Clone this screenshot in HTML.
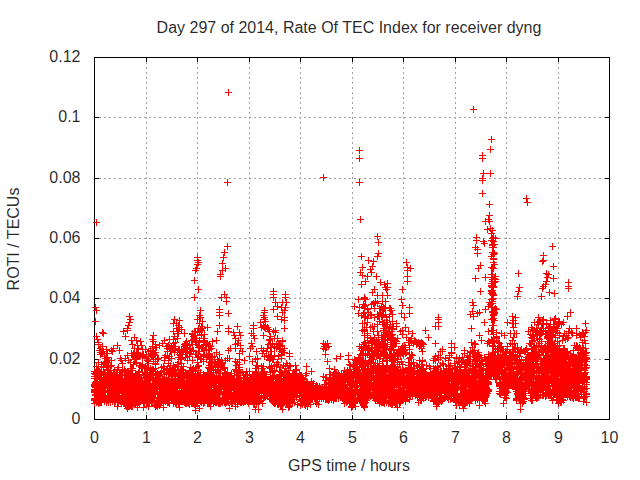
<!DOCTYPE html>
<html><head><meta charset="utf-8"><title>Day 297 of 2014, Rate Of TEC Index for receiver dyng</title>
<style>
html,body{margin:0;padding:0;background:#fff;width:640px;height:480px;overflow:hidden}
svg{display:block;position:absolute;left:0;top:0}
text{font-family:"Liberation Sans",Arial,sans-serif;font-size:16px;fill:#000;fill-opacity:.85}
</style></head><body>
<svg width="640" height="480" viewBox="0 0 640 480">
<rect width="640" height="480" fill="#fff"/>
<g shape-rendering="crispEdges" fill="none">
<path d="M146.5 62V419M197.5 62V419M249.5 62V419M300.5 62V419M352.5 62V419M403.5 62V419M455.5 62V419M506.5 62V419M558.5 62V419M99 359.5H609M99 298.5H609M99 238.5H609M99 178.5H609M99 117.5H609" stroke="#a0a0a0" stroke-width="1" stroke-dasharray="2 3"/>
<path d="M94.5 419v-4M94.5 58v4M146.5 419v-4M146.5 58v4M197.5 419v-4M197.5 58v4M249.5 419v-4M249.5 58v4M300.5 419v-4M300.5 58v4M352.5 419v-4M352.5 58v4M403.5 419v-4M403.5 58v4M455.5 419v-4M455.5 58v4M506.5 419v-4M506.5 58v4M558.5 419v-4M558.5 58v4M609.5 419v-4M609.5 58v4M95 419.5h4M609 419.5h-4M95 359.5h4M609 359.5h-4M95 298.5h4M609 298.5h-4M95 238.5h4M609 238.5h-4M95 178.5h4M609 178.5h-4M95 117.5h4M609 117.5h-4M95 57.5h4M609 57.5h-4" stroke="#000" stroke-width="1"/>
<path d="M94.5 57.5H609.5V419.5H94.5Z" stroke="#000" stroke-width="1"/>
<path d="M91 386.5h7M94.5 383v7M91 400.5h7M94.5 397v7M91 378.5h7M94.5 375v7M91 399.5h7M94.5 396v7M91 398.5h7M94.5 395v7M91 390.5h7M94.5 387v7M91 386.5h7M94.5 383v7M91 385.5h7M94.5 382v7M91 384.5h7M94.5 381v7M91 389.5h7M94.5 386v7M91 391.5h7M94.5 388v7M91 392.5h7M94.5 389v7M91 403.5h7M94.5 400v7M91 373.5h7M94.5 370v7M91 376.5h7M94.5 373v7M91 371.5h7M94.5 368v7M92 391.5h7M95.5 388v7M92 390.5h7M95.5 387v7M92 384.5h7M95.5 381v7M92 378.5h7M95.5 375v7M92 383.5h7M95.5 380v7M92 395.5h7M95.5 392v7M92 383.5h7M95.5 380v7M92 387.5h7M95.5 384v7M92 378.5h7M95.5 375v7M92 399.5h7M95.5 396v7M92 382.5h7M95.5 379v7M92 385.5h7M95.5 382v7M92 400.5h7M95.5 397v7M92 391.5h7M95.5 388v7M92 399.5h7M95.5 396v7M92 394.5h7M95.5 391v7M92 376.5h7M95.5 373v7M93 366.5h7M96.5 363v7M93 366.5h7M96.5 363v7M95 376.5h7M98.5 373v7M92 376.5h7M95.5 373v7M92 374.5h7M95.5 371v7M93 386.5h7M96.5 383v7M93 400.5h7M96.5 397v7M93 395.5h7M96.5 392v7M93 381.5h7M96.5 378v7M93 399.5h7M96.5 396v7M93 402.5h7M96.5 399v7M93 401.5h7M96.5 398v7M93 373.5h7M96.5 370v7M93 372.5h7M96.5 369v7M93 373.5h7M96.5 370v7M95 376.5h7M98.5 373v7M94 374.5h7M97.5 371v7M95 374.5h7M98.5 371v7M94 371.5h7M97.5 368v7M94 389.5h7M97.5 386v7M94 391.5h7M97.5 388v7M94 400.5h7M97.5 397v7M94 387.5h7M97.5 384v7M94 393.5h7M97.5 390v7M94 395.5h7M97.5 392v7M94 387.5h7M97.5 384v7M94 391.5h7M97.5 388v7M94 397.5h7M97.5 394v7M94 401.5h7M97.5 398v7M94 382.5h7M97.5 379v7M94 401.5h7M97.5 398v7M94 378.5h7M97.5 375v7M94 397.5h7M97.5 394v7M94 398.5h7M97.5 395v7M94 381.5h7M97.5 378v7M94 388.5h7M97.5 385v7M94 398.5h7M97.5 395v7M94 378.5h7M97.5 375v7M94 377.5h7M97.5 374v7M94 373.5h7M97.5 370v7M95 385.5h7M98.5 382v7M95 402.5h7M98.5 399v7M95 389.5h7M98.5 386v7M95 403.5h7M98.5 400v7M95 391.5h7M98.5 388v7M95 391.5h7M98.5 388v7M95 400.5h7M98.5 397v7M95 397.5h7M98.5 394v7M95 393.5h7M98.5 390v7M95 389.5h7M98.5 386v7M95 400.5h7M98.5 397v7M95 375.5h7M98.5 372v7M95 375.5h7M98.5 372v7M94 371.5h7M97.5 368v7M95 371.5h7M98.5 368v7M94 369.5h7M97.5 366v7M96 390.5h7M99.5 387v7M96 393.5h7M99.5 390v7M96 394.5h7M99.5 391v7M96 386.5h7M99.5 383v7M96 402.5h7M99.5 399v7M96 390.5h7M99.5 387v7M96 371.5h7M99.5 368v7M96 375.5h7M99.5 372v7M97 375.5h7M100.5 372v7M95 374.5h7M98.5 371v7M97 375.5h7M100.5 372v7M96 350.5h7M99.5 347v7M97 348.5h7M100.5 345v7M95 344.5h7M98.5 341v7M98 352.5h7M101.5 349v7M97 354.5h7M100.5 351v7M97 354.5h7M100.5 351v7M97 379.5h7M100.5 376v7M97 398.5h7M100.5 395v7M97 402.5h7M100.5 399v7M97 399.5h7M100.5 396v7M97 379.5h7M100.5 376v7M97 386.5h7M100.5 383v7M97 386.5h7M100.5 383v7M97 374.5h7M100.5 371v7M97 374.5h7M100.5 371v7M95 370.5h7M98.5 367v7M95 362.5h7M98.5 359v7M98 366.5h7M101.5 363v7M98 364.5h7M101.5 361v7M98 394.5h7M101.5 391v7M98 383.5h7M101.5 380v7M98 392.5h7M101.5 389v7M98 402.5h7M101.5 399v7M98 387.5h7M101.5 384v7M98 384.5h7M101.5 381v7M98 389.5h7M101.5 386v7M98 375.5h7M101.5 372v7M99 391.5h7M102.5 388v7M99 383.5h7M102.5 380v7M99 384.5h7M102.5 381v7M99 386.5h7M102.5 383v7M99 389.5h7M102.5 386v7M99 380.5h7M102.5 377v7M99 397.5h7M102.5 394v7M99 392.5h7M102.5 389v7M99 385.5h7M102.5 382v7M99 353.5h7M102.5 350v7M100 351.5h7M103.5 348v7M97 352.5h7M100.5 349v7M100 387.5h7M103.5 384v7M100 396.5h7M103.5 393v7M100 380.5h7M103.5 377v7M100 396.5h7M103.5 393v7M100 397.5h7M103.5 394v7M100 399.5h7M103.5 396v7M100 395.5h7M103.5 392v7M100 387.5h7M103.5 384v7M100 380.5h7M103.5 377v7M100 391.5h7M103.5 388v7M100 374.5h7M103.5 371v7M103 349.5h7M106.5 346v7M99 346.5h7M102.5 343v7M103 353.5h7M106.5 350v7M101 373.5h7M104.5 370v7M100 372.5h7M103.5 369v7M100 373.5h7M103.5 370v7M101 379.5h7M104.5 376v7M101 399.5h7M104.5 396v7M101 392.5h7M104.5 389v7M101 388.5h7M104.5 385v7M101 392.5h7M104.5 389v7M101 396.5h7M104.5 393v7M101 388.5h7M104.5 385v7M101 399.5h7M104.5 396v7M101 401.5h7M104.5 398v7M101 377.5h7M104.5 374v7M103 367.5h7M106.5 364v7M102 373.5h7M105.5 370v7M100 367.5h7M103.5 364v7M102 379.5h7M105.5 376v7M102 386.5h7M105.5 383v7M102 386.5h7M105.5 383v7M102 396.5h7M105.5 393v7M102 378.5h7M105.5 375v7M101 356.5h7M104.5 353v7M102 363.5h7M105.5 360v7M104 357.5h7M107.5 354v7M101 363.5h7M104.5 360v7M102 362.5h7M105.5 359v7M103 361.5h7M106.5 358v7M103 400.5h7M106.5 397v7M103 382.5h7M106.5 379v7M103 381.5h7M106.5 378v7M103 381.5h7M106.5 378v7M103 402.5h7M106.5 399v7M103 402.5h7M106.5 399v7M103 384.5h7M106.5 381v7M103 402.5h7M106.5 399v7M103 383.5h7M106.5 380v7M103 378.5h7M106.5 375v7M104 390.5h7M107.5 387v7M104 400.5h7M107.5 397v7M104 397.5h7M107.5 394v7M104 399.5h7M107.5 396v7M104 374.5h7M107.5 371v7M104 373.5h7M107.5 370v7M104 377.5h7M107.5 374v7M104 373.5h7M107.5 370v7M104 377.5h7M107.5 374v7M106 372.5h7M109.5 369v7M103 376.5h7M106.5 373v7M103 358.5h7M106.5 355v7M104 353.5h7M107.5 350v7M102 358.5h7M105.5 355v7M105 383.5h7M108.5 380v7M105 392.5h7M108.5 389v7M105 397.5h7M108.5 394v7M105 380.5h7M108.5 377v7M105 396.5h7M108.5 393v7M105 378.5h7M108.5 375v7M105 402.5h7M108.5 399v7M105 390.5h7M108.5 387v7M105 388.5h7M108.5 385v7M105 372.5h7M108.5 369v7M105 376.5h7M108.5 373v7M105 360.5h7M108.5 357v7M104 360.5h7M107.5 357v7M103 358.5h7M106.5 355v7M107 370.5h7M110.5 367v7M105 373.5h7M108.5 370v7M103 376.5h7M106.5 373v7M106 392.5h7M109.5 389v7M106 388.5h7M109.5 385v7M106 397.5h7M109.5 394v7M106 388.5h7M109.5 385v7M106 390.5h7M109.5 387v7M106 397.5h7M109.5 394v7M106 391.5h7M109.5 388v7M106 386.5h7M109.5 383v7M106 399.5h7M109.5 396v7M106 388.5h7M109.5 385v7M106 399.5h7M109.5 396v7M106 398.5h7M109.5 395v7M106 375.5h7M109.5 372v7M106 377.5h7M109.5 374v7M104 369.5h7M107.5 366v7M105 366.5h7M108.5 363v7M107 366.5h7M110.5 363v7M107 387.5h7M110.5 384v7M107 393.5h7M110.5 390v7M107 402.5h7M110.5 399v7M107 400.5h7M110.5 397v7M107 387.5h7M110.5 384v7M107 385.5h7M110.5 382v7M107 400.5h7M110.5 397v7M107 390.5h7M110.5 387v7M107 395.5h7M110.5 392v7M105 365.5h7M108.5 362v7M108 360.5h7M111.5 357v7M104 362.5h7M107.5 359v7M108 386.5h7M111.5 383v7M108 396.5h7M111.5 393v7M108 397.5h7M111.5 394v7M108 379.5h7M111.5 376v7M108 396.5h7M111.5 393v7M108 398.5h7M111.5 395v7M108 389.5h7M111.5 386v7M108 380.5h7M111.5 377v7M108 395.5h7M111.5 392v7M108 384.5h7M111.5 381v7M108 394.5h7M111.5 391v7M108 374.5h7M111.5 371v7M110 372.5h7M113.5 369v7M108 365.5h7M111.5 362v7M108 365.5h7M111.5 362v7M109 381.5h7M112.5 378v7M109 386.5h7M112.5 383v7M109 397.5h7M112.5 394v7M109 390.5h7M112.5 387v7M109 401.5h7M112.5 398v7M109 394.5h7M112.5 391v7M109 394.5h7M112.5 391v7M109 397.5h7M112.5 394v7M109 397.5h7M112.5 394v7M109 387.5h7M112.5 384v7M109 384.5h7M112.5 381v7M109 389.5h7M112.5 386v7M109 390.5h7M112.5 387v7M109 351.5h7M112.5 348v7M108 350.5h7M111.5 347v7M109 351.5h7M112.5 348v7M110 398.5h7M113.5 395v7M110 383.5h7M113.5 380v7M110 393.5h7M113.5 390v7M110 388.5h7M113.5 385v7M110 388.5h7M113.5 385v7M110 398.5h7M113.5 395v7M110 382.5h7M113.5 379v7M110 376.5h7M113.5 373v7M110 376.5h7M113.5 373v7M110 377.5h7M113.5 374v7M110 348.5h7M113.5 345v7M111 395.5h7M114.5 392v7M111 392.5h7M114.5 389v7M111 402.5h7M114.5 399v7M111 393.5h7M114.5 390v7M111 386.5h7M114.5 383v7M111 391.5h7M114.5 388v7M111 378.5h7M114.5 375v7M111 396.5h7M114.5 393v7M111 395.5h7M114.5 392v7M111 389.5h7M114.5 386v7M111 399.5h7M114.5 396v7M111 397.5h7M114.5 394v7M111 372.5h7M114.5 369v7M112 400.5h7M115.5 397v7M112 395.5h7M115.5 392v7M112 399.5h7M115.5 396v7M112 388.5h7M115.5 385v7M112 378.5h7M115.5 375v7M112 398.5h7M115.5 395v7M112 384.5h7M115.5 381v7M112 382.5h7M115.5 379v7M112 398.5h7M115.5 395v7M112 395.5h7M115.5 392v7M112 383.5h7M115.5 380v7M112 385.5h7M115.5 382v7M112 401.5h7M115.5 398v7M112 385.5h7M115.5 382v7M112 396.5h7M115.5 393v7M112 381.5h7M115.5 378v7M112 375.5h7M115.5 372v7M113 397.5h7M116.5 394v7M113 393.5h7M116.5 390v7M113 386.5h7M116.5 383v7M113 394.5h7M116.5 391v7M113 389.5h7M116.5 386v7M113 377.5h7M116.5 374v7M111 370.5h7M114.5 367v7M113 372.5h7M116.5 369v7M115 367.5h7M118.5 364v7M114 369.5h7M117.5 366v7M110 373.5h7M113.5 370v7M114 372.5h7M117.5 369v7M114 380.5h7M117.5 377v7M114 390.5h7M117.5 387v7M114 383.5h7M117.5 380v7M114 396.5h7M117.5 393v7M114 401.5h7M117.5 398v7M114 385.5h7M117.5 382v7M114 392.5h7M117.5 389v7M114 391.5h7M117.5 388v7M114 345.5h7M117.5 342v7M114 406.5h7M117.5 403v7M115 380.5h7M118.5 377v7M115 385.5h7M118.5 382v7M115 398.5h7M118.5 395v7M115 390.5h7M118.5 387v7M115 389.5h7M118.5 386v7M115 402.5h7M118.5 399v7M115 386.5h7M118.5 383v7M115 379.5h7M118.5 376v7M115 388.5h7M118.5 385v7M116 386.5h7M119.5 383v7M116 392.5h7M119.5 389v7M116 397.5h7M119.5 394v7M116 393.5h7M119.5 390v7M116 398.5h7M119.5 395v7M116 392.5h7M119.5 389v7M116 383.5h7M119.5 380v7M116 393.5h7M119.5 390v7M116 390.5h7M119.5 387v7M116 382.5h7M119.5 379v7M116 393.5h7M119.5 390v7M116 376.5h7M119.5 373v7M118 360.5h7M121.5 357v7M117 358.5h7M120.5 355v7M119 363.5h7M122.5 360v7M116 350.5h7M119.5 347v7M117 383.5h7M120.5 380v7M117 390.5h7M120.5 387v7M117 401.5h7M120.5 398v7M118 382.5h7M121.5 379v7M118 387.5h7M121.5 384v7M118 403.5h7M121.5 400v7M118 397.5h7M121.5 394v7M118 381.5h7M121.5 378v7M118 398.5h7M121.5 395v7M118 386.5h7M121.5 383v7M118 398.5h7M121.5 395v7M118 378.5h7M121.5 375v7M118 400.5h7M121.5 397v7M118 382.5h7M121.5 379v7M118 389.5h7M121.5 386v7M118 395.5h7M121.5 392v7M118 372.5h7M121.5 369v7M119 387.5h7M122.5 384v7M119 393.5h7M122.5 390v7M119 385.5h7M122.5 382v7M119 379.5h7M122.5 376v7M119 386.5h7M122.5 383v7M119 397.5h7M122.5 394v7M120 384.5h7M123.5 381v7M120 381.5h7M123.5 378v7M120 389.5h7M123.5 386v7M120 393.5h7M123.5 390v7M120 401.5h7M123.5 398v7M120 382.5h7M123.5 379v7M120 396.5h7M123.5 393v7M120 390.5h7M123.5 387v7M123 372.5h7M126.5 369v7M119 375.5h7M122.5 372v7M121 378.5h7M124.5 375v7M117 374.5h7M120.5 371v7M119 370.5h7M122.5 367v7M121 369.5h7M124.5 366v7M120 331.5h7M123.5 328v7M121 402.5h7M124.5 399v7M121 388.5h7M124.5 385v7M121 387.5h7M124.5 384v7M121 397.5h7M124.5 394v7M121 390.5h7M124.5 387v7M121 389.5h7M124.5 386v7M121 388.5h7M124.5 385v7M121 389.5h7M124.5 386v7M121 381.5h7M124.5 378v7M121 380.5h7M124.5 377v7M121 397.5h7M124.5 394v7M121 392.5h7M124.5 389v7M121 395.5h7M124.5 392v7M121 398.5h7M124.5 395v7M121 384.5h7M124.5 381v7M121 384.5h7M124.5 381v7M121 385.5h7M124.5 382v7M121 375.5h7M124.5 372v7M122 395.5h7M125.5 392v7M122 379.5h7M125.5 376v7M122 389.5h7M125.5 386v7M122 394.5h7M125.5 391v7M122 385.5h7M125.5 382v7M122 387.5h7M125.5 384v7M122 394.5h7M125.5 391v7M122 394.5h7M125.5 391v7M122 382.5h7M125.5 379v7M122 397.5h7M125.5 394v7M122 380.5h7M125.5 377v7M122 404.5h7M125.5 401v7M122 383.5h7M125.5 380v7M122 385.5h7M125.5 382v7M119 371.5h7M122.5 368v7M122 371.5h7M125.5 368v7M119 371.5h7M122.5 368v7M123 384.5h7M126.5 381v7M123 388.5h7M126.5 385v7M123 380.5h7M126.5 377v7M123 379.5h7M126.5 376v7M123 405.5h7M126.5 402v7M123 391.5h7M126.5 388v7M123 384.5h7M126.5 381v7M123 399.5h7M126.5 396v7M123 378.5h7M126.5 375v7M123 385.5h7M126.5 382v7M123 406.5h7M126.5 403v7M123 404.5h7M126.5 401v7M123 396.5h7M126.5 393v7M124 383.5h7M127.5 380v7M124 406.5h7M127.5 403v7M124 388.5h7M127.5 385v7M124 388.5h7M127.5 385v7M124 381.5h7M127.5 378v7M124 403.5h7M127.5 400v7M124 399.5h7M127.5 396v7M124 395.5h7M127.5 392v7M124 397.5h7M127.5 394v7M124 381.5h7M127.5 378v7M124 386.5h7M127.5 383v7M124 396.5h7M127.5 393v7M124 408.5h7M127.5 405v7M124 403.5h7M127.5 400v7M124 377.5h7M127.5 374v7M124 371.5h7M127.5 368v7M125 383.5h7M128.5 380v7M125 379.5h7M128.5 376v7M125 403.5h7M128.5 400v7M125 406.5h7M128.5 403v7M125 385.5h7M128.5 382v7M125 403.5h7M128.5 400v7M125 390.5h7M128.5 387v7M125 387.5h7M128.5 384v7M125 393.5h7M128.5 390v7M125 378.5h7M128.5 375v7M125 391.5h7M128.5 388v7M125 384.5h7M128.5 381v7M125 399.5h7M128.5 396v7M125 393.5h7M128.5 390v7M125 403.5h7M128.5 400v7M125 374.5h7M128.5 371v7M124 355.5h7M127.5 352v7M127 362.5h7M130.5 359v7M125 360.5h7M128.5 357v7M126 382.5h7M129.5 379v7M126 390.5h7M129.5 387v7M126 402.5h7M129.5 399v7M126 396.5h7M129.5 393v7M126 399.5h7M129.5 396v7M126 395.5h7M129.5 392v7M126 384.5h7M129.5 381v7M126 401.5h7M129.5 398v7M126 378.5h7M129.5 375v7M126 398.5h7M129.5 395v7M126 384.5h7M129.5 381v7M126 392.5h7M129.5 389v7M126 406.5h7M129.5 403v7M126 393.5h7M129.5 390v7M126 380.5h7M129.5 377v7M126 390.5h7M129.5 387v7M126 397.5h7M129.5 394v7M126 380.5h7M129.5 377v7M126 385.5h7M129.5 382v7M126 379.5h7M129.5 376v7M126 375.5h7M129.5 372v7M127 402.5h7M130.5 399v7M127 386.5h7M130.5 383v7M127 401.5h7M130.5 398v7M127 386.5h7M130.5 383v7M127 398.5h7M130.5 395v7M127 387.5h7M130.5 384v7M127 395.5h7M130.5 392v7M127 404.5h7M130.5 401v7M127 380.5h7M130.5 377v7M127 401.5h7M130.5 398v7M127 393.5h7M130.5 390v7M127 389.5h7M130.5 386v7M127 374.5h7M130.5 371v7M125 372.5h7M128.5 369v7M127 368.5h7M130.5 365v7M128 368.5h7M131.5 365v7M128 394.5h7M131.5 391v7M128 384.5h7M131.5 381v7M128 394.5h7M131.5 391v7M128 387.5h7M131.5 384v7M128 382.5h7M131.5 379v7M128 382.5h7M131.5 379v7M128 402.5h7M131.5 399v7M128 406.5h7M131.5 403v7M128 382.5h7M131.5 379v7M128 378.5h7M131.5 375v7M128 386.5h7M131.5 383v7M128 382.5h7M131.5 379v7M128 384.5h7M131.5 381v7M128 395.5h7M131.5 392v7M128 391.5h7M131.5 388v7M128 391.5h7M131.5 388v7M128 384.5h7M131.5 381v7M128 375.5h7M131.5 372v7M128 353.5h7M131.5 350v7M129 392.5h7M132.5 389v7M129 403.5h7M132.5 400v7M129 397.5h7M132.5 394v7M129 381.5h7M132.5 378v7M129 382.5h7M132.5 379v7M129 406.5h7M132.5 403v7M129 379.5h7M132.5 376v7M129 387.5h7M132.5 384v7M129 405.5h7M132.5 402v7M129 378.5h7M132.5 375v7M129 383.5h7M132.5 380v7M129 384.5h7M132.5 381v7M129 380.5h7M132.5 377v7M129 391.5h7M132.5 388v7M129 395.5h7M132.5 392v7M129 387.5h7M132.5 384v7M129 381.5h7M132.5 378v7M129 376.5h7M132.5 373v7M129 376.5h7M132.5 373v7M129 375.5h7M132.5 372v7M127 368.5h7M130.5 365v7M129 368.5h7M132.5 365v7M129 370.5h7M132.5 367v7M130 383.5h7M133.5 380v7M130 395.5h7M133.5 392v7M130 397.5h7M133.5 394v7M130 392.5h7M133.5 389v7M130 401.5h7M133.5 398v7M130 390.5h7M133.5 387v7M130 390.5h7M133.5 387v7M130 386.5h7M133.5 383v7M130 403.5h7M133.5 400v7M130 386.5h7M133.5 383v7M130 378.5h7M133.5 375v7M127 376.5h7M130.5 373v7M126 380.5h7M129.5 377v7M129 379.5h7M132.5 376v7M131 401.5h7M134.5 398v7M131 386.5h7M134.5 383v7M131 392.5h7M134.5 389v7M131 378.5h7M134.5 375v7M131 387.5h7M134.5 384v7M131 402.5h7M134.5 399v7M131 381.5h7M134.5 378v7M131 400.5h7M134.5 397v7M131 394.5h7M134.5 391v7M131 385.5h7M134.5 382v7M131 397.5h7M134.5 394v7M131 355.5h7M134.5 352v7M131 357.5h7M134.5 354v7M129 355.5h7M132.5 352v7M132 403.5h7M135.5 400v7M132 389.5h7M135.5 386v7M132 397.5h7M135.5 394v7M132 380.5h7M135.5 377v7M132 377.5h7M135.5 374v7M132 373.5h7M135.5 370v7M132 374.5h7M135.5 371v7M132 374.5h7M135.5 371v7M132 376.5h7M135.5 373v7M133 359.5h7M136.5 356v7M133 358.5h7M136.5 355v7M132 357.5h7M135.5 354v7M130 364.5h7M133.5 361v7M132 359.5h7M135.5 356v7M131 359.5h7M134.5 356v7M133 393.5h7M136.5 390v7M133 400.5h7M136.5 397v7M133 396.5h7M136.5 393v7M133 390.5h7M136.5 387v7M133 398.5h7M136.5 395v7M133 390.5h7M136.5 387v7M133 402.5h7M136.5 399v7M133 385.5h7M136.5 382v7M133 381.5h7M136.5 378v7M133 377.5h7M136.5 374v7M134 354.5h7M137.5 351v7M131 355.5h7M134.5 352v7M131 355.5h7M134.5 352v7M133 352.5h7M136.5 349v7M134 394.5h7M137.5 391v7M134 401.5h7M137.5 398v7M134 398.5h7M137.5 395v7M134 382.5h7M137.5 379v7M134 390.5h7M137.5 387v7M134 390.5h7M137.5 387v7M134 403.5h7M137.5 400v7M134 380.5h7M137.5 377v7M134 374.5h7M137.5 371v7M134 376.5h7M137.5 373v7M134 348.5h7M137.5 345v7M134 407.5h7M137.5 404v7M135 388.5h7M138.5 385v7M135 402.5h7M138.5 399v7M135 397.5h7M138.5 394v7M135 379.5h7M138.5 376v7M135 396.5h7M138.5 393v7M135 401.5h7M138.5 398v7M135 402.5h7M138.5 399v7M135 396.5h7M138.5 393v7M135 372.5h7M138.5 369v7M135 377.5h7M138.5 374v7M136 402.5h7M139.5 399v7M136 385.5h7M139.5 382v7M136 403.5h7M139.5 400v7M136 401.5h7M139.5 398v7M136 387.5h7M139.5 384v7M136 386.5h7M139.5 383v7M136 381.5h7M139.5 378v7M136 401.5h7M139.5 398v7M136 383.5h7M139.5 380v7M136 378.5h7M139.5 375v7M136 400.5h7M139.5 397v7M136 371.5h7M139.5 368v7M136 372.5h7M139.5 369v7M133 363.5h7M136.5 360v7M133 362.5h7M136.5 359v7M138 366.5h7M141.5 363v7M137 392.5h7M140.5 389v7M137 396.5h7M140.5 393v7M137 401.5h7M140.5 398v7M137 396.5h7M140.5 393v7M137 387.5h7M140.5 384v7M137 380.5h7M140.5 377v7M137 396.5h7M140.5 393v7M137 377.5h7M140.5 374v7M138 396.5h7M141.5 393v7M138 390.5h7M141.5 387v7M138 388.5h7M141.5 385v7M138 387.5h7M141.5 384v7M138 390.5h7M141.5 387v7M138 385.5h7M141.5 382v7M138 384.5h7M141.5 381v7M138 382.5h7M141.5 379v7M138 389.5h7M141.5 386v7M138 385.5h7M141.5 382v7M138 399.5h7M141.5 396v7M138 399.5h7M141.5 396v7M138 378.5h7M141.5 375v7M139 394.5h7M142.5 391v7M139 400.5h7M142.5 397v7M139 386.5h7M142.5 383v7M139 396.5h7M142.5 393v7M139 385.5h7M142.5 382v7M139 391.5h7M142.5 388v7M139 395.5h7M142.5 392v7M139 383.5h7M142.5 380v7M139 380.5h7M142.5 377v7M139 398.5h7M142.5 395v7M139 398.5h7M142.5 395v7M139 395.5h7M142.5 392v7M139 372.5h7M142.5 369v7M139 364.5h7M142.5 361v7M137 365.5h7M140.5 362v7M142 366.5h7M145.5 363v7M140 397.5h7M143.5 394v7M140 385.5h7M143.5 382v7M140 395.5h7M143.5 392v7M140 387.5h7M143.5 384v7M140 386.5h7M143.5 383v7M140 390.5h7M143.5 387v7M140 391.5h7M143.5 388v7M140 395.5h7M143.5 392v7M140 394.5h7M143.5 391v7M140 395.5h7M143.5 392v7M140 388.5h7M143.5 385v7M140 395.5h7M143.5 392v7M140 387.5h7M143.5 384v7M140 393.5h7M143.5 390v7M140 389.5h7M143.5 386v7M140 375.5h7M143.5 372v7M140 407.5h7M143.5 404v7M141 381.5h7M144.5 378v7M141 394.5h7M144.5 391v7M141 381.5h7M144.5 378v7M141 400.5h7M144.5 397v7M141 381.5h7M144.5 378v7M141 387.5h7M144.5 384v7M141 390.5h7M144.5 387v7M141 381.5h7M144.5 378v7M141 386.5h7M144.5 383v7M141 385.5h7M144.5 382v7M141 396.5h7M144.5 393v7M141 403.5h7M144.5 400v7M141 387.5h7M144.5 384v7M141 398.5h7M144.5 395v7M141 382.5h7M144.5 379v7M141 374.5h7M144.5 371v7M139 357.5h7M142.5 354v7M140 355.5h7M143.5 352v7M139 356.5h7M142.5 353v7M142 374.5h7M145.5 371v7M138 367.5h7M141.5 364v7M143 368.5h7M146.5 365v7M142 384.5h7M145.5 381v7M142 394.5h7M145.5 391v7M142 395.5h7M145.5 392v7M142 390.5h7M145.5 387v7M142 383.5h7M145.5 380v7M142 388.5h7M145.5 385v7M142 397.5h7M145.5 394v7M142 383.5h7M145.5 380v7M142 380.5h7M145.5 377v7M142 390.5h7M145.5 387v7M145 351.5h7M148.5 348v7M147 354.5h7M150.5 351v7M144 360.5h7M147.5 357v7M142 367.5h7M145.5 364v7M143 368.5h7M146.5 365v7M137 377.5h7M140.5 374v7M145 361.5h7M148.5 358v7M145 367.5h7M148.5 364v7M145 363.5h7M148.5 360v7M142 349.5h7M145.5 346v7M139 355.5h7M142.5 352v7M140 354.5h7M143.5 351v7M143 383.5h7M146.5 380v7M143 386.5h7M146.5 383v7M143 386.5h7M146.5 383v7M143 403.5h7M146.5 400v7M143 386.5h7M146.5 383v7M143 384.5h7M146.5 381v7M143 401.5h7M146.5 398v7M143 381.5h7M146.5 378v7M143 402.5h7M146.5 399v7M143 373.5h7M146.5 370v7M143 372.5h7M146.5 369v7M144 403.5h7M147.5 400v7M144 396.5h7M147.5 393v7M144 382.5h7M147.5 379v7M144 392.5h7M147.5 389v7M144 382.5h7M147.5 379v7M144 379.5h7M147.5 376v7M144 402.5h7M147.5 399v7M144 386.5h7M147.5 383v7M144 383.5h7M147.5 380v7M144 381.5h7M147.5 378v7M144 394.5h7M147.5 391v7M144 390.5h7M147.5 387v7M144 378.5h7M147.5 375v7M144 396.5h7M147.5 393v7M144 384.5h7M147.5 381v7M144 398.5h7M147.5 395v7M144 375.5h7M147.5 372v7M141 368.5h7M144.5 365v7M143 358.5h7M146.5 355v7M149 369.5h7M152.5 366v7M144 374.5h7M147.5 371v7M144 370.5h7M147.5 367v7M143 375.5h7M146.5 372v7M146 372.5h7M149.5 369v7M148 370.5h7M151.5 367v7M144 367.5h7M147.5 364v7M145 397.5h7M148.5 394v7M145 403.5h7M148.5 400v7M145 395.5h7M148.5 392v7M145 379.5h7M148.5 376v7M145 385.5h7M148.5 382v7M145 398.5h7M148.5 395v7M145 401.5h7M148.5 398v7M145 393.5h7M148.5 390v7M145 376.5h7M148.5 373v7M145 356.5h7M148.5 353v7M143 354.5h7M146.5 351v7M143 356.5h7M146.5 353v7M145 406.5h7M148.5 403v7M146 389.5h7M149.5 386v7M146 383.5h7M149.5 380v7M146 402.5h7M149.5 399v7M146 390.5h7M149.5 387v7M146 396.5h7M149.5 393v7M146 391.5h7M149.5 388v7M146 380.5h7M149.5 377v7M146 384.5h7M149.5 381v7M146 380.5h7M149.5 377v7M146 383.5h7M149.5 380v7M146 383.5h7M149.5 380v7M146 388.5h7M149.5 385v7M146 377.5h7M149.5 374v7M147 385.5h7M150.5 382v7M147 392.5h7M150.5 389v7M147 384.5h7M150.5 381v7M147 399.5h7M150.5 396v7M147 399.5h7M150.5 396v7M147 386.5h7M150.5 383v7M147 379.5h7M150.5 376v7M147 400.5h7M150.5 397v7M147 385.5h7M150.5 382v7M147 394.5h7M150.5 391v7M147 399.5h7M150.5 396v7M147 375.5h7M150.5 372v7M147 374.5h7M150.5 371v7M147 375.5h7M150.5 372v7M148 388.5h7M151.5 385v7M148 390.5h7M151.5 387v7M148 402.5h7M151.5 399v7M148 402.5h7M151.5 399v7M148 402.5h7M151.5 399v7M148 396.5h7M151.5 393v7M148 374.5h7M151.5 371v7M149 386.5h7M152.5 383v7M149 396.5h7M152.5 393v7M149 378.5h7M152.5 375v7M149 384.5h7M152.5 381v7M149 400.5h7M152.5 397v7M149 377.5h7M152.5 374v7M149 377.5h7M152.5 374v7M149 375.5h7M152.5 372v7M150 388.5h7M153.5 385v7M150 389.5h7M153.5 386v7M150 385.5h7M153.5 382v7M150 388.5h7M153.5 385v7M150 386.5h7M153.5 383v7M150 387.5h7M153.5 384v7M150 393.5h7M153.5 390v7M150 390.5h7M153.5 387v7M150 383.5h7M153.5 380v7M150 377.5h7M153.5 374v7M150 377.5h7M153.5 374v7M148 355.5h7M151.5 352v7M150 350.5h7M153.5 347v7M150 354.5h7M153.5 351v7M147 368.5h7M150.5 365v7M150 369.5h7M153.5 366v7M148 370.5h7M151.5 367v7M150 359.5h7M153.5 356v7M149 355.5h7M152.5 352v7M152 355.5h7M155.5 352v7M151 398.5h7M154.5 395v7M151 397.5h7M154.5 394v7M151 380.5h7M154.5 377v7M151 404.5h7M154.5 401v7M151 394.5h7M154.5 391v7M151 385.5h7M154.5 382v7M151 390.5h7M154.5 387v7M151 392.5h7M154.5 389v7M151 392.5h7M154.5 389v7M152 391.5h7M155.5 388v7M152 384.5h7M155.5 381v7M152 378.5h7M155.5 375v7M152 406.5h7M155.5 403v7M152 387.5h7M155.5 384v7M152 394.5h7M155.5 391v7M152 388.5h7M155.5 385v7M152 380.5h7M155.5 377v7M152 404.5h7M155.5 401v7M152 405.5h7M155.5 402v7M152 383.5h7M155.5 380v7M152 373.5h7M155.5 370v7M152 374.5h7M155.5 371v7M152 373.5h7M155.5 370v7M152 371.5h7M155.5 368v7M152 373.5h7M155.5 370v7M152 368.5h7M155.5 365v7M154 373.5h7M157.5 370v7M153 384.5h7M156.5 381v7M153 400.5h7M156.5 397v7M153 383.5h7M156.5 380v7M153 405.5h7M156.5 402v7M153 384.5h7M156.5 381v7M153 401.5h7M156.5 398v7M153 404.5h7M156.5 401v7M153 386.5h7M156.5 383v7M153 381.5h7M156.5 378v7M153 375.5h7M156.5 372v7M150 361.5h7M153.5 358v7M152 363.5h7M155.5 360v7M152 364.5h7M155.5 361v7M154 393.5h7M157.5 390v7M154 387.5h7M157.5 384v7M154 385.5h7M157.5 382v7M154 389.5h7M157.5 386v7M154 393.5h7M157.5 390v7M154 398.5h7M157.5 395v7M154 406.5h7M157.5 403v7M154 375.5h7M157.5 372v7M154 373.5h7M157.5 370v7M155 358.5h7M158.5 355v7M155 358.5h7M158.5 355v7M154 359.5h7M157.5 356v7M155 402.5h7M158.5 399v7M155 404.5h7M158.5 401v7M155 402.5h7M158.5 399v7M155 400.5h7M158.5 397v7M155 384.5h7M158.5 381v7M155 379.5h7M158.5 376v7M155 378.5h7M158.5 375v7M156 399.5h7M159.5 396v7M156 398.5h7M159.5 395v7M156 386.5h7M159.5 383v7M156 399.5h7M159.5 396v7M156 401.5h7M159.5 398v7M156 393.5h7M159.5 390v7M156 387.5h7M159.5 384v7M156 401.5h7M159.5 398v7M156 402.5h7M159.5 399v7M156 387.5h7M159.5 384v7M156 380.5h7M159.5 377v7M156 400.5h7M159.5 397v7M156 376.5h7M159.5 373v7M156 345.5h7M159.5 342v7M156 405.5h7M159.5 402v7M157 401.5h7M160.5 398v7M157 399.5h7M160.5 396v7M157 382.5h7M160.5 379v7M157 393.5h7M160.5 390v7M157 392.5h7M160.5 389v7M157 395.5h7M160.5 392v7M157 386.5h7M160.5 383v7M157 388.5h7M160.5 385v7M157 384.5h7M160.5 381v7M157 385.5h7M160.5 382v7M157 382.5h7M160.5 379v7M157 401.5h7M160.5 398v7M157 400.5h7M160.5 397v7M157 387.5h7M160.5 384v7M157 374.5h7M160.5 371v7M157 378.5h7M160.5 375v7M158 381.5h7M161.5 378v7M158 396.5h7M161.5 393v7M158 398.5h7M161.5 395v7M158 399.5h7M161.5 396v7M158 402.5h7M161.5 399v7M158 396.5h7M161.5 393v7M158 402.5h7M161.5 399v7M158 385.5h7M161.5 382v7M158 372.5h7M161.5 369v7M158 367.5h7M161.5 364v7M161 368.5h7M164.5 365v7M158 371.5h7M161.5 368v7M159 387.5h7M162.5 384v7M159 398.5h7M162.5 395v7M159 398.5h7M162.5 395v7M159 390.5h7M162.5 387v7M159 400.5h7M162.5 397v7M159 388.5h7M162.5 385v7M159 397.5h7M162.5 394v7M159 394.5h7M162.5 391v7M159 386.5h7M162.5 383v7M159 391.5h7M162.5 388v7M159 378.5h7M162.5 375v7M159 378.5h7M162.5 375v7M159 343.5h7M162.5 340v7M160 399.5h7M163.5 396v7M160 391.5h7M163.5 388v7M160 379.5h7M163.5 376v7M160 399.5h7M163.5 396v7M160 395.5h7M163.5 392v7M160 401.5h7M163.5 398v7M160 385.5h7M163.5 382v7M160 398.5h7M163.5 395v7M160 400.5h7M163.5 397v7M160 387.5h7M163.5 384v7M160 370.5h7M163.5 367v7M160 407.5h7M163.5 404v7M161 385.5h7M164.5 382v7M161 387.5h7M164.5 384v7M161 397.5h7M164.5 394v7M161 390.5h7M164.5 387v7M161 393.5h7M164.5 390v7M161 389.5h7M164.5 386v7M161 392.5h7M164.5 389v7M161 400.5h7M164.5 397v7M161 385.5h7M164.5 382v7M161 391.5h7M164.5 388v7M161 378.5h7M164.5 375v7M163 369.5h7M166.5 366v7M161 374.5h7M164.5 371v7M160 366.5h7M163.5 363v7M161 340.5h7M164.5 337v7M162 401.5h7M165.5 398v7M162 399.5h7M165.5 396v7M162 396.5h7M165.5 393v7M162 401.5h7M165.5 398v7M162 380.5h7M165.5 377v7M162 397.5h7M165.5 394v7M162 390.5h7M165.5 387v7M162 397.5h7M165.5 394v7M162 385.5h7M165.5 382v7M162 390.5h7M165.5 387v7M162 399.5h7M165.5 396v7M163 384.5h7M166.5 381v7M163 386.5h7M166.5 383v7M163 392.5h7M166.5 389v7M163 394.5h7M166.5 391v7M163 400.5h7M166.5 397v7M163 400.5h7M166.5 397v7M163 384.5h7M166.5 381v7M163 397.5h7M166.5 394v7M163 377.5h7M166.5 374v7M163 346.5h7M166.5 343v7M167 351.5h7M170.5 348v7M164 348.5h7M167.5 345v7M164 368.5h7M167.5 365v7M164 369.5h7M167.5 366v7M166 369.5h7M169.5 366v7M161 357.5h7M164.5 354v7M161 360.5h7M164.5 357v7M162 355.5h7M165.5 352v7M164 402.5h7M167.5 399v7M164 400.5h7M167.5 397v7M164 394.5h7M167.5 391v7M164 400.5h7M167.5 397v7M164 389.5h7M167.5 386v7M164 398.5h7M167.5 395v7M164 385.5h7M167.5 382v7M164 391.5h7M167.5 388v7M164 402.5h7M167.5 399v7M164 393.5h7M167.5 390v7M164 391.5h7M167.5 388v7M164 398.5h7M167.5 395v7M164 370.5h7M167.5 367v7M165 385.5h7M168.5 382v7M165 392.5h7M168.5 389v7M165 396.5h7M168.5 393v7M165 397.5h7M168.5 394v7M165 388.5h7M168.5 385v7M165 384.5h7M168.5 381v7M165 399.5h7M168.5 396v7M165 381.5h7M168.5 378v7M165 380.5h7M168.5 377v7M165 384.5h7M168.5 381v7M165 390.5h7M168.5 387v7M165 402.5h7M168.5 399v7M165 396.5h7M168.5 393v7M165 392.5h7M168.5 389v7M165 391.5h7M168.5 388v7M165 395.5h7M168.5 392v7M165 394.5h7M168.5 391v7M165 373.5h7M168.5 370v7M165 372.5h7M168.5 369v7M168 376.5h7M171.5 373v7M163 374.5h7M166.5 371v7M166 371.5h7M169.5 368v7M167 365.5h7M170.5 362v7M165 363.5h7M168.5 360v7M165 358.5h7M168.5 355v7M165 346.5h7M168.5 343v7M164 351.5h7M167.5 348v7M166 379.5h7M169.5 376v7M166 399.5h7M169.5 396v7M166 403.5h7M169.5 400v7M166 392.5h7M169.5 389v7M166 387.5h7M169.5 384v7M166 384.5h7M169.5 381v7M166 383.5h7M169.5 380v7M166 386.5h7M169.5 383v7M166 399.5h7M169.5 396v7M168 347.5h7M171.5 344v7M166 339.5h7M169.5 336v7M164 346.5h7M167.5 343v7M167 349.5h7M170.5 346v7M165 345.5h7M168.5 342v7M166 347.5h7M169.5 344v7M167 381.5h7M170.5 378v7M167 385.5h7M170.5 382v7M167 389.5h7M170.5 386v7M167 381.5h7M170.5 378v7M167 381.5h7M170.5 378v7M167 394.5h7M170.5 391v7M167 397.5h7M170.5 394v7M167 373.5h7M170.5 370v7M168 374.5h7M171.5 371v7M166 380.5h7M169.5 377v7M169 378.5h7M172.5 375v7M168 379.5h7M171.5 376v7M168 399.5h7M171.5 396v7M168 397.5h7M171.5 394v7M168 379.5h7M171.5 376v7M168 397.5h7M171.5 394v7M168 395.5h7M171.5 392v7M165 360.5h7M168.5 357v7M168 358.5h7M171.5 355v7M166 356.5h7M169.5 353v7M166 372.5h7M169.5 369v7M169 368.5h7M172.5 365v7M166 371.5h7M169.5 368v7M169 379.5h7M172.5 376v7M169 380.5h7M172.5 377v7M169 382.5h7M172.5 379v7M169 399.5h7M172.5 396v7M169 396.5h7M172.5 393v7M169 397.5h7M172.5 394v7M169 389.5h7M172.5 386v7M169 381.5h7M172.5 378v7M169 390.5h7M172.5 387v7M169 400.5h7M172.5 397v7M169 391.5h7M172.5 388v7M169 394.5h7M172.5 391v7M169 376.5h7M172.5 373v7M171 352.5h7M174.5 349v7M168 351.5h7M171.5 348v7M169 348.5h7M172.5 345v7M170 388.5h7M173.5 385v7M170 403.5h7M173.5 400v7M170 400.5h7M173.5 397v7M170 394.5h7M173.5 391v7M170 399.5h7M173.5 396v7M170 392.5h7M173.5 389v7M170 396.5h7M173.5 393v7M170 381.5h7M173.5 378v7M170 403.5h7M173.5 400v7M170 373.5h7M173.5 370v7M171 369.5h7M174.5 366v7M170 373.5h7M173.5 370v7M172 383.5h7M175.5 380v7M170 343.5h7M173.5 340v7M171 346.5h7M174.5 343v7M172 342.5h7M175.5 339v7M170 339.5h7M173.5 336v7M170 331.5h7M173.5 328v7M171 391.5h7M174.5 388v7M171 387.5h7M174.5 384v7M171 400.5h7M174.5 397v7M171 401.5h7M174.5 398v7M171 382.5h7M174.5 379v7M171 397.5h7M174.5 394v7M171 385.5h7M174.5 382v7M171 383.5h7M174.5 380v7M171 383.5h7M174.5 380v7M171 392.5h7M174.5 389v7M171 385.5h7M174.5 382v7M171 384.5h7M174.5 381v7M171 380.5h7M174.5 377v7M171 386.5h7M174.5 383v7M171 375.5h7M174.5 372v7M172 348.5h7M175.5 345v7M174 352.5h7M177.5 349v7M171 350.5h7M174.5 347v7M172 401.5h7M175.5 398v7M172 403.5h7M175.5 400v7M172 391.5h7M175.5 388v7M172 384.5h7M175.5 381v7M172 392.5h7M175.5 389v7M172 395.5h7M175.5 392v7M172 390.5h7M175.5 387v7M172 387.5h7M175.5 384v7M172 384.5h7M175.5 381v7M172 374.5h7M175.5 371v7M171 367.5h7M174.5 364v7M171 370.5h7M174.5 367v7M170 365.5h7M173.5 362v7M173 385.5h7M176.5 382v7M173 402.5h7M176.5 399v7M173 394.5h7M176.5 391v7M173 400.5h7M176.5 397v7M173 385.5h7M176.5 382v7M173 403.5h7M176.5 400v7M173 381.5h7M176.5 378v7M173 391.5h7M176.5 388v7M173 381.5h7M176.5 378v7M173 383.5h7M176.5 380v7M173 397.5h7M176.5 394v7M169 376.5h7M172.5 373v7M177 375.5h7M180.5 372v7M175 369.5h7M178.5 366v7M174 380.5h7M177.5 377v7M174 397.5h7M177.5 394v7M174 393.5h7M177.5 390v7M174 385.5h7M177.5 382v7M174 378.5h7M177.5 375v7M174 391.5h7M177.5 388v7M174 380.5h7M177.5 377v7M174 397.5h7M177.5 394v7M174 387.5h7M177.5 384v7M174 398.5h7M177.5 395v7M174 380.5h7M177.5 377v7M174 390.5h7M177.5 387v7M174 380.5h7M177.5 377v7M174 378.5h7M177.5 375v7M174 376.5h7M177.5 373v7M175 357.5h7M178.5 354v7M177 352.5h7M180.5 349v7M176 354.5h7M179.5 351v7M175 381.5h7M178.5 378v7M175 396.5h7M178.5 393v7M175 384.5h7M178.5 381v7M175 373.5h7M178.5 370v7M175 370.5h7M178.5 367v7M173 372.5h7M176.5 369v7M175 374.5h7M178.5 371v7M174 364.5h7M177.5 361v7M175 362.5h7M178.5 359v7M174 366.5h7M177.5 363v7M177 372.5h7M180.5 369v7M174 375.5h7M177.5 372v7M175 375.5h7M178.5 372v7M175 404.5h7M178.5 401v7M176 395.5h7M179.5 392v7M176 397.5h7M179.5 394v7M176 399.5h7M179.5 396v7M176 393.5h7M179.5 390v7M176 399.5h7M179.5 396v7M176 394.5h7M179.5 391v7M176 401.5h7M179.5 398v7M176 400.5h7M179.5 397v7M176 379.5h7M179.5 376v7M176 385.5h7M179.5 382v7M176 388.5h7M179.5 385v7M176 384.5h7M179.5 381v7M176 382.5h7M179.5 379v7M176 373.5h7M179.5 370v7M178 351.5h7M181.5 348v7M175 349.5h7M178.5 346v7M176 349.5h7M179.5 346v7M176 407.5h7M179.5 404v7M177 385.5h7M180.5 382v7M177 381.5h7M180.5 378v7M177 378.5h7M180.5 375v7M177 385.5h7M180.5 382v7M177 400.5h7M180.5 397v7M177 400.5h7M180.5 397v7M177 395.5h7M180.5 392v7M177 397.5h7M180.5 394v7M177 383.5h7M180.5 380v7M177 377.5h7M180.5 374v7M177 378.5h7M180.5 375v7M177 378.5h7M180.5 375v7M178 385.5h7M181.5 382v7M178 378.5h7M181.5 375v7M178 397.5h7M181.5 394v7M178 395.5h7M181.5 392v7M178 399.5h7M181.5 396v7M178 382.5h7M181.5 379v7M178 384.5h7M181.5 381v7M178 393.5h7M181.5 390v7M178 401.5h7M181.5 398v7M178 390.5h7M181.5 387v7M180 351.5h7M183.5 348v7M179 351.5h7M182.5 348v7M179 354.5h7M182.5 351v7M177 370.5h7M180.5 367v7M181 376.5h7M184.5 373v7M179 370.5h7M182.5 367v7M178 350.5h7M181.5 347v7M178 351.5h7M181.5 348v7M177 352.5h7M180.5 349v7M177 357.5h7M180.5 354v7M177 359.5h7M180.5 356v7M178 358.5h7M181.5 355v7M179 395.5h7M182.5 392v7M179 382.5h7M182.5 379v7M179 390.5h7M182.5 387v7M179 395.5h7M182.5 392v7M179 398.5h7M182.5 395v7M179 398.5h7M182.5 395v7M179 383.5h7M182.5 380v7M179 399.5h7M182.5 396v7M179 392.5h7M182.5 389v7M179 395.5h7M182.5 392v7M179 399.5h7M182.5 396v7M179 388.5h7M182.5 385v7M179 401.5h7M182.5 398v7M179 400.5h7M182.5 397v7M179 373.5h7M182.5 370v7M179 377.5h7M182.5 374v7M180 366.5h7M183.5 363v7M180 375.5h7M183.5 372v7M178 369.5h7M181.5 366v7M180 393.5h7M183.5 390v7M180 388.5h7M183.5 385v7M180 398.5h7M183.5 395v7M180 395.5h7M183.5 392v7M180 396.5h7M183.5 393v7M180 384.5h7M183.5 381v7M180 380.5h7M183.5 377v7M180 400.5h7M183.5 397v7M180 401.5h7M183.5 398v7M180 394.5h7M183.5 391v7M180 401.5h7M183.5 398v7M180 374.5h7M183.5 371v7M180 375.5h7M183.5 372v7M181 398.5h7M184.5 395v7M181 393.5h7M184.5 390v7M181 395.5h7M184.5 392v7M181 393.5h7M184.5 390v7M181 384.5h7M184.5 381v7M181 387.5h7M184.5 384v7M181 399.5h7M184.5 396v7M181 402.5h7M184.5 399v7M181 333.5h7M184.5 330v7M182 384.5h7M185.5 381v7M182 389.5h7M185.5 386v7M182 395.5h7M185.5 392v7M182 383.5h7M185.5 380v7M182 396.5h7M185.5 393v7M182 385.5h7M185.5 382v7M182 396.5h7M185.5 393v7M182 398.5h7M185.5 395v7M182 389.5h7M185.5 386v7M182 403.5h7M185.5 400v7M182 394.5h7M185.5 391v7M182 372.5h7M185.5 369v7M182 374.5h7M185.5 371v7M183 373.5h7M186.5 370v7M184 375.5h7M187.5 372v7M182 351.5h7M185.5 348v7M184 352.5h7M187.5 349v7M183 352.5h7M186.5 349v7M184 360.5h7M187.5 357v7M178 363.5h7M181.5 360v7M182 357.5h7M185.5 354v7M180 351.5h7M183.5 348v7M183 341.5h7M186.5 338v7M183 344.5h7M186.5 341v7M183 386.5h7M186.5 383v7M183 382.5h7M186.5 379v7M183 399.5h7M186.5 396v7M183 397.5h7M186.5 394v7M183 396.5h7M186.5 393v7M183 403.5h7M186.5 400v7M183 392.5h7M186.5 389v7M183 382.5h7M186.5 379v7M183 393.5h7M186.5 390v7M183 385.5h7M186.5 382v7M183 391.5h7M186.5 388v7M183 389.5h7M186.5 386v7M183 377.5h7M186.5 374v7M183 377.5h7M186.5 374v7M183 377.5h7M186.5 374v7M182 343.5h7M185.5 340v7M183 347.5h7M186.5 344v7M182 345.5h7M185.5 342v7M181 344.5h7M184.5 341v7M181 346.5h7M184.5 343v7M184 344.5h7M187.5 341v7M184 388.5h7M187.5 385v7M184 402.5h7M187.5 399v7M184 390.5h7M187.5 387v7M184 402.5h7M187.5 399v7M184 383.5h7M187.5 380v7M184 380.5h7M187.5 377v7M184 400.5h7M187.5 397v7M184 388.5h7M187.5 385v7M184 391.5h7M187.5 388v7M184 401.5h7M187.5 398v7M184 383.5h7M187.5 380v7M184 402.5h7M187.5 399v7M184 388.5h7M187.5 385v7M184 384.5h7M187.5 381v7M184 384.5h7M187.5 381v7M184 391.5h7M187.5 388v7M184 390.5h7M187.5 387v7M184 400.5h7M187.5 397v7M185 393.5h7M188.5 390v7M185 394.5h7M188.5 391v7M185 378.5h7M188.5 375v7M185 384.5h7M188.5 381v7M185 403.5h7M188.5 400v7M185 386.5h7M188.5 383v7M185 402.5h7M188.5 399v7M185 390.5h7M188.5 387v7M185 384.5h7M188.5 381v7M185 378.5h7M188.5 375v7M185 383.5h7M188.5 380v7M185 386.5h7M188.5 383v7M185 389.5h7M188.5 386v7M185 375.5h7M188.5 372v7M186 386.5h7M189.5 383v7M186 387.5h7M189.5 384v7M186 391.5h7M189.5 388v7M186 401.5h7M189.5 398v7M186 386.5h7M189.5 383v7M186 380.5h7M189.5 377v7M186 379.5h7M189.5 376v7M186 400.5h7M189.5 397v7M186 386.5h7M189.5 383v7M186 381.5h7M189.5 378v7M186 375.5h7M189.5 372v7M186 374.5h7M189.5 371v7M186 370.5h7M189.5 367v7M184 374.5h7M187.5 371v7M186 373.5h7M189.5 370v7M187 370.5h7M190.5 367v7M187 374.5h7M190.5 371v7M188 370.5h7M191.5 367v7M183 374.5h7M186.5 371v7M186 404.5h7M189.5 401v7M187 396.5h7M190.5 393v7M187 380.5h7M190.5 377v7M187 381.5h7M190.5 378v7M187 394.5h7M190.5 391v7M187 395.5h7M190.5 392v7M187 396.5h7M190.5 393v7M187 396.5h7M190.5 393v7M187 395.5h7M190.5 392v7M187 373.5h7M190.5 370v7M187 377.5h7M190.5 374v7M188 395.5h7M191.5 392v7M188 389.5h7M191.5 386v7M188 385.5h7M191.5 382v7M188 398.5h7M191.5 395v7M188 394.5h7M191.5 391v7M188 389.5h7M191.5 386v7M188 400.5h7M191.5 397v7M188 395.5h7M191.5 392v7M188 403.5h7M191.5 400v7M188 395.5h7M191.5 392v7M188 375.5h7M191.5 372v7M188 376.5h7M191.5 373v7M188 371.5h7M191.5 368v7M188 377.5h7M191.5 374v7M189 360.5h7M192.5 357v7M186 356.5h7M189.5 353v7M186 356.5h7M189.5 353v7M187 348.5h7M190.5 345v7M186 345.5h7M189.5 342v7M186 349.5h7M189.5 346v7M189 386.5h7M192.5 383v7M189 383.5h7M192.5 380v7M189 384.5h7M192.5 381v7M189 395.5h7M192.5 392v7M189 378.5h7M192.5 375v7M189 373.5h7M192.5 370v7M189 376.5h7M192.5 373v7M187 353.5h7M190.5 350v7M188 351.5h7M191.5 348v7M190 350.5h7M193.5 347v7M190 383.5h7M193.5 380v7M190 386.5h7M193.5 383v7M190 401.5h7M193.5 398v7M190 388.5h7M193.5 385v7M190 400.5h7M193.5 397v7M190 403.5h7M193.5 400v7M190 393.5h7M193.5 390v7M190 381.5h7M193.5 378v7M190 398.5h7M193.5 395v7M190 396.5h7M193.5 393v7M190 386.5h7M193.5 383v7M190 371.5h7M193.5 368v7M190 373.5h7M193.5 370v7M188 340.5h7M191.5 337v7M193 340.5h7M196.5 337v7M189 344.5h7M192.5 341v7M190 368.5h7M193.5 365v7M187 367.5h7M190.5 364v7M189 369.5h7M192.5 366v7M191 385.5h7M194.5 382v7M191 381.5h7M194.5 378v7M191 393.5h7M194.5 390v7M191 390.5h7M194.5 387v7M191 398.5h7M194.5 395v7M191 396.5h7M194.5 393v7M191 404.5h7M194.5 401v7M191 387.5h7M194.5 384v7M191 402.5h7M194.5 399v7M191 377.5h7M194.5 374v7M194 362.5h7M197.5 359v7M193 367.5h7M196.5 364v7M194 362.5h7M197.5 359v7M191 338.5h7M194.5 335v7M192 400.5h7M195.5 397v7M192 399.5h7M195.5 396v7M192 394.5h7M195.5 391v7M192 396.5h7M195.5 393v7M192 395.5h7M195.5 392v7M192 398.5h7M195.5 395v7M192 405.5h7M195.5 402v7M192 405.5h7M195.5 402v7M192 406.5h7M195.5 403v7M192 403.5h7M195.5 400v7M192 381.5h7M195.5 378v7M192 376.5h7M195.5 373v7M192 371.5h7M195.5 368v7M192 410.5h7M195.5 407v7M193 387.5h7M196.5 384v7M193 389.5h7M196.5 386v7M193 400.5h7M196.5 397v7M193 393.5h7M196.5 390v7M193 379.5h7M196.5 376v7M193 384.5h7M196.5 381v7M193 395.5h7M196.5 392v7M193 384.5h7M196.5 381v7M193 385.5h7M196.5 382v7M193 376.5h7M196.5 373v7M193 376.5h7M196.5 373v7M194 387.5h7M197.5 384v7M194 383.5h7M197.5 380v7M194 396.5h7M197.5 393v7M194 399.5h7M197.5 396v7M194 380.5h7M197.5 377v7M194 401.5h7M197.5 398v7M194 396.5h7M197.5 393v7M194 384.5h7M197.5 381v7M194 402.5h7M197.5 399v7M194 386.5h7M197.5 383v7M194 399.5h7M197.5 396v7M194 380.5h7M197.5 377v7M194 390.5h7M197.5 387v7M194 391.5h7M197.5 388v7M194 402.5h7M197.5 399v7M194 400.5h7M197.5 397v7M194 375.5h7M197.5 372v7M197 356.5h7M200.5 353v7M195 354.5h7M198.5 351v7M193 354.5h7M196.5 351v7M195 366.5h7M198.5 363v7M193 368.5h7M196.5 365v7M195 365.5h7M198.5 362v7M195 393.5h7M198.5 390v7M195 393.5h7M198.5 390v7M195 390.5h7M198.5 387v7M195 387.5h7M198.5 384v7M195 384.5h7M198.5 381v7M195 380.5h7M198.5 377v7M195 387.5h7M198.5 384v7M195 397.5h7M198.5 394v7M195 392.5h7M198.5 389v7M195 382.5h7M198.5 379v7M195 398.5h7M198.5 395v7M195 379.5h7M198.5 376v7M195 377.5h7M198.5 374v7M195 370.5h7M198.5 367v7M195 370.5h7M198.5 367v7M194 357.5h7M197.5 354v7M192 354.5h7M195.5 351v7M198 348.5h7M201.5 345v7M196 387.5h7M199.5 384v7M196 387.5h7M199.5 384v7M196 400.5h7M199.5 397v7M196 391.5h7M199.5 388v7M196 380.5h7M199.5 377v7M196 396.5h7M199.5 393v7M196 390.5h7M199.5 387v7M196 398.5h7M199.5 395v7M196 379.5h7M199.5 376v7M196 400.5h7M199.5 397v7M196 375.5h7M199.5 372v7M196 408.5h7M199.5 405v7M197 394.5h7M200.5 391v7M197 386.5h7M200.5 383v7M197 383.5h7M200.5 380v7M197 401.5h7M200.5 398v7M197 379.5h7M200.5 376v7M197 384.5h7M200.5 381v7M197 386.5h7M200.5 383v7M197 372.5h7M200.5 369v7M197 358.5h7M200.5 355v7M198 359.5h7M201.5 356v7M200 361.5h7M203.5 358v7M196 351.5h7M199.5 348v7M198 347.5h7M201.5 344v7M199 347.5h7M202.5 344v7M198 393.5h7M201.5 390v7M198 380.5h7M201.5 377v7M198 393.5h7M201.5 390v7M198 384.5h7M201.5 381v7M198 388.5h7M201.5 385v7M198 387.5h7M201.5 384v7M198 402.5h7M201.5 399v7M198 394.5h7M201.5 391v7M198 396.5h7M201.5 393v7M198 382.5h7M201.5 379v7M198 386.5h7M201.5 383v7M198 400.5h7M201.5 397v7M198 381.5h7M201.5 378v7M198 402.5h7M201.5 399v7M198 389.5h7M201.5 386v7M198 388.5h7M201.5 385v7M198 391.5h7M201.5 388v7M198 389.5h7M201.5 386v7M198 377.5h7M201.5 374v7M199 390.5h7M202.5 387v7M199 398.5h7M202.5 395v7M199 381.5h7M202.5 378v7M199 388.5h7M202.5 385v7M199 398.5h7M202.5 395v7M199 377.5h7M202.5 374v7M200 403.5h7M203.5 400v7M200 395.5h7M203.5 392v7M200 392.5h7M203.5 389v7M200 399.5h7M203.5 396v7M200 389.5h7M203.5 386v7M200 378.5h7M203.5 375v7M200 385.5h7M203.5 382v7M200 393.5h7M203.5 390v7M200 402.5h7M203.5 399v7M200 393.5h7M203.5 390v7M200 385.5h7M203.5 382v7M200 376.5h7M203.5 373v7M200 374.5h7M203.5 371v7M201 401.5h7M204.5 398v7M201 398.5h7M204.5 395v7M201 384.5h7M204.5 381v7M201 390.5h7M204.5 387v7M201 394.5h7M204.5 391v7M201 386.5h7M204.5 383v7M201 381.5h7M204.5 378v7M201 399.5h7M204.5 396v7M201 382.5h7M204.5 379v7M201 390.5h7M204.5 387v7M201 389.5h7M204.5 386v7M201 401.5h7M204.5 398v7M201 392.5h7M204.5 389v7M201 389.5h7M204.5 386v7M201 402.5h7M204.5 399v7M201 387.5h7M204.5 384v7M201 396.5h7M204.5 393v7M201 384.5h7M204.5 381v7M201 397.5h7M204.5 394v7M201 397.5h7M204.5 394v7M201 376.5h7M204.5 373v7M201 378.5h7M204.5 375v7M202 379.5h7M205.5 376v7M202 380.5h7M205.5 377v7M202 400.5h7M205.5 397v7M202 388.5h7M205.5 385v7M202 395.5h7M205.5 392v7M202 396.5h7M205.5 393v7M202 389.5h7M205.5 386v7M202 396.5h7M205.5 393v7M202 390.5h7M205.5 387v7M202 392.5h7M205.5 389v7M202 386.5h7M205.5 383v7M202 378.5h7M205.5 375v7M202 393.5h7M205.5 390v7M202 385.5h7M205.5 382v7M202 385.5h7M205.5 382v7M202 400.5h7M205.5 397v7M202 387.5h7M205.5 384v7M200 355.5h7M203.5 352v7M201 354.5h7M204.5 351v7M203 349.5h7M206.5 346v7M202 344.5h7M205.5 341v7M203 392.5h7M206.5 389v7M203 396.5h7M206.5 393v7M203 393.5h7M206.5 390v7M203 379.5h7M206.5 376v7M203 379.5h7M206.5 376v7M203 388.5h7M206.5 385v7M203 378.5h7M206.5 375v7M203 380.5h7M206.5 377v7M203 394.5h7M206.5 391v7M203 389.5h7M206.5 386v7M203 380.5h7M206.5 377v7M203 376.5h7M206.5 373v7M203 376.5h7M206.5 373v7M203 357.5h7M206.5 354v7M206 353.5h7M209.5 350v7M206 355.5h7M209.5 352v7M204 386.5h7M207.5 383v7M204 400.5h7M207.5 397v7M204 386.5h7M207.5 383v7M204 403.5h7M207.5 400v7M204 399.5h7M207.5 396v7M204 399.5h7M207.5 396v7M204 384.5h7M207.5 381v7M204 383.5h7M207.5 380v7M204 397.5h7M207.5 394v7M204 399.5h7M207.5 396v7M204 384.5h7M207.5 381v7M204 383.5h7M207.5 380v7M204 384.5h7M207.5 381v7M204 381.5h7M207.5 378v7M204 389.5h7M207.5 386v7M204 373.5h7M207.5 370v7M204 372.5h7M207.5 369v7M205 395.5h7M208.5 392v7M205 402.5h7M208.5 399v7M205 398.5h7M208.5 395v7M205 394.5h7M208.5 391v7M205 387.5h7M208.5 384v7M205 388.5h7M208.5 385v7M205 386.5h7M208.5 383v7M205 398.5h7M208.5 395v7M205 398.5h7M208.5 395v7M205 376.5h7M208.5 373v7M205 374.5h7M208.5 371v7M206 382.5h7M209.5 379v7M206 394.5h7M209.5 391v7M206 379.5h7M209.5 376v7M206 402.5h7M209.5 399v7M206 400.5h7M209.5 397v7M206 382.5h7M209.5 379v7M206 397.5h7M209.5 394v7M206 399.5h7M209.5 396v7M206 379.5h7M209.5 376v7M206 392.5h7M209.5 389v7M206 377.5h7M209.5 374v7M205 367.5h7M208.5 364v7M206 365.5h7M209.5 362v7M207 370.5h7M210.5 367v7M207 397.5h7M210.5 394v7M207 395.5h7M210.5 392v7M207 394.5h7M210.5 391v7M207 378.5h7M210.5 375v7M207 400.5h7M210.5 397v7M207 382.5h7M210.5 379v7M207 383.5h7M210.5 380v7M207 391.5h7M210.5 388v7M207 393.5h7M210.5 390v7M207 397.5h7M210.5 394v7M207 357.5h7M210.5 354v7M208 359.5h7M211.5 356v7M206 358.5h7M209.5 355v7M207 365.5h7M210.5 362v7M206 362.5h7M209.5 359v7M209 366.5h7M212.5 363v7M210 379.5h7M213.5 376v7M205 375.5h7M208.5 372v7M208 374.5h7M211.5 371v7M207 406.5h7M210.5 403v7M208 390.5h7M211.5 387v7M208 390.5h7M211.5 387v7M208 401.5h7M211.5 398v7M208 401.5h7M211.5 398v7M208 387.5h7M211.5 384v7M208 385.5h7M211.5 382v7M208 394.5h7M211.5 391v7M208 383.5h7M211.5 380v7M208 370.5h7M211.5 367v7M209 362.5h7M212.5 359v7M206 365.5h7M209.5 362v7M207 359.5h7M210.5 356v7M208 372.5h7M211.5 369v7M210 370.5h7M213.5 367v7M206 368.5h7M209.5 365v7M209 383.5h7M212.5 380v7M209 400.5h7M212.5 397v7M209 392.5h7M212.5 389v7M209 383.5h7M212.5 380v7M209 380.5h7M212.5 377v7M209 375.5h7M212.5 372v7M212 363.5h7M215.5 360v7M208 363.5h7M211.5 360v7M208 359.5h7M211.5 356v7M210 394.5h7M213.5 391v7M210 386.5h7M213.5 383v7M210 382.5h7M213.5 379v7M210 397.5h7M213.5 394v7M210 399.5h7M213.5 396v7M210 383.5h7M213.5 380v7M210 381.5h7M213.5 378v7M210 387.5h7M213.5 384v7M210 394.5h7M213.5 391v7M210 387.5h7M213.5 384v7M210 402.5h7M213.5 399v7M210 398.5h7M213.5 395v7M210 401.5h7M213.5 398v7M210 393.5h7M213.5 390v7M210 397.5h7M213.5 394v7M210 402.5h7M213.5 399v7M210 379.5h7M213.5 376v7M210 377.5h7M213.5 374v7M211 401.5h7M214.5 398v7M211 400.5h7M214.5 397v7M211 389.5h7M214.5 386v7M211 395.5h7M214.5 392v7M211 383.5h7M214.5 380v7M211 380.5h7M214.5 377v7M211 396.5h7M214.5 393v7M211 401.5h7M214.5 398v7M211 397.5h7M214.5 394v7M211 391.5h7M214.5 388v7M211 394.5h7M214.5 391v7M211 396.5h7M214.5 393v7M211 377.5h7M214.5 374v7M211 356.5h7M214.5 353v7M212 396.5h7M215.5 393v7M212 402.5h7M215.5 399v7M212 394.5h7M215.5 391v7M212 379.5h7M215.5 376v7M212 379.5h7M215.5 376v7M212 390.5h7M215.5 387v7M212 398.5h7M215.5 395v7M212 400.5h7M215.5 397v7M212 387.5h7M215.5 384v7M212 391.5h7M215.5 388v7M212 369.5h7M215.5 366v7M213 396.5h7M216.5 393v7M213 382.5h7M216.5 379v7M213 402.5h7M216.5 399v7M213 402.5h7M216.5 399v7M213 402.5h7M216.5 399v7M213 378.5h7M216.5 375v7M213 394.5h7M216.5 391v7M213 395.5h7M216.5 392v7M213 372.5h7M216.5 369v7M211 361.5h7M214.5 358v7M214 367.5h7M217.5 364v7M211 361.5h7M214.5 358v7M213 352.5h7M216.5 349v7M214 401.5h7M217.5 398v7M214 389.5h7M217.5 386v7M214 390.5h7M217.5 387v7M214 395.5h7M217.5 392v7M214 395.5h7M217.5 392v7M214 395.5h7M217.5 392v7M214 394.5h7M217.5 391v7M214 391.5h7M217.5 388v7M214 397.5h7M217.5 394v7M214 378.5h7M217.5 375v7M214 364.5h7M217.5 361v7M215 361.5h7M218.5 358v7M214 362.5h7M217.5 359v7M215 371.5h7M218.5 368v7M215 373.5h7M218.5 370v7M216 373.5h7M219.5 370v7M215 397.5h7M218.5 394v7M215 378.5h7M218.5 375v7M215 379.5h7M218.5 376v7M215 403.5h7M218.5 400v7M215 392.5h7M218.5 389v7M215 393.5h7M218.5 390v7M215 387.5h7M218.5 384v7M215 399.5h7M218.5 396v7M215 392.5h7M218.5 389v7M215 393.5h7M218.5 390v7M214 359.5h7M217.5 356v7M214 365.5h7M217.5 362v7M215 366.5h7M218.5 363v7M216 381.5h7M219.5 378v7M216 391.5h7M219.5 388v7M216 385.5h7M219.5 382v7M216 383.5h7M219.5 380v7M216 403.5h7M219.5 400v7M216 380.5h7M219.5 377v7M216 387.5h7M219.5 384v7M216 393.5h7M219.5 390v7M216 388.5h7M219.5 385v7M216 378.5h7M219.5 375v7M216 400.5h7M219.5 397v7M216 359.5h7M219.5 356v7M216 354.5h7M219.5 351v7M217 381.5h7M220.5 378v7M217 402.5h7M220.5 399v7M217 381.5h7M220.5 378v7M217 401.5h7M220.5 398v7M217 382.5h7M220.5 379v7M217 386.5h7M220.5 383v7M217 383.5h7M220.5 380v7M217 403.5h7M220.5 400v7M217 377.5h7M220.5 374v7M217 376.5h7M220.5 373v7M216 376.5h7M219.5 373v7M218 401.5h7M221.5 398v7M218 381.5h7M221.5 378v7M218 386.5h7M221.5 383v7M218 379.5h7M221.5 376v7M218 388.5h7M221.5 385v7M218 388.5h7M221.5 385v7M218 391.5h7M221.5 388v7M218 386.5h7M221.5 383v7M220 367.5h7M223.5 364v7M217 369.5h7M220.5 366v7M219 367.5h7M222.5 364v7M219 399.5h7M222.5 396v7M219 383.5h7M222.5 380v7M219 399.5h7M222.5 396v7M219 402.5h7M222.5 399v7M219 385.5h7M222.5 382v7M219 382.5h7M222.5 379v7M219 398.5h7M222.5 395v7M219 386.5h7M222.5 383v7M219 384.5h7M222.5 381v7M219 380.5h7M222.5 377v7M219 378.5h7M222.5 375v7M219 376.5h7M222.5 373v7M219 378.5h7M222.5 375v7M219 376.5h7M222.5 373v7M219 363.5h7M222.5 360v7M221 368.5h7M224.5 365v7M218 362.5h7M221.5 359v7M220 380.5h7M223.5 377v7M220 394.5h7M223.5 391v7M220 398.5h7M223.5 395v7M220 380.5h7M223.5 377v7M220 386.5h7M223.5 383v7M220 386.5h7M223.5 383v7M220 392.5h7M223.5 389v7M220 393.5h7M223.5 390v7M220 388.5h7M223.5 385v7M220 377.5h7M223.5 374v7M220 377.5h7M223.5 374v7M221 367.5h7M224.5 364v7M222 360.5h7M225.5 357v7M218 360.5h7M221.5 357v7M221 398.5h7M224.5 395v7M221 388.5h7M224.5 385v7M221 385.5h7M224.5 382v7M221 402.5h7M224.5 399v7M221 392.5h7M224.5 389v7M221 385.5h7M224.5 382v7M221 381.5h7M224.5 378v7M221 398.5h7M224.5 395v7M221 399.5h7M224.5 396v7M221 392.5h7M224.5 389v7M221 388.5h7M224.5 385v7M221 394.5h7M224.5 391v7M221 373.5h7M224.5 370v7M221 377.5h7M224.5 374v7M221 377.5h7M224.5 374v7M221 378.5h7M224.5 375v7M221 373.5h7M224.5 370v7M222 385.5h7M225.5 382v7M222 403.5h7M225.5 400v7M222 387.5h7M225.5 384v7M222 380.5h7M225.5 377v7M222 398.5h7M225.5 395v7M222 372.5h7M225.5 369v7M223 395.5h7M226.5 392v7M223 401.5h7M226.5 398v7M223 392.5h7M226.5 389v7M223 379.5h7M226.5 376v7M223 402.5h7M226.5 399v7M223 383.5h7M226.5 380v7M223 387.5h7M226.5 384v7M223 391.5h7M226.5 388v7M223 393.5h7M226.5 390v7M223 387.5h7M226.5 384v7M223 389.5h7M226.5 386v7M223 374.5h7M226.5 371v7M224 388.5h7M227.5 385v7M224 396.5h7M227.5 393v7M224 398.5h7M227.5 395v7M224 394.5h7M227.5 391v7M224 387.5h7M227.5 384v7M224 401.5h7M227.5 398v7M224 381.5h7M227.5 378v7M224 398.5h7M227.5 395v7M224 389.5h7M227.5 386v7M224 388.5h7M227.5 385v7M224 399.5h7M227.5 396v7M224 375.5h7M227.5 372v7M224 377.5h7M227.5 374v7M224 372.5h7M227.5 369v7M224 358.5h7M227.5 355v7M225 389.5h7M228.5 386v7M225 399.5h7M228.5 396v7M225 391.5h7M228.5 388v7M225 393.5h7M228.5 390v7M225 381.5h7M228.5 378v7M225 380.5h7M228.5 377v7M225 402.5h7M228.5 399v7M225 387.5h7M228.5 384v7M225 402.5h7M228.5 399v7M225 376.5h7M228.5 373v7M226 383.5h7M229.5 380v7M226 386.5h7M229.5 383v7M226 389.5h7M229.5 386v7M226 386.5h7M229.5 383v7M226 386.5h7M229.5 383v7M226 390.5h7M229.5 387v7M226 378.5h7M229.5 375v7M226 358.5h7M229.5 355v7M226 408.5h7M229.5 405v7M227 395.5h7M230.5 392v7M227 380.5h7M230.5 377v7M227 387.5h7M230.5 384v7M227 386.5h7M230.5 383v7M227 389.5h7M230.5 386v7M227 397.5h7M230.5 394v7M227 380.5h7M230.5 377v7M227 401.5h7M230.5 398v7M227 390.5h7M230.5 387v7M227 387.5h7M230.5 384v7M227 377.5h7M230.5 374v7M228 397.5h7M231.5 394v7M228 401.5h7M231.5 398v7M228 382.5h7M231.5 379v7M228 403.5h7M231.5 400v7M228 378.5h7M231.5 375v7M228 393.5h7M231.5 390v7M228 385.5h7M231.5 382v7M228 384.5h7M231.5 381v7M228 390.5h7M231.5 387v7M228 393.5h7M231.5 390v7M228 389.5h7M231.5 386v7M228 373.5h7M231.5 370v7M228 376.5h7M231.5 373v7M229 396.5h7M232.5 393v7M229 382.5h7M232.5 379v7M229 402.5h7M232.5 399v7M229 384.5h7M232.5 381v7M229 395.5h7M232.5 392v7M229 395.5h7M232.5 392v7M229 401.5h7M232.5 398v7M229 395.5h7M232.5 392v7M229 403.5h7M232.5 400v7M230 383.5h7M233.5 380v7M230 392.5h7M233.5 389v7M230 388.5h7M233.5 385v7M230 397.5h7M233.5 394v7M230 390.5h7M233.5 387v7M230 400.5h7M233.5 397v7M230 397.5h7M233.5 394v7M230 390.5h7M233.5 387v7M230 387.5h7M233.5 384v7M230 383.5h7M233.5 380v7M231 400.5h7M234.5 397v7M231 392.5h7M234.5 389v7M231 380.5h7M234.5 377v7M231 386.5h7M234.5 383v7M231 384.5h7M234.5 381v7M231 382.5h7M234.5 379v7M231 390.5h7M234.5 387v7M231 383.5h7M234.5 380v7M231 382.5h7M234.5 379v7M231 396.5h7M234.5 393v7M231 375.5h7M234.5 372v7M232 399.5h7M235.5 396v7M232 384.5h7M235.5 381v7M232 384.5h7M235.5 381v7M232 387.5h7M235.5 384v7M232 398.5h7M235.5 395v7M232 399.5h7M235.5 396v7M232 392.5h7M235.5 389v7M232 387.5h7M235.5 384v7M232 394.5h7M235.5 391v7M232 399.5h7M235.5 396v7M232 361.5h7M235.5 358v7M235 367.5h7M238.5 364v7M234 362.5h7M237.5 359v7M232 406.5h7M235.5 403v7M233 394.5h7M236.5 391v7M233 379.5h7M236.5 376v7M233 392.5h7M236.5 389v7M233 381.5h7M236.5 378v7M233 394.5h7M236.5 391v7M233 387.5h7M236.5 384v7M233 394.5h7M236.5 391v7M233 384.5h7M236.5 381v7M233 380.5h7M236.5 377v7M233 383.5h7M236.5 380v7M233 385.5h7M236.5 382v7M233 382.5h7M236.5 379v7M233 383.5h7M236.5 380v7M233 392.5h7M236.5 389v7M233 389.5h7M236.5 386v7M233 399.5h7M236.5 396v7M233 390.5h7M236.5 387v7M233 371.5h7M236.5 368v7M233 375.5h7M236.5 372v7M233 371.5h7M236.5 368v7M233 365.5h7M236.5 362v7M236 369.5h7M239.5 366v7M236 367.5h7M239.5 364v7M234 378.5h7M237.5 375v7M234 395.5h7M237.5 392v7M234 380.5h7M237.5 377v7M234 383.5h7M237.5 380v7M234 380.5h7M237.5 377v7M234 398.5h7M237.5 395v7M234 391.5h7M237.5 388v7M234 390.5h7M237.5 387v7M234 375.5h7M237.5 372v7M234 374.5h7M237.5 371v7M232 369.5h7M235.5 366v7M235 371.5h7M238.5 368v7M233 370.5h7M236.5 367v7M234 404.5h7M237.5 401v7M235 392.5h7M238.5 389v7M235 395.5h7M238.5 392v7M235 378.5h7M238.5 375v7M235 400.5h7M238.5 397v7M235 384.5h7M238.5 381v7M235 392.5h7M238.5 389v7M235 387.5h7M238.5 384v7M235 387.5h7M238.5 384v7M235 388.5h7M238.5 385v7M235 378.5h7M238.5 375v7M235 389.5h7M238.5 386v7M236 378.5h7M239.5 375v7M236 400.5h7M239.5 397v7M236 384.5h7M239.5 381v7M236 381.5h7M239.5 378v7M236 394.5h7M239.5 391v7M236 396.5h7M239.5 393v7M236 400.5h7M239.5 397v7M236 391.5h7M239.5 388v7M236 386.5h7M239.5 383v7M236 386.5h7M239.5 383v7M236 383.5h7M239.5 380v7M236 394.5h7M239.5 391v7M236 375.5h7M239.5 372v7M237 383.5h7M240.5 380v7M237 385.5h7M240.5 382v7M237 381.5h7M240.5 378v7M237 400.5h7M240.5 397v7M237 398.5h7M240.5 395v7M237 380.5h7M240.5 377v7M237 391.5h7M240.5 388v7M237 383.5h7M240.5 380v7M237 397.5h7M240.5 394v7M237 392.5h7M240.5 389v7M237 402.5h7M240.5 399v7M237 396.5h7M240.5 393v7M237 381.5h7M240.5 378v7M237 378.5h7M240.5 375v7M238 387.5h7M241.5 384v7M238 384.5h7M241.5 381v7M238 391.5h7M241.5 388v7M238 400.5h7M241.5 397v7M238 402.5h7M241.5 399v7M238 382.5h7M241.5 379v7M238 392.5h7M241.5 389v7M238 395.5h7M241.5 392v7M239 384.5h7M242.5 381v7M239 392.5h7M242.5 389v7M239 393.5h7M242.5 390v7M239 386.5h7M242.5 383v7M239 401.5h7M242.5 398v7M239 386.5h7M242.5 383v7M239 386.5h7M242.5 383v7M239 395.5h7M242.5 392v7M239 390.5h7M242.5 387v7M239 372.5h7M242.5 369v7M236 378.5h7M239.5 375v7M237 373.5h7M240.5 370v7M236 381.5h7M239.5 378v7M240 393.5h7M243.5 390v7M240 397.5h7M243.5 394v7M240 402.5h7M243.5 399v7M240 385.5h7M243.5 382v7M240 400.5h7M243.5 397v7M240 392.5h7M243.5 389v7M240 383.5h7M243.5 380v7M240 381.5h7M243.5 378v7M240 386.5h7M243.5 383v7M240 381.5h7M243.5 378v7M240 397.5h7M243.5 394v7M240 377.5h7M243.5 374v7M236 364.5h7M239.5 361v7M241 360.5h7M244.5 357v7M236 359.5h7M239.5 356v7M241 399.5h7M244.5 396v7M241 378.5h7M244.5 375v7M241 384.5h7M244.5 381v7M241 393.5h7M244.5 390v7M241 390.5h7M244.5 387v7M241 401.5h7M244.5 398v7M242 395.5h7M245.5 392v7M242 386.5h7M245.5 383v7M242 395.5h7M245.5 392v7M242 378.5h7M245.5 375v7M242 392.5h7M245.5 389v7M242 401.5h7M245.5 398v7M242 401.5h7M245.5 398v7M242 392.5h7M245.5 389v7M242 374.5h7M245.5 371v7M243 395.5h7M246.5 392v7M243 384.5h7M246.5 381v7M243 400.5h7M246.5 397v7M243 383.5h7M246.5 380v7M243 385.5h7M246.5 382v7M243 381.5h7M246.5 378v7M243 386.5h7M246.5 383v7M243 393.5h7M246.5 390v7M243 385.5h7M246.5 382v7M243 379.5h7M246.5 376v7M243 375.5h7M246.5 372v7M243 371.5h7M246.5 368v7M244 394.5h7M247.5 391v7M244 396.5h7M247.5 393v7M244 388.5h7M247.5 385v7M244 391.5h7M247.5 388v7M244 384.5h7M247.5 381v7M244 384.5h7M247.5 381v7M244 379.5h7M247.5 376v7M244 401.5h7M247.5 398v7M244 379.5h7M247.5 376v7M244 381.5h7M247.5 378v7M244 396.5h7M247.5 393v7M244 389.5h7M247.5 386v7M244 391.5h7M247.5 388v7M244 385.5h7M247.5 382v7M244 382.5h7M247.5 379v7M244 374.5h7M247.5 371v7M243 378.5h7M246.5 375v7M244 377.5h7M247.5 374v7M244 379.5h7M247.5 376v7M245 391.5h7M248.5 388v7M245 394.5h7M248.5 391v7M245 396.5h7M248.5 393v7M245 400.5h7M248.5 397v7M245 394.5h7M248.5 391v7M245 403.5h7M248.5 400v7M245 395.5h7M248.5 392v7M245 385.5h7M248.5 382v7M245 382.5h7M248.5 379v7M245 380.5h7M248.5 377v7M246 390.5h7M249.5 387v7M246 384.5h7M249.5 381v7M246 401.5h7M249.5 398v7M246 378.5h7M249.5 375v7M246 386.5h7M249.5 383v7M246 392.5h7M249.5 389v7M246 383.5h7M249.5 380v7M246 399.5h7M249.5 396v7M246 390.5h7M249.5 387v7M246 387.5h7M249.5 384v7M246 380.5h7M249.5 377v7M246 385.5h7M249.5 382v7M246 371.5h7M249.5 368v7M247 400.5h7M250.5 397v7M247 398.5h7M250.5 395v7M247 386.5h7M250.5 383v7M247 392.5h7M250.5 389v7M247 384.5h7M250.5 381v7M247 383.5h7M250.5 380v7M247 383.5h7M250.5 380v7M247 381.5h7M250.5 378v7M247 384.5h7M250.5 381v7M247 384.5h7M250.5 381v7M247 395.5h7M250.5 392v7M247 384.5h7M250.5 381v7M248 383.5h7M251.5 380v7M248 391.5h7M251.5 388v7M248 401.5h7M251.5 398v7M248 386.5h7M251.5 383v7M248 392.5h7M251.5 389v7M248 390.5h7M251.5 387v7M248 380.5h7M251.5 377v7M248 379.5h7M251.5 376v7M248 377.5h7M251.5 374v7M249 400.5h7M252.5 397v7M249 379.5h7M252.5 376v7M249 388.5h7M252.5 385v7M249 391.5h7M252.5 388v7M249 394.5h7M252.5 391v7M249 382.5h7M252.5 379v7M249 393.5h7M252.5 390v7M249 397.5h7M252.5 394v7M249 398.5h7M252.5 395v7M249 385.5h7M252.5 382v7M249 390.5h7M252.5 387v7M249 375.5h7M252.5 372v7M250 379.5h7M253.5 376v7M252 379.5h7M255.5 376v7M252 374.5h7M255.5 371v7M249 361.5h7M252.5 358v7M250 402.5h7M253.5 399v7M250 379.5h7M253.5 376v7M250 399.5h7M253.5 396v7M250 392.5h7M253.5 389v7M250 404.5h7M253.5 401v7M250 403.5h7M253.5 400v7M250 380.5h7M253.5 377v7M250 393.5h7M253.5 390v7M250 386.5h7M253.5 383v7M250 391.5h7M253.5 388v7M250 381.5h7M253.5 378v7M250 389.5h7M253.5 386v7M250 390.5h7M253.5 387v7M250 379.5h7M253.5 376v7M250 392.5h7M253.5 389v7M250 403.5h7M253.5 400v7M250 381.5h7M253.5 378v7M250 379.5h7M253.5 376v7M250 376.5h7M253.5 373v7M251 387.5h7M254.5 384v7M251 381.5h7M254.5 378v7M251 403.5h7M254.5 400v7M251 393.5h7M254.5 390v7M251 396.5h7M254.5 393v7M251 404.5h7M254.5 401v7M251 393.5h7M254.5 390v7M252 401.5h7M255.5 398v7M252 385.5h7M255.5 382v7M252 409.5h7M255.5 406v7M252 387.5h7M255.5 384v7M252 388.5h7M255.5 385v7M252 383.5h7M255.5 380v7M252 391.5h7M255.5 388v7M252 391.5h7M255.5 388v7M252 400.5h7M255.5 397v7M252 379.5h7M255.5 376v7M253 399.5h7M256.5 396v7M253 381.5h7M256.5 378v7M253 399.5h7M256.5 396v7M253 386.5h7M256.5 383v7M253 392.5h7M256.5 389v7M253 399.5h7M256.5 396v7M253 385.5h7M256.5 382v7M253 395.5h7M256.5 392v7M253 403.5h7M256.5 400v7M253 385.5h7M256.5 382v7M253 393.5h7M256.5 390v7M253 385.5h7M256.5 382v7M253 384.5h7M256.5 381v7M253 394.5h7M256.5 391v7M253 393.5h7M256.5 390v7M253 398.5h7M256.5 395v7M253 404.5h7M256.5 401v7M253 377.5h7M256.5 374v7M253 372.5h7M256.5 369v7M252 371.5h7M255.5 368v7M253 365.5h7M256.5 362v7M255 377.5h7M258.5 374v7M253 377.5h7M256.5 374v7M252 381.5h7M255.5 378v7M254 383.5h7M257.5 380v7M254 399.5h7M257.5 396v7M254 392.5h7M257.5 389v7M254 397.5h7M257.5 394v7M254 386.5h7M257.5 383v7M254 399.5h7M257.5 396v7M254 376.5h7M257.5 373v7M252 368.5h7M255.5 365v7M252 371.5h7M255.5 368v7M253 373.5h7M256.5 370v7M252 359.5h7M255.5 356v7M254 358.5h7M257.5 355v7M254 365.5h7M257.5 362v7M254 379.5h7M257.5 376v7M253 373.5h7M256.5 370v7M252 376.5h7M255.5 373v7M254 358.5h7M257.5 355v7M255 383.5h7M258.5 380v7M255 383.5h7M258.5 380v7M255 390.5h7M258.5 387v7M255 401.5h7M258.5 398v7M255 381.5h7M258.5 378v7M255 390.5h7M258.5 387v7M255 389.5h7M258.5 386v7M255 402.5h7M258.5 399v7M255 383.5h7M258.5 380v7M255 396.5h7M258.5 393v7M255 388.5h7M258.5 385v7M255 396.5h7M258.5 393v7M255 400.5h7M258.5 397v7M255 401.5h7M258.5 398v7M255 375.5h7M258.5 372v7M255 409.5h7M258.5 406v7M256 397.5h7M259.5 394v7M256 380.5h7M259.5 377v7M256 380.5h7M259.5 377v7M256 393.5h7M259.5 390v7M256 395.5h7M259.5 392v7M256 392.5h7M259.5 389v7M256 392.5h7M259.5 389v7M256 393.5h7M259.5 390v7M257 389.5h7M260.5 386v7M257 384.5h7M260.5 381v7M257 386.5h7M260.5 383v7M257 380.5h7M260.5 377v7M257 381.5h7M260.5 378v7M257 380.5h7M260.5 377v7M257 382.5h7M260.5 379v7M257 379.5h7M260.5 376v7M258 368.5h7M261.5 365v7M255 368.5h7M258.5 365v7M255 373.5h7M258.5 370v7M258 389.5h7M261.5 386v7M258 386.5h7M261.5 383v7M258 380.5h7M261.5 377v7M258 396.5h7M261.5 393v7M258 392.5h7M261.5 389v7M258 397.5h7M261.5 394v7M258 385.5h7M261.5 382v7M258 384.5h7M261.5 381v7M258 381.5h7M261.5 378v7M258 385.5h7M261.5 382v7M258 375.5h7M261.5 372v7M258 348.5h7M261.5 345v7M258 400.5h7M261.5 397v7M259 390.5h7M262.5 387v7M259 390.5h7M262.5 387v7M259 382.5h7M262.5 379v7M259 389.5h7M262.5 386v7M259 387.5h7M262.5 384v7M259 374.5h7M262.5 371v7M260 371.5h7M263.5 368v7M259 372.5h7M262.5 369v7M259 373.5h7M262.5 370v7M259 403.5h7M262.5 400v7M260 380.5h7M263.5 377v7M260 397.5h7M263.5 394v7M260 383.5h7M263.5 380v7M260 389.5h7M263.5 386v7M260 380.5h7M263.5 377v7M260 389.5h7M263.5 386v7M260 391.5h7M263.5 388v7M260 380.5h7M263.5 377v7M260 398.5h7M263.5 395v7M260 382.5h7M263.5 379v7M263 378.5h7M266.5 375v7M261 371.5h7M264.5 368v7M260 376.5h7M263.5 373v7M261 397.5h7M264.5 394v7M261 384.5h7M264.5 381v7M261 378.5h7M264.5 375v7M261 380.5h7M264.5 377v7M261 392.5h7M264.5 389v7M261 386.5h7M264.5 383v7M261 395.5h7M264.5 392v7M261 389.5h7M264.5 386v7M261 392.5h7M264.5 389v7M261 385.5h7M264.5 382v7M261 390.5h7M264.5 387v7M261 376.5h7M264.5 373v7M260 350.5h7M263.5 347v7M259 353.5h7M262.5 350v7M265 355.5h7M268.5 352v7M258 366.5h7M261.5 363v7M259 368.5h7M262.5 365v7M260 366.5h7M263.5 363v7M262 391.5h7M265.5 388v7M262 385.5h7M265.5 382v7M262 395.5h7M265.5 392v7M262 386.5h7M265.5 383v7M262 393.5h7M265.5 390v7M262 383.5h7M265.5 380v7M262 391.5h7M265.5 388v7M262 396.5h7M265.5 393v7M262 395.5h7M265.5 392v7M262 376.5h7M265.5 373v7M263 390.5h7M266.5 387v7M263 392.5h7M266.5 389v7M263 393.5h7M266.5 390v7M263 395.5h7M266.5 392v7M263 384.5h7M266.5 381v7M263 380.5h7M266.5 377v7M263 394.5h7M266.5 391v7M263 378.5h7M266.5 375v7M263 383.5h7M266.5 380v7M263 383.5h7M266.5 380v7M263 393.5h7M266.5 390v7M263 387.5h7M266.5 384v7M263 395.5h7M266.5 392v7M263 374.5h7M266.5 371v7M263 376.5h7M266.5 373v7M263 376.5h7M266.5 373v7M263 377.5h7M266.5 374v7M261 356.5h7M264.5 353v7M263 351.5h7M266.5 348v7M264 348.5h7M267.5 345v7M264 387.5h7M267.5 384v7M264 395.5h7M267.5 392v7M264 395.5h7M267.5 392v7M264 386.5h7M267.5 383v7M265 388.5h7M268.5 385v7M265 390.5h7M268.5 387v7M265 383.5h7M268.5 380v7M265 379.5h7M268.5 376v7M265 387.5h7M268.5 384v7M265 381.5h7M268.5 378v7M265 344.5h7M268.5 341v7M266 389.5h7M269.5 386v7M266 381.5h7M269.5 378v7M266 386.5h7M269.5 383v7M266 384.5h7M269.5 381v7M266 394.5h7M269.5 391v7M266 380.5h7M269.5 377v7M266 398.5h7M269.5 395v7M266 383.5h7M269.5 380v7M266 385.5h7M269.5 382v7M266 360.5h7M269.5 357v7M268 366.5h7M271.5 363v7M267 368.5h7M270.5 365v7M266 360.5h7M269.5 357v7M267 358.5h7M270.5 355v7M266 357.5h7M269.5 354v7M267 380.5h7M270.5 377v7M267 379.5h7M270.5 376v7M267 385.5h7M270.5 382v7M267 399.5h7M270.5 396v7M267 381.5h7M270.5 378v7M267 390.5h7M270.5 387v7M267 382.5h7M270.5 379v7M267 379.5h7M270.5 376v7M267 372.5h7M270.5 369v7M265 356.5h7M268.5 353v7M270 359.5h7M273.5 356v7M266 359.5h7M269.5 356v7M268 382.5h7M271.5 379v7M268 378.5h7M271.5 375v7M268 388.5h7M271.5 385v7M268 399.5h7M271.5 396v7M268 388.5h7M271.5 385v7M268 392.5h7M271.5 389v7M268 399.5h7M271.5 396v7M268 398.5h7M271.5 395v7M268 395.5h7M271.5 392v7M268 391.5h7M271.5 388v7M266 367.5h7M269.5 364v7M269 372.5h7M272.5 369v7M269 371.5h7M272.5 368v7M268 347.5h7M271.5 344v7M269 388.5h7M272.5 385v7M269 393.5h7M272.5 390v7M269 395.5h7M272.5 392v7M269 395.5h7M272.5 392v7M269 386.5h7M272.5 383v7M269 386.5h7M272.5 383v7M269 396.5h7M272.5 393v7M269 401.5h7M272.5 398v7M270 395.5h7M273.5 392v7M270 387.5h7M273.5 384v7M270 394.5h7M273.5 391v7M270 388.5h7M273.5 385v7M270 401.5h7M273.5 398v7M270 389.5h7M273.5 386v7M270 398.5h7M273.5 395v7M270 392.5h7M273.5 389v7M270 387.5h7M273.5 384v7M270 402.5h7M273.5 399v7M270 383.5h7M273.5 380v7M270 400.5h7M273.5 397v7M270 402.5h7M273.5 399v7M270 377.5h7M273.5 374v7M270 377.5h7M273.5 374v7M270 377.5h7M273.5 374v7M270 375.5h7M273.5 372v7M267 351.5h7M270.5 348v7M271 355.5h7M274.5 352v7M268 351.5h7M271.5 348v7M271 384.5h7M274.5 381v7M271 403.5h7M274.5 400v7M271 385.5h7M274.5 382v7M271 400.5h7M274.5 397v7M271 390.5h7M274.5 387v7M271 402.5h7M274.5 399v7M271 385.5h7M274.5 382v7M271 401.5h7M274.5 398v7M271 376.5h7M274.5 373v7M271 370.5h7M274.5 367v7M268 368.5h7M271.5 365v7M273 366.5h7M276.5 363v7M271 347.5h7M274.5 344v7M272 385.5h7M275.5 382v7M272 379.5h7M275.5 376v7M272 389.5h7M275.5 386v7M272 396.5h7M275.5 393v7M272 385.5h7M275.5 382v7M272 403.5h7M275.5 400v7M272 378.5h7M275.5 375v7M273 388.5h7M276.5 385v7M273 397.5h7M276.5 394v7M273 389.5h7M276.5 386v7M273 387.5h7M276.5 384v7M273 382.5h7M276.5 379v7M273 384.5h7M276.5 381v7M273 401.5h7M276.5 398v7M273 390.5h7M276.5 387v7M273 377.5h7M276.5 374v7M269 359.5h7M272.5 356v7M275 356.5h7M278.5 353v7M273 364.5h7M276.5 361v7M271 365.5h7M274.5 362v7M275 364.5h7M278.5 361v7M274 362.5h7M277.5 359v7M274 379.5h7M277.5 376v7M274 398.5h7M277.5 395v7M274 404.5h7M277.5 401v7M274 398.5h7M277.5 395v7M274 381.5h7M277.5 378v7M274 388.5h7M277.5 385v7M274 391.5h7M277.5 388v7M274 401.5h7M277.5 398v7M274 397.5h7M277.5 394v7M274 379.5h7M277.5 376v7M274 390.5h7M277.5 387v7M274 398.5h7M277.5 395v7M274 392.5h7M277.5 389v7M274 395.5h7M277.5 392v7M274 403.5h7M277.5 400v7M274 403.5h7M277.5 400v7M274 400.5h7M277.5 397v7M274 393.5h7M277.5 390v7M274 386.5h7M277.5 383v7M275 383.5h7M278.5 380v7M275 392.5h7M278.5 389v7M275 404.5h7M278.5 401v7M275 398.5h7M278.5 395v7M275 390.5h7M278.5 387v7M275 382.5h7M278.5 379v7M275 401.5h7M278.5 398v7M275 402.5h7M278.5 399v7M275 399.5h7M278.5 396v7M276 379.5h7M279.5 376v7M276 378.5h7M279.5 375v7M276 384.5h7M279.5 381v7M276 401.5h7M279.5 398v7M276 397.5h7M279.5 394v7M276 391.5h7M279.5 388v7M276 389.5h7M279.5 386v7M276 385.5h7M279.5 382v7M276 399.5h7M279.5 396v7M276 376.5h7M279.5 373v7M278 376.5h7M281.5 373v7M279 382.5h7M282.5 379v7M277 375.5h7M280.5 372v7M277 384.5h7M280.5 381v7M277 392.5h7M280.5 389v7M277 398.5h7M280.5 395v7M277 396.5h7M280.5 393v7M277 393.5h7M280.5 390v7M277 399.5h7M280.5 396v7M277 381.5h7M280.5 378v7M277 379.5h7M280.5 376v7M277 378.5h7M280.5 375v7M277 396.5h7M280.5 393v7M277 390.5h7M280.5 387v7M277 402.5h7M280.5 399v7M277 406.5h7M280.5 403v7M277 381.5h7M280.5 378v7M277 389.5h7M280.5 386v7M277 390.5h7M280.5 387v7M277 376.5h7M280.5 373v7M277 374.5h7M280.5 371v7M277 375.5h7M280.5 372v7M278 394.5h7M281.5 391v7M278 398.5h7M281.5 395v7M278 381.5h7M281.5 378v7M278 399.5h7M281.5 396v7M278 395.5h7M281.5 392v7M278 397.5h7M281.5 394v7M278 389.5h7M281.5 386v7M278 380.5h7M281.5 377v7M278 404.5h7M281.5 401v7M278 401.5h7M281.5 398v7M278 405.5h7M281.5 402v7M278 391.5h7M281.5 388v7M278 403.5h7M281.5 400v7M278 402.5h7M281.5 399v7M278 372.5h7M281.5 369v7M278 374.5h7M281.5 371v7M278 375.5h7M281.5 372v7M276 371.5h7M279.5 368v7M280 374.5h7M283.5 371v7M278 374.5h7M281.5 371v7M279 395.5h7M282.5 392v7M279 401.5h7M282.5 398v7M279 385.5h7M282.5 382v7M279 397.5h7M282.5 394v7M279 384.5h7M282.5 381v7M279 383.5h7M282.5 380v7M279 387.5h7M282.5 384v7M279 385.5h7M282.5 382v7M279 404.5h7M282.5 401v7M279 384.5h7M282.5 381v7M279 389.5h7M282.5 386v7M279 391.5h7M282.5 388v7M279 396.5h7M282.5 393v7M279 404.5h7M282.5 401v7M279 394.5h7M282.5 391v7M279 401.5h7M282.5 398v7M281 374.5h7M284.5 371v7M282 374.5h7M285.5 371v7M275 377.5h7M278.5 374v7M279 341.5h7M282.5 338v7M279 409.5h7M282.5 406v7M280 394.5h7M283.5 391v7M280 399.5h7M283.5 396v7M280 402.5h7M283.5 399v7M280 382.5h7M283.5 379v7M280 400.5h7M283.5 397v7M280 380.5h7M283.5 377v7M280 378.5h7M283.5 375v7M280 385.5h7M283.5 382v7M280 385.5h7M283.5 382v7M280 398.5h7M283.5 395v7M280 376.5h7M283.5 373v7M279 373.5h7M282.5 370v7M281 372.5h7M284.5 369v7M281 378.5h7M284.5 375v7M277 367.5h7M280.5 364v7M282 366.5h7M285.5 363v7M282 368.5h7M285.5 365v7M281 401.5h7M284.5 398v7M281 388.5h7M284.5 385v7M281 380.5h7M284.5 377v7M281 385.5h7M284.5 382v7M281 384.5h7M284.5 381v7M281 378.5h7M284.5 375v7M281 386.5h7M284.5 383v7M281 382.5h7M284.5 379v7M281 383.5h7M284.5 380v7M281 395.5h7M284.5 392v7M282 401.5h7M285.5 398v7M282 399.5h7M285.5 396v7M282 390.5h7M285.5 387v7M282 398.5h7M285.5 395v7M282 398.5h7M285.5 395v7M282 394.5h7M285.5 391v7M282 399.5h7M285.5 396v7M282 375.5h7M285.5 372v7M283 376.5h7M286.5 373v7M280 376.5h7M283.5 373v7M283 372.5h7M286.5 369v7M283 363.5h7M286.5 360v7M282 366.5h7M285.5 363v7M284 365.5h7M287.5 362v7M283 396.5h7M286.5 393v7M283 380.5h7M286.5 377v7M283 377.5h7M286.5 374v7M283 403.5h7M286.5 400v7M283 387.5h7M286.5 384v7M283 399.5h7M286.5 396v7M283 389.5h7M286.5 386v7M283 380.5h7M286.5 377v7M283 390.5h7M286.5 387v7M283 382.5h7M286.5 379v7M284 397.5h7M287.5 394v7M284 392.5h7M287.5 389v7M284 384.5h7M287.5 381v7M284 383.5h7M287.5 380v7M284 389.5h7M287.5 386v7M284 385.5h7M287.5 382v7M284 403.5h7M287.5 400v7M284 391.5h7M287.5 388v7M284 397.5h7M287.5 394v7M284 373.5h7M287.5 370v7M284 377.5h7M287.5 374v7M285 388.5h7M288.5 385v7M285 379.5h7M288.5 376v7M285 396.5h7M288.5 393v7M285 379.5h7M288.5 376v7M285 401.5h7M288.5 398v7M285 381.5h7M288.5 378v7M285 378.5h7M288.5 375v7M285 407.5h7M288.5 404v7M285 382.5h7M288.5 379v7M285 394.5h7M288.5 391v7M285 379.5h7M288.5 376v7M285 406.5h7M288.5 403v7M285 378.5h7M288.5 375v7M285 398.5h7M288.5 395v7M285 402.5h7M288.5 399v7M285 370.5h7M288.5 367v7M286 394.5h7M289.5 391v7M286 383.5h7M289.5 380v7M286 384.5h7M289.5 381v7M286 405.5h7M289.5 402v7M286 405.5h7M289.5 402v7M286 390.5h7M289.5 387v7M286 400.5h7M289.5 397v7M286 398.5h7M289.5 395v7M286 385.5h7M289.5 382v7M286 383.5h7M289.5 380v7M286 399.5h7M289.5 396v7M286 405.5h7M289.5 402v7M286 406.5h7M289.5 403v7M286 387.5h7M289.5 384v7M286 379.5h7M289.5 376v7M286 386.5h7M289.5 383v7M286 379.5h7M289.5 376v7M286 373.5h7M289.5 370v7M286 377.5h7M289.5 374v7M287 379.5h7M290.5 376v7M287 386.5h7M290.5 383v7M287 400.5h7M290.5 397v7M287 401.5h7M290.5 398v7M287 395.5h7M290.5 392v7M287 393.5h7M290.5 390v7M287 378.5h7M290.5 375v7M287 401.5h7M290.5 398v7M287 394.5h7M290.5 391v7M287 393.5h7M290.5 390v7M287 399.5h7M290.5 396v7M287 383.5h7M290.5 380v7M287 393.5h7M290.5 390v7M287 395.5h7M290.5 392v7M287 376.5h7M290.5 373v7M287 366.5h7M290.5 363v7M286 365.5h7M289.5 362v7M291 374.5h7M294.5 371v7M288 387.5h7M291.5 384v7M288 399.5h7M291.5 396v7M288 394.5h7M291.5 391v7M288 382.5h7M291.5 379v7M288 396.5h7M291.5 393v7M288 392.5h7M291.5 389v7M288 384.5h7M291.5 381v7M288 383.5h7M291.5 380v7M289 399.5h7M292.5 396v7M289 393.5h7M292.5 390v7M289 399.5h7M292.5 396v7M289 392.5h7M292.5 389v7M289 389.5h7M292.5 386v7M289 394.5h7M292.5 391v7M289 397.5h7M292.5 394v7M289 396.5h7M292.5 393v7M289 385.5h7M292.5 382v7M289 389.5h7M292.5 386v7M289 399.5h7M292.5 396v7M289 389.5h7M292.5 386v7M289 396.5h7M292.5 393v7M289 389.5h7M292.5 386v7M289 396.5h7M292.5 393v7M289 379.5h7M292.5 376v7M289 377.5h7M292.5 374v7M289 379.5h7M292.5 376v7M289 387.5h7M292.5 384v7M289 377.5h7M292.5 374v7M289 375.5h7M292.5 372v7M289 377.5h7M292.5 374v7M289 403.5h7M292.5 400v7M290 383.5h7M293.5 380v7M290 385.5h7M293.5 382v7M290 383.5h7M293.5 380v7M290 390.5h7M293.5 387v7M290 379.5h7M293.5 376v7M290 390.5h7M293.5 387v7M290 387.5h7M293.5 384v7M290 378.5h7M293.5 375v7M290 384.5h7M293.5 381v7M290 399.5h7M293.5 396v7M290 391.5h7M293.5 388v7M290 379.5h7M293.5 376v7M290 375.5h7M293.5 372v7M290 373.5h7M293.5 370v7M291 387.5h7M294.5 384v7M291 383.5h7M294.5 380v7M291 389.5h7M294.5 386v7M291 381.5h7M294.5 378v7M291 381.5h7M294.5 378v7M291 399.5h7M294.5 396v7M291 397.5h7M294.5 394v7M291 380.5h7M294.5 377v7M291 375.5h7M294.5 372v7M291 380.5h7M294.5 377v7M289 378.5h7M292.5 375v7M292 375.5h7M295.5 372v7M292 373.5h7M295.5 370v7M293 378.5h7M296.5 375v7M289 373.5h7M292.5 370v7M291 402.5h7M294.5 399v7M292 382.5h7M295.5 379v7M292 393.5h7M295.5 390v7M292 386.5h7M295.5 383v7M292 390.5h7M295.5 387v7M292 390.5h7M295.5 387v7M292 384.5h7M295.5 381v7M292 387.5h7M295.5 384v7M292 378.5h7M295.5 375v7M292 373.5h7M295.5 370v7M292 378.5h7M295.5 375v7M292 365.5h7M295.5 362v7M293 393.5h7M296.5 390v7M293 379.5h7M296.5 376v7M293 387.5h7M296.5 384v7M293 397.5h7M296.5 394v7M293 385.5h7M296.5 382v7M293 378.5h7M296.5 375v7M293 374.5h7M296.5 371v7M293 370.5h7M296.5 367v7M293 369.5h7M296.5 366v7M294 391.5h7M297.5 388v7M294 386.5h7M297.5 383v7M294 392.5h7M297.5 389v7M294 391.5h7M297.5 388v7M294 389.5h7M297.5 386v7M294 378.5h7M297.5 375v7M294 378.5h7M297.5 375v7M294 377.5h7M297.5 374v7M294 404.5h7M297.5 401v7M295 386.5h7M298.5 383v7M295 386.5h7M298.5 383v7M295 380.5h7M298.5 377v7M295 381.5h7M298.5 378v7M295 383.5h7M298.5 380v7M295 379.5h7M298.5 376v7M295 382.5h7M298.5 379v7M296 395.5h7M299.5 392v7M296 396.5h7M299.5 393v7M296 384.5h7M299.5 381v7M296 396.5h7M299.5 393v7M296 393.5h7M299.5 390v7M296 385.5h7M299.5 382v7M296 385.5h7M299.5 382v7M296 382.5h7M299.5 379v7M296 374.5h7M299.5 371v7M296 375.5h7M299.5 372v7M296 375.5h7M299.5 372v7M297 383.5h7M300.5 380v7M297 401.5h7M300.5 398v7M297 384.5h7M300.5 381v7M297 386.5h7M300.5 383v7M297 388.5h7M300.5 385v7M297 382.5h7M300.5 379v7M297 384.5h7M300.5 381v7M297 388.5h7M300.5 385v7M297 392.5h7M300.5 389v7M297 391.5h7M300.5 388v7M297 387.5h7M300.5 384v7M297 375.5h7M300.5 372v7M297 378.5h7M300.5 375v7M297 405.5h7M300.5 402v7M298 401.5h7M301.5 398v7M298 385.5h7M301.5 382v7M298 399.5h7M301.5 396v7M298 400.5h7M301.5 397v7M298 403.5h7M301.5 400v7M298 382.5h7M301.5 379v7M298 383.5h7M301.5 380v7M298 382.5h7M301.5 379v7M298 387.5h7M301.5 384v7M298 375.5h7M301.5 372v7M298 379.5h7M301.5 376v7M299 382.5h7M302.5 379v7M299 404.5h7M302.5 401v7M299 391.5h7M302.5 388v7M299 395.5h7M302.5 392v7M299 385.5h7M302.5 382v7M299 389.5h7M302.5 386v7M299 396.5h7M302.5 393v7M299 377.5h7M302.5 374v7M299 378.5h7M302.5 375v7M300 394.5h7M303.5 391v7M300 389.5h7M303.5 386v7M300 381.5h7M303.5 378v7M300 398.5h7M303.5 395v7M300 383.5h7M303.5 380v7M300 401.5h7M303.5 398v7M300 386.5h7M303.5 383v7M300 387.5h7M303.5 384v7M300 393.5h7M303.5 390v7M300 379.5h7M303.5 376v7M301 381.5h7M304.5 378v7M301 398.5h7M304.5 395v7M301 382.5h7M304.5 379v7M301 391.5h7M304.5 388v7M301 391.5h7M304.5 388v7M301 392.5h7M304.5 389v7M301 404.5h7M304.5 401v7M301 390.5h7M304.5 387v7M302 405.5h7M305.5 402v7M302 392.5h7M305.5 389v7M302 385.5h7M305.5 382v7M302 398.5h7M305.5 395v7M302 375.5h7M305.5 372v7M303 400.5h7M306.5 397v7M303 393.5h7M306.5 390v7M303 402.5h7M306.5 399v7M303 398.5h7M306.5 395v7M303 395.5h7M306.5 392v7M303 401.5h7M306.5 398v7M303 394.5h7M306.5 391v7M303 398.5h7M306.5 395v7M303 381.5h7M306.5 378v7M303 373.5h7M306.5 370v7M303 366.5h7M306.5 363v7M304 385.5h7M307.5 382v7M304 401.5h7M307.5 398v7M304 387.5h7M307.5 384v7M304 398.5h7M307.5 395v7M304 386.5h7M307.5 383v7M304 399.5h7M307.5 396v7M304 404.5h7M307.5 401v7M304 396.5h7M307.5 393v7M304 383.5h7M307.5 380v7M304 399.5h7M307.5 396v7M304 393.5h7M307.5 390v7M304 402.5h7M307.5 399v7M304 386.5h7M307.5 383v7M304 389.5h7M307.5 386v7M304 382.5h7M307.5 379v7M304 382.5h7M307.5 379v7M304 382.5h7M307.5 379v7M304 406.5h7M307.5 403v7M305 395.5h7M308.5 392v7M305 396.5h7M308.5 393v7M305 394.5h7M308.5 391v7M305 387.5h7M308.5 384v7M305 402.5h7M308.5 399v7M305 394.5h7M308.5 391v7M305 384.5h7M308.5 381v7M305 390.5h7M308.5 387v7M305 398.5h7M308.5 395v7M306 394.5h7M309.5 391v7M306 388.5h7M309.5 385v7M306 401.5h7M309.5 398v7M306 387.5h7M309.5 384v7M306 398.5h7M309.5 395v7M306 384.5h7M309.5 381v7M306 389.5h7M309.5 386v7M307 387.5h7M310.5 384v7M307 396.5h7M310.5 393v7M307 386.5h7M310.5 383v7M307 398.5h7M310.5 395v7M307 397.5h7M310.5 394v7M307 391.5h7M310.5 388v7M307 393.5h7M310.5 390v7M307 393.5h7M310.5 390v7M307 404.5h7M310.5 401v7M308 397.5h7M311.5 394v7M308 394.5h7M311.5 391v7M308 387.5h7M311.5 384v7M308 395.5h7M311.5 392v7M308 394.5h7M311.5 391v7M308 393.5h7M311.5 390v7M308 392.5h7M311.5 389v7M308 396.5h7M311.5 393v7M308 381.5h7M311.5 378v7M308 371.5h7M311.5 368v7M309 399.5h7M312.5 396v7M309 393.5h7M312.5 390v7M309 395.5h7M312.5 392v7M309 396.5h7M312.5 393v7M309 385.5h7M312.5 382v7M309 388.5h7M312.5 385v7M309 393.5h7M312.5 390v7M309 386.5h7M312.5 383v7M310 396.5h7M313.5 393v7M310 392.5h7M313.5 389v7M310 389.5h7M313.5 386v7M310 392.5h7M313.5 389v7M310 385.5h7M313.5 382v7M310 387.5h7M313.5 384v7M310 387.5h7M313.5 384v7M310 383.5h7M313.5 380v7M311 397.5h7M314.5 394v7M311 395.5h7M314.5 392v7M311 398.5h7M314.5 395v7M311 390.5h7M314.5 387v7M311 392.5h7M314.5 389v7M311 389.5h7M314.5 386v7M312 399.5h7M315.5 396v7M312 397.5h7M315.5 394v7M312 386.5h7M315.5 383v7M312 394.5h7M315.5 391v7M312 387.5h7M315.5 384v7M312 394.5h7M315.5 391v7M312 397.5h7M315.5 394v7M312 395.5h7M315.5 392v7M312 387.5h7M315.5 384v7M313 393.5h7M316.5 390v7M313 395.5h7M316.5 392v7M313 389.5h7M316.5 386v7M313 386.5h7M316.5 383v7M313 385.5h7M316.5 382v7M313 395.5h7M316.5 392v7M313 403.5h7M316.5 400v7M314 392.5h7M317.5 389v7M314 399.5h7M317.5 396v7M314 398.5h7M317.5 395v7M314 386.5h7M317.5 383v7M314 390.5h7M317.5 387v7M314 392.5h7M317.5 389v7M314 391.5h7M317.5 388v7M315 389.5h7M318.5 386v7M315 390.5h7M318.5 387v7M315 389.5h7M318.5 386v7M315 404.5h7M318.5 401v7M316 392.5h7M319.5 389v7M316 398.5h7M319.5 395v7M316 387.5h7M319.5 384v7M316 386.5h7M319.5 383v7M316 386.5h7M319.5 383v7M316 387.5h7M319.5 384v7M316 388.5h7M319.5 385v7M316 396.5h7M319.5 393v7M316 394.5h7M319.5 391v7M316 396.5h7M319.5 393v7M317 392.5h7M320.5 389v7M317 396.5h7M320.5 393v7M317 393.5h7M320.5 390v7M317 393.5h7M320.5 390v7M317 394.5h7M320.5 391v7M317 388.5h7M320.5 385v7M317 389.5h7M320.5 386v7M317 388.5h7M320.5 385v7M318 389.5h7M321.5 386v7M318 398.5h7M321.5 395v7M318 392.5h7M321.5 389v7M318 398.5h7M321.5 395v7M319 391.5h7M322.5 388v7M319 391.5h7M322.5 388v7M319 389.5h7M322.5 386v7M319 392.5h7M322.5 389v7M319 395.5h7M322.5 392v7M319 387.5h7M322.5 384v7M319 392.5h7M322.5 389v7M320 393.5h7M323.5 390v7M320 398.5h7M323.5 395v7M320 394.5h7M323.5 391v7M320 394.5h7M323.5 391v7M320 397.5h7M323.5 394v7M320 394.5h7M323.5 391v7M320 396.5h7M323.5 393v7M320 398.5h7M323.5 395v7M320 391.5h7M323.5 388v7M320 396.5h7M323.5 393v7M320 389.5h7M323.5 386v7M320 376.5h7M323.5 373v7M320 376.5h7M323.5 373v7M321 395.5h7M324.5 392v7M321 396.5h7M324.5 393v7M321 393.5h7M324.5 390v7M321 395.5h7M324.5 392v7M321 388.5h7M324.5 385v7M322 399.5h7M325.5 396v7M322 388.5h7M325.5 385v7M322 386.5h7M325.5 383v7M322 395.5h7M325.5 392v7M322 397.5h7M325.5 394v7M322 390.5h7M325.5 387v7M323 393.5h7M326.5 390v7M323 389.5h7M326.5 386v7M323 388.5h7M326.5 385v7M323 399.5h7M326.5 396v7M323 384.5h7M326.5 381v7M323 399.5h7M326.5 396v7M323 384.5h7M326.5 381v7M323 395.5h7M326.5 392v7M323 388.5h7M326.5 385v7M322 377.5h7M325.5 374v7M322 380.5h7M325.5 377v7M321 384.5h7M324.5 381v7M323 377.5h7M326.5 374v7M324 396.5h7M327.5 393v7M324 389.5h7M327.5 386v7M324 399.5h7M327.5 396v7M324 392.5h7M327.5 389v7M325 400.5h7M328.5 397v7M325 399.5h7M328.5 396v7M325 383.5h7M328.5 380v7M325 392.5h7M328.5 389v7M325 388.5h7M328.5 385v7M325 386.5h7M328.5 383v7M325 387.5h7M328.5 384v7M325 383.5h7M328.5 380v7M325 395.5h7M328.5 392v7M326 399.5h7M329.5 396v7M326 393.5h7M329.5 390v7M326 383.5h7M329.5 380v7M326 395.5h7M329.5 392v7M326 382.5h7M329.5 379v7M326 394.5h7M329.5 391v7M326 377.5h7M329.5 374v7M326 384.5h7M329.5 381v7M327 377.5h7M330.5 374v7M325 380.5h7M328.5 377v7M327 383.5h7M330.5 380v7M327 396.5h7M330.5 393v7M327 383.5h7M330.5 380v7M327 393.5h7M330.5 390v7M327 397.5h7M330.5 394v7M327 392.5h7M330.5 389v7M327 382.5h7M330.5 379v7M327 384.5h7M330.5 381v7M327 391.5h7M330.5 388v7M327 379.5h7M330.5 376v7M327 378.5h7M330.5 375v7M328 393.5h7M331.5 390v7M328 392.5h7M331.5 389v7M328 381.5h7M331.5 378v7M328 388.5h7M331.5 385v7M328 399.5h7M331.5 396v7M328 391.5h7M331.5 388v7M328 384.5h7M331.5 381v7M328 393.5h7M331.5 390v7M328 389.5h7M331.5 386v7M328 399.5h7M331.5 396v7M328 390.5h7M331.5 387v7M328 380.5h7M331.5 377v7M328 383.5h7M331.5 380v7M326 374.5h7M329.5 371v7M330 374.5h7M333.5 371v7M329 375.5h7M332.5 372v7M329 386.5h7M332.5 383v7M329 388.5h7M332.5 385v7M329 386.5h7M332.5 383v7M329 387.5h7M332.5 384v7M329 395.5h7M332.5 392v7M329 383.5h7M332.5 380v7M329 394.5h7M332.5 391v7M330 397.5h7M333.5 394v7M330 382.5h7M333.5 379v7M330 400.5h7M333.5 397v7M330 382.5h7M333.5 379v7M330 392.5h7M333.5 389v7M330 377.5h7M333.5 374v7M330 375.5h7M333.5 372v7M333 374.5h7M336.5 371v7M332 376.5h7M335.5 373v7M330 377.5h7M333.5 374v7M331 398.5h7M334.5 395v7M331 379.5h7M334.5 376v7M331 396.5h7M334.5 393v7M331 393.5h7M334.5 390v7M331 380.5h7M334.5 377v7M331 379.5h7M334.5 376v7M331 377.5h7M334.5 374v7M331 369.5h7M334.5 366v7M332 398.5h7M335.5 395v7M332 396.5h7M335.5 393v7M332 384.5h7M335.5 381v7M332 384.5h7M335.5 381v7M332 387.5h7M335.5 384v7M332 395.5h7M335.5 392v7M332 390.5h7M335.5 387v7M332 386.5h7M335.5 383v7M332 395.5h7M335.5 392v7M332 383.5h7M335.5 380v7M332 377.5h7M335.5 374v7M332 377.5h7M335.5 374v7M333 374.5h7M336.5 371v7M332 372.5h7M335.5 369v7M331 372.5h7M334.5 369v7M333 398.5h7M336.5 395v7M333 389.5h7M336.5 386v7M333 392.5h7M336.5 389v7M333 385.5h7M336.5 382v7M333 393.5h7M336.5 390v7M333 394.5h7M336.5 391v7M333 391.5h7M336.5 388v7M333 396.5h7M336.5 393v7M333 389.5h7M336.5 386v7M333 379.5h7M336.5 376v7M333 372.5h7M336.5 369v7M333 375.5h7M336.5 372v7M333 373.5h7M336.5 370v7M333 358.5h7M336.5 355v7M334 383.5h7M337.5 380v7M334 393.5h7M337.5 390v7M334 391.5h7M337.5 388v7M334 395.5h7M337.5 392v7M334 379.5h7M337.5 376v7M334 380.5h7M337.5 377v7M333 381.5h7M336.5 378v7M332 379.5h7M335.5 376v7M335 384.5h7M338.5 381v7M335 388.5h7M338.5 385v7M335 395.5h7M338.5 392v7M335 390.5h7M338.5 387v7M335 392.5h7M338.5 389v7M335 398.5h7M338.5 395v7M335 386.5h7M338.5 383v7M335 383.5h7M338.5 380v7M335 373.5h7M338.5 370v7M336 387.5h7M339.5 384v7M336 389.5h7M339.5 386v7M336 395.5h7M339.5 392v7M336 385.5h7M339.5 382v7M336 392.5h7M339.5 389v7M336 392.5h7M339.5 389v7M336 389.5h7M339.5 386v7M336 391.5h7M339.5 388v7M336 388.5h7M339.5 385v7M336 391.5h7M339.5 388v7M336 378.5h7M339.5 375v7M336 378.5h7M339.5 375v7M337 397.5h7M340.5 394v7M337 386.5h7M340.5 383v7M337 392.5h7M340.5 389v7M337 384.5h7M340.5 381v7M337 393.5h7M340.5 390v7M337 388.5h7M340.5 385v7M337 395.5h7M340.5 392v7M337 384.5h7M340.5 381v7M337 385.5h7M340.5 382v7M337 379.5h7M340.5 376v7M337 356.5h7M340.5 353v7M338 384.5h7M341.5 381v7M338 395.5h7M341.5 392v7M338 392.5h7M341.5 389v7M338 393.5h7M341.5 390v7M338 397.5h7M341.5 394v7M338 396.5h7M341.5 393v7M338 383.5h7M341.5 380v7M338 374.5h7M341.5 371v7M338 375.5h7M341.5 372v7M339 395.5h7M342.5 392v7M339 398.5h7M342.5 395v7M339 397.5h7M342.5 394v7M339 395.5h7M342.5 392v7M339 387.5h7M342.5 384v7M339 398.5h7M342.5 395v7M339 390.5h7M342.5 387v7M339 383.5h7M342.5 380v7M339 390.5h7M342.5 387v7M339 396.5h7M342.5 393v7M339 392.5h7M342.5 389v7M339 378.5h7M342.5 375v7M338 375.5h7M341.5 372v7M337 376.5h7M340.5 373v7M338 380.5h7M341.5 377v7M340 391.5h7M343.5 388v7M340 380.5h7M343.5 377v7M340 397.5h7M343.5 394v7M340 378.5h7M343.5 375v7M340 398.5h7M343.5 395v7M340 390.5h7M343.5 387v7M340 394.5h7M343.5 391v7M340 392.5h7M343.5 389v7M340 373.5h7M343.5 370v7M341 398.5h7M344.5 395v7M341 390.5h7M344.5 387v7M341 385.5h7M344.5 382v7M341 391.5h7M344.5 388v7M341 392.5h7M344.5 389v7M341 397.5h7M344.5 394v7M341 391.5h7M344.5 388v7M341 389.5h7M344.5 386v7M341 386.5h7M344.5 383v7M341 387.5h7M344.5 384v7M341 384.5h7M344.5 381v7M341 391.5h7M344.5 388v7M341 396.5h7M344.5 393v7M341 391.5h7M344.5 388v7M341 382.5h7M344.5 379v7M344 370.5h7M347.5 367v7M342 373.5h7M345.5 370v7M341 376.5h7M344.5 373v7M341 403.5h7M344.5 400v7M342 395.5h7M345.5 392v7M342 400.5h7M345.5 397v7M342 379.5h7M345.5 376v7M342 394.5h7M345.5 391v7M342 380.5h7M345.5 377v7M342 396.5h7M345.5 393v7M342 398.5h7M345.5 395v7M342 381.5h7M345.5 378v7M342 378.5h7M345.5 375v7M342 375.5h7M345.5 372v7M343 399.5h7M346.5 396v7M343 378.5h7M346.5 375v7M343 398.5h7M346.5 395v7M343 402.5h7M346.5 399v7M343 388.5h7M346.5 385v7M343 389.5h7M346.5 386v7M343 402.5h7M346.5 399v7M343 388.5h7M346.5 385v7M343 387.5h7M346.5 384v7M343 399.5h7M346.5 396v7M343 376.5h7M346.5 373v7M343 374.5h7M346.5 371v7M344 375.5h7M347.5 372v7M344 378.5h7M347.5 375v7M343 372.5h7M346.5 369v7M344 399.5h7M347.5 396v7M344 389.5h7M347.5 386v7M344 379.5h7M347.5 376v7M344 391.5h7M347.5 388v7M344 389.5h7M347.5 386v7M344 401.5h7M347.5 398v7M344 395.5h7M347.5 392v7M344 377.5h7M347.5 374v7M343 373.5h7M346.5 370v7M346 372.5h7M349.5 369v7M341 370.5h7M344.5 367v7M345 398.5h7M348.5 395v7M345 396.5h7M348.5 393v7M345 380.5h7M348.5 377v7M345 379.5h7M348.5 376v7M345 398.5h7M348.5 395v7M345 394.5h7M348.5 391v7M345 382.5h7M348.5 379v7M345 381.5h7M348.5 378v7M345 390.5h7M348.5 387v7M345 382.5h7M348.5 379v7M345 378.5h7M348.5 375v7M347 371.5h7M350.5 368v7M346 369.5h7M349.5 366v7M344 373.5h7M347.5 370v7M345 359.5h7M348.5 356v7M346 388.5h7M349.5 385v7M346 397.5h7M349.5 394v7M346 378.5h7M349.5 375v7M346 390.5h7M349.5 387v7M346 385.5h7M349.5 382v7M346 390.5h7M349.5 387v7M346 393.5h7M349.5 390v7M346 389.5h7M349.5 386v7M346 401.5h7M349.5 398v7M346 401.5h7M349.5 398v7M346 398.5h7M349.5 395v7M346 399.5h7M349.5 396v7M346 391.5h7M349.5 388v7M346 385.5h7M349.5 382v7M346 376.5h7M349.5 373v7M345 355.5h7M348.5 352v7M346 364.5h7M349.5 361v7M347 365.5h7M350.5 362v7M347 394.5h7M350.5 391v7M347 397.5h7M350.5 394v7M347 383.5h7M350.5 380v7M347 382.5h7M350.5 379v7M347 401.5h7M350.5 398v7M347 384.5h7M350.5 381v7M347 390.5h7M350.5 387v7M347 403.5h7M350.5 400v7M347 382.5h7M350.5 379v7M347 397.5h7M350.5 394v7M347 385.5h7M350.5 382v7M347 396.5h7M350.5 393v7M347 401.5h7M350.5 398v7M347 401.5h7M350.5 398v7M347 372.5h7M350.5 369v7M347 372.5h7M350.5 369v7M346 379.5h7M349.5 376v7M347 374.5h7M350.5 371v7M347 375.5h7M350.5 372v7M348 389.5h7M351.5 386v7M348 407.5h7M351.5 404v7M348 389.5h7M351.5 386v7M348 385.5h7M351.5 382v7M348 395.5h7M351.5 392v7M348 406.5h7M351.5 403v7M348 406.5h7M351.5 403v7M348 395.5h7M351.5 392v7M348 389.5h7M351.5 386v7M348 400.5h7M351.5 397v7M348 395.5h7M351.5 392v7M348 403.5h7M351.5 400v7M348 403.5h7M351.5 400v7M348 399.5h7M351.5 396v7M348 376.5h7M351.5 373v7M348 376.5h7M351.5 373v7M348 374.5h7M351.5 371v7M348 372.5h7M351.5 369v7M349 399.5h7M352.5 396v7M349 387.5h7M352.5 384v7M349 383.5h7M352.5 380v7M349 397.5h7M352.5 394v7M349 395.5h7M352.5 392v7M349 406.5h7M352.5 403v7M349 389.5h7M352.5 386v7M349 389.5h7M352.5 386v7M349 381.5h7M352.5 378v7M349 378.5h7M352.5 375v7M349 381.5h7M352.5 378v7M349 395.5h7M352.5 392v7M349 405.5h7M352.5 402v7M350 398.5h7M353.5 395v7M350 399.5h7M353.5 396v7M350 403.5h7M353.5 400v7M350 394.5h7M353.5 391v7M350 381.5h7M353.5 378v7M350 380.5h7M353.5 377v7M350 395.5h7M353.5 392v7M350 372.5h7M353.5 369v7M351 389.5h7M354.5 386v7M351 399.5h7M354.5 396v7M351 390.5h7M354.5 387v7M351 385.5h7M354.5 382v7M351 401.5h7M354.5 398v7M351 394.5h7M354.5 391v7M351 399.5h7M354.5 396v7M351 383.5h7M354.5 380v7M351 402.5h7M354.5 399v7M351 373.5h7M354.5 370v7M352 387.5h7M355.5 384v7M352 378.5h7M355.5 375v7M352 381.5h7M355.5 378v7M352 378.5h7M355.5 375v7M352 378.5h7M355.5 375v7M352 385.5h7M355.5 382v7M352 393.5h7M355.5 390v7M352 381.5h7M355.5 378v7M352 372.5h7M355.5 369v7M352 375.5h7M355.5 372v7M352 377.5h7M355.5 374v7M356 367.5h7M359.5 364v7M350 365.5h7M353.5 362v7M354 362.5h7M357.5 359v7M351 366.5h7M354.5 363v7M351 364.5h7M354.5 361v7M351 359.5h7M354.5 356v7M353 361.5h7M356.5 358v7M353 367.5h7M356.5 364v7M351 366.5h7M354.5 363v7M352 406.5h7M355.5 403v7M353 392.5h7M356.5 389v7M353 386.5h7M356.5 383v7M353 382.5h7M356.5 379v7M353 375.5h7M356.5 372v7M353 376.5h7M356.5 373v7M353 371.5h7M356.5 368v7M354 367.5h7M357.5 364v7M352 367.5h7M355.5 364v7M354 397.5h7M357.5 394v7M354 389.5h7M357.5 386v7M354 399.5h7M357.5 396v7M354 394.5h7M357.5 391v7M354 399.5h7M357.5 396v7M354 382.5h7M357.5 379v7M354 400.5h7M357.5 397v7M354 375.5h7M357.5 372v7M354 377.5h7M357.5 374v7M355 358.5h7M358.5 355v7M352 360.5h7M355.5 357v7M356 357.5h7M359.5 354v7M355 398.5h7M358.5 395v7M355 378.5h7M358.5 375v7M355 380.5h7M358.5 377v7M355 397.5h7M358.5 394v7M355 393.5h7M358.5 390v7M355 369.5h7M358.5 366v7M355 376.5h7M358.5 373v7M357 364.5h7M360.5 361v7M356 370.5h7M359.5 367v7M352 367.5h7M355.5 364v7M356 394.5h7M359.5 391v7M356 398.5h7M359.5 395v7M356 393.5h7M359.5 390v7M356 393.5h7M359.5 390v7M356 391.5h7M359.5 388v7M356 393.5h7M359.5 390v7M356 394.5h7M359.5 391v7M356 400.5h7M359.5 397v7M356 381.5h7M359.5 378v7M356 392.5h7M359.5 389v7M356 380.5h7M359.5 377v7M359 366.5h7M362.5 363v7M357 363.5h7M360.5 360v7M354 363.5h7M357.5 360v7M357 386.5h7M360.5 383v7M357 385.5h7M360.5 382v7M357 390.5h7M360.5 387v7M357 400.5h7M360.5 397v7M357 394.5h7M360.5 391v7M357 393.5h7M360.5 390v7M357 380.5h7M360.5 377v7M357 396.5h7M360.5 393v7M357 374.5h7M360.5 371v7M357 354.5h7M360.5 351v7M359 353.5h7M362.5 350v7M358 350.5h7M361.5 347v7M358 391.5h7M361.5 388v7M358 400.5h7M361.5 397v7M358 383.5h7M361.5 380v7M358 382.5h7M361.5 379v7M358 385.5h7M361.5 382v7M358 396.5h7M361.5 393v7M358 399.5h7M361.5 396v7M358 380.5h7M361.5 377v7M358 377.5h7M361.5 374v7M358 375.5h7M361.5 372v7M356 358.5h7M359.5 355v7M357 359.5h7M360.5 356v7M357 360.5h7M360.5 357v7M358 367.5h7M361.5 364v7M357 373.5h7M360.5 370v7M361 368.5h7M364.5 365v7M359 390.5h7M362.5 387v7M359 389.5h7M362.5 386v7M359 392.5h7M362.5 389v7M359 402.5h7M362.5 399v7M359 383.5h7M362.5 380v7M359 393.5h7M362.5 390v7M359 390.5h7M362.5 387v7M359 402.5h7M362.5 399v7M359 382.5h7M362.5 379v7M359 393.5h7M362.5 390v7M359 378.5h7M362.5 375v7M359 391.5h7M362.5 388v7M359 402.5h7M362.5 399v7M359 395.5h7M362.5 392v7M362 360.5h7M365.5 357v7M356 362.5h7M359.5 359v7M360 364.5h7M363.5 361v7M356 346.5h7M359.5 343v7M359 350.5h7M362.5 347v7M360 347.5h7M363.5 344v7M361 366.5h7M364.5 363v7M364 363.5h7M367.5 360v7M362 361.5h7M365.5 358v7M360 386.5h7M363.5 383v7M360 399.5h7M363.5 396v7M360 380.5h7M363.5 377v7M360 398.5h7M363.5 395v7M360 393.5h7M363.5 390v7M360 383.5h7M363.5 380v7M360 398.5h7M363.5 395v7M360 379.5h7M363.5 376v7M360 377.5h7M363.5 374v7M360 384.5h7M363.5 381v7M360 390.5h7M363.5 387v7M360 394.5h7M363.5 391v7M360 385.5h7M363.5 382v7M360 393.5h7M363.5 390v7M360 404.5h7M363.5 401v7M360 405.5h7M363.5 402v7M360 397.5h7M363.5 394v7M360 384.5h7M363.5 381v7M360 372.5h7M363.5 369v7M360 372.5h7M363.5 369v7M360 375.5h7M363.5 372v7M360 375.5h7M363.5 372v7M359 362.5h7M362.5 359v7M357 361.5h7M360.5 358v7M361 364.5h7M364.5 361v7M361 407.5h7M364.5 404v7M361 379.5h7M364.5 376v7M361 386.5h7M364.5 383v7M361 403.5h7M364.5 400v7M361 406.5h7M364.5 403v7M361 400.5h7M364.5 397v7M361 381.5h7M364.5 378v7M361 393.5h7M364.5 390v7M361 378.5h7M364.5 375v7M361 377.5h7M364.5 374v7M361 403.5h7M364.5 400v7M361 375.5h7M364.5 372v7M361 378.5h7M364.5 375v7M361 379.5h7M364.5 376v7M361 398.5h7M364.5 395v7M361 372.5h7M364.5 369v7M361 342.5h7M364.5 339v7M360 344.5h7M363.5 341v7M362 343.5h7M365.5 340v7M362 386.5h7M365.5 383v7M362 382.5h7M365.5 379v7M362 382.5h7M365.5 379v7M362 402.5h7M365.5 399v7M362 377.5h7M365.5 374v7M362 400.5h7M365.5 397v7M362 391.5h7M365.5 388v7M362 376.5h7M365.5 373v7M362 379.5h7M365.5 376v7M362 371.5h7M365.5 368v7M362 375.5h7M365.5 372v7M360 355.5h7M363.5 352v7M360 354.5h7M363.5 351v7M362 349.5h7M365.5 346v7M361 365.5h7M364.5 362v7M361 366.5h7M364.5 363v7M359 365.5h7M362.5 362v7M363 345.5h7M366.5 342v7M362 346.5h7M365.5 343v7M358 348.5h7M361.5 345v7M363 400.5h7M366.5 397v7M363 397.5h7M366.5 394v7M363 390.5h7M366.5 387v7M363 385.5h7M366.5 382v7M363 380.5h7M366.5 377v7M363 391.5h7M366.5 388v7M363 377.5h7M366.5 374v7M363 376.5h7M366.5 373v7M363 392.5h7M366.5 389v7M363 379.5h7M366.5 376v7M363 398.5h7M366.5 395v7M363 371.5h7M366.5 368v7M363 372.5h7M366.5 369v7M363 375.5h7M366.5 372v7M364 392.5h7M367.5 389v7M364 384.5h7M367.5 381v7M364 388.5h7M367.5 385v7M364 398.5h7M367.5 395v7M364 387.5h7M367.5 384v7M364 386.5h7M367.5 383v7M364 374.5h7M367.5 371v7M364 337.5h7M367.5 334v7M364 322.5h7M367.5 319v7M365 378.5h7M368.5 375v7M365 394.5h7M368.5 391v7M365 382.5h7M368.5 379v7M365 387.5h7M368.5 384v7M365 381.5h7M368.5 378v7M365 382.5h7M368.5 379v7M365 396.5h7M368.5 393v7M365 394.5h7M368.5 391v7M365 377.5h7M368.5 374v7M365 394.5h7M368.5 391v7M365 397.5h7M368.5 394v7M365 374.5h7M368.5 371v7M365 372.5h7M368.5 369v7M365 371.5h7M368.5 368v7M362 370.5h7M365.5 367v7M364 369.5h7M367.5 366v7M362 353.5h7M365.5 350v7M366 354.5h7M369.5 351v7M363 347.5h7M366.5 344v7M366 377.5h7M369.5 374v7M366 393.5h7M369.5 390v7M366 393.5h7M369.5 390v7M366 390.5h7M369.5 387v7M366 387.5h7M369.5 384v7M366 386.5h7M369.5 383v7M366 374.5h7M369.5 371v7M364 349.5h7M367.5 346v7M363 347.5h7M366.5 344v7M368 347.5h7M371.5 344v7M365 362.5h7M368.5 359v7M365 364.5h7M368.5 361v7M368 366.5h7M371.5 363v7M367 385.5h7M370.5 382v7M367 384.5h7M370.5 381v7M367 396.5h7M370.5 393v7M367 377.5h7M370.5 374v7M367 388.5h7M370.5 385v7M367 385.5h7M370.5 382v7M367 379.5h7M370.5 376v7M367 384.5h7M370.5 381v7M367 373.5h7M370.5 370v7M366 361.5h7M369.5 358v7M367 357.5h7M370.5 354v7M368 355.5h7M371.5 352v7M367 338.5h7M370.5 335v7M368 383.5h7M371.5 380v7M368 385.5h7M371.5 382v7M368 375.5h7M371.5 372v7M366 373.5h7M369.5 370v7M366 372.5h7M369.5 369v7M371 365.5h7M374.5 362v7M368 350.5h7M371.5 347v7M366 349.5h7M369.5 346v7M365 350.5h7M368.5 347v7M369 386.5h7M372.5 383v7M369 377.5h7M372.5 374v7M369 388.5h7M372.5 385v7M369 389.5h7M372.5 386v7M369 387.5h7M372.5 384v7M369 376.5h7M372.5 373v7M369 392.5h7M372.5 389v7M369 387.5h7M372.5 384v7M369 375.5h7M372.5 372v7M369 370.5h7M372.5 367v7M369 372.5h7M372.5 369v7M370 397.5h7M373.5 394v7M370 386.5h7M373.5 383v7M370 380.5h7M373.5 377v7M370 395.5h7M373.5 392v7M370 387.5h7M373.5 384v7M370 385.5h7M373.5 382v7M370 397.5h7M373.5 394v7M370 393.5h7M373.5 390v7M369 373.5h7M372.5 370v7M370 373.5h7M373.5 370v7M367 369.5h7M370.5 366v7M369 343.5h7M372.5 340v7M373 341.5h7M376.5 338v7M370 340.5h7M373.5 337v7M371 396.5h7M374.5 393v7M371 397.5h7M374.5 394v7M371 384.5h7M374.5 381v7M371 385.5h7M374.5 382v7M371 385.5h7M374.5 382v7M371 382.5h7M374.5 379v7M371 398.5h7M374.5 395v7M371 388.5h7M374.5 385v7M371 368.5h7M374.5 365v7M371 369.5h7M374.5 366v7M372 351.5h7M375.5 348v7M369 354.5h7M372.5 351v7M368 351.5h7M371.5 348v7M370 366.5h7M373.5 363v7M369 368.5h7M372.5 365v7M370 368.5h7M373.5 365v7M374 367.5h7M377.5 364v7M367 368.5h7M370.5 365v7M371 368.5h7M374.5 365v7M373 369.5h7M376.5 366v7M371 366.5h7M374.5 363v7M372 369.5h7M375.5 366v7M371 337.5h7M374.5 334v7M372 383.5h7M375.5 380v7M372 388.5h7M375.5 385v7M372 377.5h7M375.5 374v7M372 384.5h7M375.5 381v7M372 394.5h7M375.5 391v7M372 394.5h7M375.5 391v7M372 379.5h7M375.5 376v7M372 383.5h7M375.5 380v7M372 382.5h7M375.5 379v7M372 392.5h7M375.5 389v7M372 378.5h7M375.5 375v7M372 400.5h7M375.5 397v7M372 378.5h7M375.5 375v7M372 388.5h7M375.5 385v7M372 393.5h7M375.5 390v7M372 370.5h7M375.5 367v7M372 372.5h7M375.5 369v7M372 373.5h7M375.5 370v7M372 353.5h7M375.5 350v7M372 351.5h7M375.5 348v7M371 355.5h7M374.5 352v7M368 355.5h7M371.5 352v7M368 359.5h7M371.5 356v7M373 356.5h7M376.5 353v7M373 398.5h7M376.5 395v7M373 375.5h7M376.5 372v7M373 394.5h7M376.5 391v7M373 387.5h7M376.5 384v7M373 396.5h7M376.5 393v7M373 390.5h7M376.5 387v7M373 375.5h7M376.5 372v7M373 392.5h7M376.5 389v7M373 388.5h7M376.5 385v7M373 381.5h7M376.5 378v7M373 378.5h7M376.5 375v7M373 385.5h7M376.5 382v7M373 389.5h7M376.5 386v7M373 369.5h7M376.5 366v7M372 351.5h7M375.5 348v7M372 352.5h7M375.5 349v7M375 346.5h7M378.5 343v7M372 377.5h7M375.5 374v7M374 373.5h7M377.5 370v7M374 372.5h7M377.5 369v7M374 349.5h7M377.5 346v7M374 347.5h7M377.5 344v7M374 347.5h7M377.5 344v7M374 384.5h7M377.5 381v7M374 394.5h7M377.5 391v7M374 378.5h7M377.5 375v7M374 392.5h7M377.5 389v7M374 383.5h7M377.5 380v7M374 398.5h7M377.5 395v7M374 384.5h7M377.5 381v7M374 383.5h7M377.5 380v7M374 382.5h7M377.5 379v7M374 388.5h7M377.5 385v7M374 399.5h7M377.5 396v7M374 369.5h7M377.5 366v7M374 373.5h7M377.5 370v7M372 350.5h7M375.5 347v7M375 348.5h7M378.5 345v7M374 351.5h7M377.5 348v7M374 363.5h7M377.5 360v7M372 363.5h7M375.5 360v7M375 366.5h7M378.5 363v7M375 390.5h7M378.5 387v7M375 382.5h7M378.5 379v7M375 383.5h7M378.5 380v7M375 397.5h7M378.5 394v7M375 390.5h7M378.5 387v7M375 399.5h7M378.5 396v7M375 380.5h7M378.5 377v7M375 390.5h7M378.5 387v7M375 390.5h7M378.5 387v7M375 376.5h7M378.5 373v7M375 391.5h7M378.5 388v7M375 370.5h7M378.5 367v7M376 348.5h7M379.5 345v7M376 347.5h7M379.5 344v7M373 350.5h7M376.5 347v7M375 343.5h7M378.5 340v7M373 344.5h7M376.5 341v7M374 343.5h7M377.5 340v7M374 348.5h7M377.5 345v7M372 348.5h7M375.5 345v7M374 353.5h7M377.5 350v7M373 344.5h7M376.5 341v7M375 341.5h7M378.5 338v7M376 344.5h7M379.5 341v7M375 355.5h7M378.5 352v7M373 355.5h7M376.5 352v7M375 353.5h7M378.5 350v7M376 367.5h7M379.5 364v7M376 363.5h7M379.5 360v7M376 365.5h7M379.5 362v7M376 396.5h7M379.5 393v7M376 395.5h7M379.5 392v7M376 376.5h7M379.5 373v7M376 386.5h7M379.5 383v7M376 382.5h7M379.5 379v7M376 385.5h7M379.5 382v7M376 385.5h7M379.5 382v7M376 385.5h7M379.5 382v7M376 375.5h7M379.5 372v7M376 382.5h7M379.5 379v7M376 382.5h7M379.5 379v7M376 391.5h7M379.5 388v7M376 392.5h7M379.5 389v7M376 394.5h7M379.5 391v7M376 391.5h7M379.5 388v7M376 397.5h7M379.5 394v7M376 389.5h7M379.5 386v7M376 383.5h7M379.5 380v7M377 354.5h7M380.5 351v7M377 356.5h7M380.5 353v7M376 358.5h7M379.5 355v7M377 347.5h7M380.5 344v7M376 342.5h7M379.5 339v7M375 344.5h7M378.5 341v7M376 403.5h7M379.5 400v7M377 379.5h7M380.5 376v7M377 396.5h7M380.5 393v7M377 398.5h7M380.5 395v7M377 387.5h7M380.5 384v7M377 385.5h7M380.5 382v7M377 375.5h7M380.5 372v7M377 377.5h7M380.5 374v7M377 385.5h7M380.5 382v7M377 378.5h7M380.5 375v7M377 401.5h7M380.5 398v7M377 392.5h7M380.5 389v7M377 383.5h7M380.5 380v7M377 391.5h7M380.5 388v7M377 379.5h7M380.5 376v7M377 372.5h7M380.5 369v7M377 374.5h7M380.5 371v7M377 372.5h7M380.5 369v7M378 376.5h7M381.5 373v7M378 393.5h7M381.5 390v7M378 389.5h7M381.5 386v7M378 385.5h7M381.5 382v7M378 400.5h7M381.5 397v7M378 378.5h7M381.5 375v7M378 389.5h7M381.5 386v7M378 384.5h7M381.5 381v7M378 402.5h7M381.5 399v7M378 397.5h7M381.5 394v7M378 381.5h7M381.5 378v7M378 379.5h7M381.5 376v7M378 335.5h7M381.5 332v7M379 398.5h7M382.5 395v7M379 375.5h7M382.5 372v7M379 380.5h7M382.5 377v7M379 391.5h7M382.5 388v7M379 379.5h7M382.5 376v7M379 401.5h7M382.5 398v7M379 376.5h7M382.5 373v7M379 402.5h7M382.5 399v7M379 381.5h7M382.5 378v7M379 380.5h7M382.5 377v7M379 387.5h7M382.5 384v7M379 393.5h7M382.5 390v7M379 372.5h7M382.5 369v7M379 367.5h7M382.5 364v7M379 372.5h7M382.5 369v7M379 371.5h7M382.5 368v7M379 369.5h7M382.5 366v7M381 343.5h7M384.5 340v7M379 345.5h7M382.5 342v7M378 344.5h7M381.5 341v7M379 337.5h7M382.5 334v7M380 401.5h7M383.5 398v7M380 398.5h7M383.5 395v7M380 384.5h7M383.5 381v7M380 398.5h7M383.5 395v7M380 402.5h7M383.5 399v7M380 396.5h7M383.5 393v7M380 396.5h7M383.5 393v7M380 398.5h7M383.5 395v7M380 400.5h7M383.5 397v7M380 397.5h7M383.5 394v7M380 377.5h7M383.5 374v7M380 381.5h7M383.5 378v7M380 378.5h7M383.5 375v7M380 388.5h7M383.5 385v7M380 377.5h7M383.5 374v7M380 390.5h7M383.5 387v7M380 401.5h7M383.5 398v7M380 373.5h7M383.5 370v7M380 339.5h7M383.5 336v7M381 402.5h7M384.5 399v7M381 388.5h7M384.5 385v7M381 388.5h7M384.5 385v7M381 403.5h7M384.5 400v7M381 384.5h7M384.5 381v7M381 400.5h7M384.5 397v7M381 395.5h7M384.5 392v7M381 375.5h7M384.5 372v7M381 368.5h7M384.5 365v7M380 358.5h7M383.5 355v7M384 355.5h7M387.5 352v7M381 353.5h7M384.5 350v7M381 352.5h7M384.5 349v7M380 350.5h7M383.5 347v7M379 351.5h7M382.5 348v7M380 367.5h7M383.5 364v7M382 371.5h7M385.5 368v7M380 368.5h7M383.5 365v7M382 346.5h7M385.5 343v7M381 348.5h7M384.5 345v7M383 346.5h7M386.5 343v7M382 354.5h7M385.5 351v7M383 358.5h7M386.5 355v7M379 361.5h7M382.5 358v7M382 398.5h7M385.5 395v7M382 386.5h7M385.5 383v7M382 384.5h7M385.5 381v7M382 379.5h7M385.5 376v7M382 392.5h7M385.5 389v7M382 392.5h7M385.5 389v7M382 389.5h7M385.5 386v7M382 378.5h7M385.5 375v7M382 397.5h7M385.5 394v7M382 384.5h7M385.5 381v7M382 382.5h7M385.5 379v7M382 393.5h7M385.5 390v7M382 380.5h7M385.5 377v7M382 400.5h7M385.5 397v7M382 393.5h7M385.5 390v7M382 372.5h7M385.5 369v7M380 354.5h7M383.5 351v7M384 357.5h7M387.5 354v7M383 354.5h7M386.5 351v7M382 339.5h7M385.5 336v7M383 389.5h7M386.5 386v7M383 392.5h7M386.5 389v7M383 392.5h7M386.5 389v7M383 402.5h7M386.5 399v7M383 397.5h7M386.5 394v7M383 384.5h7M386.5 381v7M383 396.5h7M386.5 393v7M383 367.5h7M386.5 364v7M383 375.5h7M386.5 372v7M380 366.5h7M383.5 363v7M383 365.5h7M386.5 362v7M383 365.5h7M386.5 362v7M384 387.5h7M387.5 384v7M384 383.5h7M387.5 380v7M384 384.5h7M387.5 381v7M384 384.5h7M387.5 381v7M384 380.5h7M387.5 377v7M384 391.5h7M387.5 388v7M384 378.5h7M387.5 375v7M384 382.5h7M387.5 379v7M384 380.5h7M387.5 377v7M384 395.5h7M387.5 392v7M385 385.5h7M388.5 382v7M385 391.5h7M388.5 388v7M385 377.5h7M388.5 374v7M385 403.5h7M388.5 400v7M385 379.5h7M388.5 376v7M385 401.5h7M388.5 398v7M385 394.5h7M388.5 391v7M385 397.5h7M388.5 394v7M385 381.5h7M388.5 378v7M385 401.5h7M388.5 398v7M385 391.5h7M388.5 388v7M385 387.5h7M388.5 384v7M385 381.5h7M388.5 378v7M385 380.5h7M388.5 377v7M385 400.5h7M388.5 397v7M385 403.5h7M388.5 400v7M385 372.5h7M388.5 369v7M385 372.5h7M388.5 369v7M384 366.5h7M387.5 363v7M384 369.5h7M387.5 366v7M384 369.5h7M387.5 366v7M386 383.5h7M389.5 380v7M386 385.5h7M389.5 382v7M386 394.5h7M389.5 391v7M386 393.5h7M389.5 390v7M386 396.5h7M389.5 393v7M386 401.5h7M389.5 398v7M386 376.5h7M389.5 373v7M386 392.5h7M389.5 389v7M386 387.5h7M389.5 384v7M386 396.5h7M389.5 393v7M386 391.5h7M389.5 388v7M386 385.5h7M389.5 382v7M386 375.5h7M389.5 372v7M386 384.5h7M389.5 381v7M386 388.5h7M389.5 385v7M386 385.5h7M389.5 382v7M386 386.5h7M389.5 383v7M386 395.5h7M389.5 392v7M386 385.5h7M389.5 382v7M386 401.5h7M389.5 398v7M386 386.5h7M389.5 383v7M386 388.5h7M389.5 385v7M386 388.5h7M389.5 385v7M386 402.5h7M389.5 399v7M386 393.5h7M389.5 390v7M386 375.5h7M389.5 372v7M386 334.5h7M389.5 331v7M387 387.5h7M390.5 384v7M387 380.5h7M390.5 377v7M387 379.5h7M390.5 376v7M387 394.5h7M390.5 391v7M387 386.5h7M390.5 383v7M387 376.5h7M390.5 373v7M387 380.5h7M390.5 377v7M387 380.5h7M390.5 377v7M387 381.5h7M390.5 378v7M387 389.5h7M390.5 386v7M387 403.5h7M390.5 400v7M387 393.5h7M390.5 390v7M387 398.5h7M390.5 395v7M387 378.5h7M390.5 375v7M387 396.5h7M390.5 393v7M387 374.5h7M390.5 371v7M387 374.5h7M390.5 371v7M387 374.5h7M390.5 371v7M387 371.5h7M390.5 368v7M387 369.5h7M390.5 366v7M388 399.5h7M391.5 396v7M388 389.5h7M391.5 386v7M388 384.5h7M391.5 381v7M388 383.5h7M391.5 380v7M388 386.5h7M391.5 383v7M388 386.5h7M391.5 383v7M388 382.5h7M391.5 379v7M388 382.5h7M391.5 379v7M388 404.5h7M391.5 401v7M388 388.5h7M391.5 385v7M388 394.5h7M391.5 391v7M388 396.5h7M391.5 393v7M388 385.5h7M391.5 382v7M388 403.5h7M391.5 400v7M388 384.5h7M391.5 381v7M388 381.5h7M391.5 378v7M388 376.5h7M391.5 373v7M388 383.5h7M391.5 380v7M388 377.5h7M391.5 374v7M388 394.5h7M391.5 391v7M388 375.5h7M391.5 372v7M387 348.5h7M390.5 345v7M390 346.5h7M393.5 343v7M389 347.5h7M392.5 344v7M389 347.5h7M392.5 344v7M387 339.5h7M390.5 336v7M388 342.5h7M391.5 339v7M388 357.5h7M391.5 354v7M387 358.5h7M390.5 355v7M387 355.5h7M390.5 352v7M389 393.5h7M392.5 390v7M389 395.5h7M392.5 392v7M389 393.5h7M392.5 390v7M389 404.5h7M392.5 401v7M389 403.5h7M392.5 400v7M389 370.5h7M392.5 367v7M389 374.5h7M392.5 371v7M389 334.5h7M392.5 331v7M390 398.5h7M393.5 395v7M390 395.5h7M393.5 392v7M390 393.5h7M393.5 390v7M390 402.5h7M393.5 399v7M390 378.5h7M393.5 375v7M390 401.5h7M393.5 398v7M390 390.5h7M393.5 387v7M390 395.5h7M393.5 392v7M390 394.5h7M393.5 391v7M390 386.5h7M393.5 383v7M390 390.5h7M393.5 387v7M390 402.5h7M393.5 399v7M390 389.5h7M393.5 386v7M390 401.5h7M393.5 398v7M390 375.5h7M393.5 372v7M390 369.5h7M393.5 366v7M390 374.5h7M393.5 371v7M389 365.5h7M392.5 362v7M391 369.5h7M394.5 366v7M393 369.5h7M396.5 366v7M392 358.5h7M395.5 355v7M388 358.5h7M391.5 355v7M390 354.5h7M393.5 351v7M391 380.5h7M394.5 377v7M391 393.5h7M394.5 390v7M391 387.5h7M394.5 384v7M391 400.5h7M394.5 397v7M391 392.5h7M394.5 389v7M391 398.5h7M394.5 395v7M391 398.5h7M394.5 395v7M391 381.5h7M394.5 378v7M391 377.5h7M394.5 374v7M391 396.5h7M394.5 393v7M391 377.5h7M394.5 374v7M391 402.5h7M394.5 399v7M391 394.5h7M394.5 391v7M391 369.5h7M394.5 366v7M390 373.5h7M393.5 370v7M389 374.5h7M392.5 371v7M391 371.5h7M394.5 368v7M390 341.5h7M393.5 338v7M391 341.5h7M394.5 338v7M390 345.5h7M393.5 342v7M392 403.5h7M395.5 400v7M392 377.5h7M395.5 374v7M392 395.5h7M395.5 392v7M392 383.5h7M395.5 380v7M392 400.5h7M395.5 397v7M392 392.5h7M395.5 389v7M392 400.5h7M395.5 397v7M393 353.5h7M396.5 350v7M397 355.5h7M400.5 352v7M392 358.5h7M395.5 355v7M392 370.5h7M395.5 367v7M392 371.5h7M395.5 368v7M393 372.5h7M396.5 369v7M392 340.5h7M395.5 337v7M393 386.5h7M396.5 383v7M393 402.5h7M396.5 399v7M393 397.5h7M396.5 394v7M393 385.5h7M396.5 382v7M393 380.5h7M396.5 377v7M393 386.5h7M396.5 383v7M393 386.5h7M396.5 383v7M393 400.5h7M396.5 397v7M393 390.5h7M396.5 387v7M393 401.5h7M396.5 398v7M393 403.5h7M396.5 400v7M393 399.5h7M396.5 396v7M393 387.5h7M396.5 384v7M393 386.5h7M396.5 383v7M393 391.5h7M396.5 388v7M393 394.5h7M396.5 391v7M393 399.5h7M396.5 396v7M393 398.5h7M396.5 395v7M393 384.5h7M396.5 381v7M393 375.5h7M396.5 372v7M393 341.5h7M396.5 338v7M394 400.5h7M397.5 397v7M394 402.5h7M397.5 399v7M394 392.5h7M397.5 389v7M394 379.5h7M397.5 376v7M394 402.5h7M397.5 399v7M394 402.5h7M397.5 399v7M394 379.5h7M397.5 376v7M394 394.5h7M397.5 391v7M394 394.5h7M397.5 391v7M394 372.5h7M397.5 369v7M394 372.5h7M397.5 369v7M395 350.5h7M398.5 347v7M395 355.5h7M398.5 352v7M398 351.5h7M401.5 348v7M394 407.5h7M397.5 404v7M395 387.5h7M398.5 384v7M395 387.5h7M398.5 384v7M395 389.5h7M398.5 386v7M395 394.5h7M398.5 391v7M395 377.5h7M398.5 374v7M395 381.5h7M398.5 378v7M395 395.5h7M398.5 392v7M395 379.5h7M398.5 376v7M395 399.5h7M398.5 396v7M395 387.5h7M398.5 384v7M395 378.5h7M398.5 375v7M395 397.5h7M398.5 394v7M395 383.5h7M398.5 380v7M395 369.5h7M398.5 366v7M395 373.5h7M398.5 370v7M395 374.5h7M398.5 371v7M395 374.5h7M398.5 371v7M390 374.5h7M393.5 371v7M397 373.5h7M400.5 370v7M395 376.5h7M398.5 373v7M397 355.5h7M400.5 352v7M396 352.5h7M399.5 349v7M396 351.5h7M399.5 348v7M395 377.5h7M398.5 374v7M392 374.5h7M395.5 371v7M396 372.5h7M399.5 369v7M394 367.5h7M397.5 364v7M397 369.5h7M400.5 366v7M396 364.5h7M399.5 361v7M396 382.5h7M399.5 379v7M396 400.5h7M399.5 397v7M396 382.5h7M399.5 379v7M396 401.5h7M399.5 398v7M396 391.5h7M399.5 388v7M396 403.5h7M399.5 400v7M396 390.5h7M399.5 387v7M396 381.5h7M399.5 378v7M396 393.5h7M399.5 390v7M396 389.5h7M399.5 386v7M396 379.5h7M399.5 376v7M396 398.5h7M399.5 395v7M396 400.5h7M399.5 397v7M396 377.5h7M399.5 374v7M396 376.5h7M399.5 373v7M396 376.5h7M399.5 373v7M394 352.5h7M397.5 349v7M395 349.5h7M398.5 346v7M397 349.5h7M400.5 346v7M396 374.5h7M399.5 371v7M397 376.5h7M400.5 373v7M396 373.5h7M399.5 370v7M397 381.5h7M400.5 378v7M397 389.5h7M400.5 386v7M397 395.5h7M400.5 392v7M397 385.5h7M400.5 382v7M397 401.5h7M400.5 398v7M397 378.5h7M400.5 375v7M397 397.5h7M400.5 394v7M397 382.5h7M400.5 379v7M397 402.5h7M400.5 399v7M397 380.5h7M400.5 377v7M397 400.5h7M400.5 397v7M397 371.5h7M400.5 368v7M398 390.5h7M401.5 387v7M398 399.5h7M401.5 396v7M398 399.5h7M401.5 396v7M398 381.5h7M401.5 378v7M398 392.5h7M401.5 389v7M398 375.5h7M401.5 372v7M398 374.5h7M401.5 371v7M398 375.5h7M401.5 372v7M399 364.5h7M402.5 361v7M394 362.5h7M397.5 359v7M398 361.5h7M401.5 358v7M398 348.5h7M401.5 345v7M399 384.5h7M402.5 381v7M399 396.5h7M402.5 393v7M399 381.5h7M402.5 378v7M399 400.5h7M402.5 397v7M399 399.5h7M402.5 396v7M399 377.5h7M402.5 374v7M399 392.5h7M402.5 389v7M399 399.5h7M402.5 396v7M399 390.5h7M402.5 387v7M399 390.5h7M402.5 387v7M399 391.5h7M402.5 388v7M399 390.5h7M402.5 387v7M399 373.5h7M402.5 370v7M399 369.5h7M402.5 366v7M399 371.5h7M402.5 368v7M399 346.5h7M402.5 343v7M400 377.5h7M403.5 374v7M400 398.5h7M403.5 395v7M400 385.5h7M403.5 382v7M400 377.5h7M403.5 374v7M400 392.5h7M403.5 389v7M400 388.5h7M403.5 385v7M400 393.5h7M403.5 390v7M400 375.5h7M403.5 372v7M399 353.5h7M402.5 350v7M396 353.5h7M399.5 350v7M402 347.5h7M405.5 344v7M401 350.5h7M404.5 347v7M397 355.5h7M400.5 352v7M400 354.5h7M403.5 351v7M401 380.5h7M404.5 377v7M401 385.5h7M404.5 382v7M401 385.5h7M404.5 382v7M401 378.5h7M404.5 375v7M401 397.5h7M404.5 394v7M401 398.5h7M404.5 395v7M401 381.5h7M404.5 378v7M401 390.5h7M404.5 387v7M401 398.5h7M404.5 395v7M401 372.5h7M404.5 369v7M402 370.5h7M405.5 367v7M401 371.5h7M404.5 368v7M400 370.5h7M403.5 367v7M402 397.5h7M405.5 394v7M402 400.5h7M405.5 397v7M402 394.5h7M405.5 391v7M402 379.5h7M405.5 376v7M402 401.5h7M405.5 398v7M402 396.5h7M405.5 393v7M402 381.5h7M405.5 378v7M402 400.5h7M405.5 397v7M403 385.5h7M406.5 382v7M403 383.5h7M406.5 380v7M403 376.5h7M406.5 373v7M403 390.5h7M406.5 387v7M403 387.5h7M406.5 384v7M403 393.5h7M406.5 390v7M403 381.5h7M406.5 378v7M403 371.5h7M406.5 368v7M403 352.5h7M406.5 349v7M406 354.5h7M409.5 351v7M402 353.5h7M405.5 350v7M403 337.5h7M406.5 334v7M404 379.5h7M407.5 376v7M404 397.5h7M407.5 394v7M404 386.5h7M407.5 383v7M404 383.5h7M407.5 380v7M404 385.5h7M407.5 382v7M404 393.5h7M407.5 390v7M404 379.5h7M407.5 376v7M404 380.5h7M407.5 377v7M404 392.5h7M407.5 389v7M404 372.5h7M407.5 369v7M404 372.5h7M407.5 369v7M404 372.5h7M407.5 369v7M405 384.5h7M408.5 381v7M405 383.5h7M408.5 380v7M405 383.5h7M408.5 380v7M405 376.5h7M408.5 373v7M405 394.5h7M408.5 391v7M405 390.5h7M408.5 387v7M405 392.5h7M408.5 389v7M405 390.5h7M408.5 387v7M405 386.5h7M408.5 383v7M405 376.5h7M408.5 373v7M401 345.5h7M404.5 342v7M408 342.5h7M411.5 339v7M405 342.5h7M408.5 339v7M406 378.5h7M409.5 375v7M406 389.5h7M409.5 386v7M406 382.5h7M409.5 379v7M406 381.5h7M409.5 378v7M406 393.5h7M409.5 390v7M406 386.5h7M409.5 383v7M406 399.5h7M409.5 396v7M406 369.5h7M409.5 366v7M406 375.5h7M409.5 372v7M406 372.5h7M409.5 369v7M405 362.5h7M408.5 359v7M405 362.5h7M408.5 359v7M405 362.5h7M408.5 359v7M407 392.5h7M410.5 389v7M407 382.5h7M410.5 379v7M407 386.5h7M410.5 383v7M407 390.5h7M410.5 387v7M407 387.5h7M410.5 384v7M407 382.5h7M410.5 379v7M407 396.5h7M410.5 393v7M407 378.5h7M410.5 375v7M407 390.5h7M410.5 387v7M405 369.5h7M408.5 366v7M406 377.5h7M409.5 374v7M410 373.5h7M413.5 370v7M408 367.5h7M411.5 364v7M408 363.5h7M411.5 360v7M406 367.5h7M409.5 364v7M406 349.5h7M409.5 346v7M408 354.5h7M411.5 351v7M407 357.5h7M410.5 354v7M405 367.5h7M408.5 364v7M407 369.5h7M410.5 366v7M407 369.5h7M410.5 366v7M409 355.5h7M412.5 352v7M406 358.5h7M409.5 355v7M408 362.5h7M411.5 359v7M405 365.5h7M408.5 362v7M408 362.5h7M411.5 359v7M408 364.5h7M411.5 361v7M408 387.5h7M411.5 384v7M408 376.5h7M411.5 373v7M408 379.5h7M411.5 376v7M408 386.5h7M411.5 383v7M408 385.5h7M411.5 382v7M408 377.5h7M411.5 374v7M408 383.5h7M411.5 380v7M408 382.5h7M411.5 379v7M408 382.5h7M411.5 379v7M408 385.5h7M411.5 382v7M408 377.5h7M411.5 374v7M408 377.5h7M411.5 374v7M410 373.5h7M413.5 370v7M404 370.5h7M407.5 367v7M410 368.5h7M413.5 365v7M410 343.5h7M413.5 340v7M406 342.5h7M409.5 339v7M406 345.5h7M409.5 342v7M410 362.5h7M413.5 359v7M408 363.5h7M411.5 360v7M407 369.5h7M410.5 366v7M409 378.5h7M412.5 375v7M409 379.5h7M412.5 376v7M409 396.5h7M412.5 393v7M409 384.5h7M412.5 381v7M409 395.5h7M412.5 392v7M409 386.5h7M412.5 383v7M409 394.5h7M412.5 391v7M409 372.5h7M412.5 369v7M409 371.5h7M412.5 368v7M410 384.5h7M413.5 381v7M410 392.5h7M413.5 389v7M410 377.5h7M413.5 374v7M410 381.5h7M413.5 378v7M410 377.5h7M413.5 374v7M410 392.5h7M413.5 389v7M410 378.5h7M413.5 375v7M410 370.5h7M413.5 367v7M410 372.5h7M413.5 369v7M407 373.5h7M410.5 370v7M411 372.5h7M414.5 369v7M408 369.5h7M411.5 366v7M411 383.5h7M414.5 380v7M411 376.5h7M414.5 373v7M411 377.5h7M414.5 374v7M411 376.5h7M414.5 373v7M411 380.5h7M414.5 377v7M411 381.5h7M414.5 378v7M411 382.5h7M414.5 379v7M411 389.5h7M414.5 386v7M411 391.5h7M414.5 388v7M411 391.5h7M414.5 388v7M411 391.5h7M414.5 388v7M411 393.5h7M414.5 390v7M411 370.5h7M414.5 367v7M411 368.5h7M414.5 365v7M410 368.5h7M413.5 365v7M410 370.5h7M413.5 367v7M416 373.5h7M419.5 370v7M411 340.5h7M414.5 337v7M412 389.5h7M415.5 386v7M412 393.5h7M415.5 390v7M412 395.5h7M415.5 392v7M412 390.5h7M415.5 387v7M412 392.5h7M415.5 389v7M412 392.5h7M415.5 389v7M412 392.5h7M415.5 389v7M412 388.5h7M415.5 385v7M412 395.5h7M415.5 392v7M412 394.5h7M415.5 391v7M412 341.5h7M415.5 338v7M413 384.5h7M416.5 381v7M413 378.5h7M416.5 375v7M413 388.5h7M416.5 385v7M413 382.5h7M416.5 379v7M413 391.5h7M416.5 388v7M413 376.5h7M416.5 373v7M413 374.5h7M416.5 371v7M413 374.5h7M416.5 371v7M413 374.5h7M416.5 371v7M414 389.5h7M417.5 386v7M414 378.5h7M417.5 375v7M414 384.5h7M417.5 381v7M414 395.5h7M417.5 392v7M414 395.5h7M417.5 392v7M414 394.5h7M417.5 391v7M414 380.5h7M417.5 377v7M414 396.5h7M417.5 393v7M414 379.5h7M417.5 376v7M414 396.5h7M417.5 393v7M414 376.5h7M417.5 373v7M414 372.5h7M417.5 369v7M414 372.5h7M417.5 369v7M414 374.5h7M417.5 371v7M415 377.5h7M418.5 374v7M415 392.5h7M418.5 389v7M415 380.5h7M418.5 377v7M415 392.5h7M418.5 389v7M415 389.5h7M418.5 386v7M415 392.5h7M418.5 389v7M415 392.5h7M418.5 389v7M415 394.5h7M418.5 391v7M415 387.5h7M418.5 384v7M415 389.5h7M418.5 386v7M415 382.5h7M418.5 379v7M415 376.5h7M418.5 373v7M415 342.5h7M418.5 339v7M413 342.5h7M416.5 339v7M413 344.5h7M416.5 341v7M415 402.5h7M418.5 399v7M416 396.5h7M419.5 393v7M416 378.5h7M419.5 375v7M416 379.5h7M419.5 376v7M416 390.5h7M419.5 387v7M416 390.5h7M419.5 387v7M416 390.5h7M419.5 387v7M416 394.5h7M419.5 391v7M416 397.5h7M419.5 394v7M416 386.5h7M419.5 383v7M416 384.5h7M419.5 381v7M416 396.5h7M419.5 393v7M420 368.5h7M423.5 365v7M414 366.5h7M417.5 363v7M416 367.5h7M419.5 364v7M418 364.5h7M421.5 361v7M418 370.5h7M421.5 367v7M415 374.5h7M418.5 371v7M413 365.5h7M416.5 362v7M416 371.5h7M419.5 368v7M419 368.5h7M422.5 365v7M419 360.5h7M422.5 357v7M419 361.5h7M422.5 358v7M416 360.5h7M419.5 357v7M417 386.5h7M420.5 383v7M417 378.5h7M420.5 375v7M417 389.5h7M420.5 386v7M417 395.5h7M420.5 392v7M417 389.5h7M420.5 386v7M417 389.5h7M420.5 386v7M417 399.5h7M420.5 396v7M417 395.5h7M420.5 392v7M417 384.5h7M420.5 381v7M417 400.5h7M420.5 397v7M417 371.5h7M420.5 368v7M417 343.5h7M420.5 340v7M416 346.5h7M419.5 343v7M419 351.5h7M422.5 348v7M418 346.5h7M421.5 343v7M418 348.5h7M421.5 345v7M416 343.5h7M419.5 340v7M418 400.5h7M421.5 397v7M418 400.5h7M421.5 397v7M418 382.5h7M421.5 379v7M418 385.5h7M421.5 382v7M418 384.5h7M421.5 381v7M418 381.5h7M421.5 378v7M418 394.5h7M421.5 391v7M418 386.5h7M421.5 383v7M419 392.5h7M422.5 389v7M419 385.5h7M422.5 382v7M419 392.5h7M422.5 389v7M419 385.5h7M422.5 382v7M419 389.5h7M422.5 386v7M419 390.5h7M422.5 387v7M419 394.5h7M422.5 391v7M419 384.5h7M422.5 381v7M419 393.5h7M422.5 390v7M420 344.5h7M423.5 341v7M417 345.5h7M420.5 342v7M418 342.5h7M421.5 339v7M419 343.5h7M422.5 340v7M420 380.5h7M423.5 377v7M420 385.5h7M423.5 382v7M420 381.5h7M423.5 378v7M420 380.5h7M423.5 377v7M420 391.5h7M423.5 388v7M420 398.5h7M423.5 395v7M420 383.5h7M423.5 380v7M420 385.5h7M423.5 382v7M420 391.5h7M423.5 388v7M420 383.5h7M423.5 380v7M420 388.5h7M423.5 385v7M420 398.5h7M423.5 395v7M420 379.5h7M423.5 376v7M420 375.5h7M423.5 372v7M421 383.5h7M424.5 380v7M421 395.5h7M424.5 392v7M421 393.5h7M424.5 390v7M421 389.5h7M424.5 386v7M421 385.5h7M424.5 382v7M421 388.5h7M424.5 385v7M421 377.5h7M424.5 374v7M421 379.5h7M424.5 376v7M421 384.5h7M424.5 381v7M421 380.5h7M424.5 377v7M425 376.5h7M428.5 373v7M422 377.5h7M425.5 374v7M419 376.5h7M422.5 373v7M420 371.5h7M423.5 368v7M421 372.5h7M424.5 369v7M418 369.5h7M421.5 366v7M420 369.5h7M423.5 366v7M423 374.5h7M426.5 371v7M419 370.5h7M422.5 367v7M422 390.5h7M425.5 387v7M422 379.5h7M425.5 376v7M422 390.5h7M425.5 387v7M422 389.5h7M425.5 386v7M422 388.5h7M425.5 385v7M422 386.5h7M425.5 383v7M422 388.5h7M425.5 385v7M422 397.5h7M425.5 394v7M422 384.5h7M425.5 381v7M422 373.5h7M425.5 370v7M422 330.5h7M425.5 327v7M423 383.5h7M426.5 380v7M423 394.5h7M426.5 391v7M423 388.5h7M426.5 385v7M423 396.5h7M426.5 393v7M423 394.5h7M426.5 391v7M423 385.5h7M426.5 382v7M424 384.5h7M427.5 381v7M424 385.5h7M427.5 382v7M424 387.5h7M427.5 384v7M424 378.5h7M427.5 375v7M424 389.5h7M427.5 386v7M424 388.5h7M427.5 385v7M424 391.5h7M427.5 388v7M424 382.5h7M427.5 379v7M424 377.5h7M427.5 374v7M424 375.5h7M427.5 372v7M425 387.5h7M428.5 384v7M425 386.5h7M428.5 383v7M425 397.5h7M428.5 394v7M425 388.5h7M428.5 385v7M425 378.5h7M428.5 375v7M425 390.5h7M428.5 387v7M425 378.5h7M428.5 375v7M425 375.5h7M428.5 372v7M425 337.5h7M428.5 334v7M426 385.5h7M429.5 382v7M426 381.5h7M429.5 378v7M426 395.5h7M429.5 392v7M426 386.5h7M429.5 383v7M426 381.5h7M429.5 378v7M426 382.5h7M429.5 379v7M427 389.5h7M430.5 386v7M427 391.5h7M430.5 388v7M427 393.5h7M430.5 390v7M427 394.5h7M430.5 391v7M427 377.5h7M430.5 374v7M427 392.5h7M430.5 389v7M427 383.5h7M430.5 380v7M427 392.5h7M430.5 389v7M427 380.5h7M430.5 377v7M427 384.5h7M430.5 381v7M427 385.5h7M430.5 382v7M427 373.5h7M430.5 370v7M427 376.5h7M430.5 373v7M427 372.5h7M430.5 369v7M426 366.5h7M429.5 363v7M423 365.5h7M426.5 362v7M427 368.5h7M430.5 365v7M428 379.5h7M431.5 376v7M428 393.5h7M431.5 390v7M428 378.5h7M431.5 375v7M428 382.5h7M431.5 379v7M428 385.5h7M431.5 382v7M428 380.5h7M431.5 377v7M428 374.5h7M431.5 371v7M429 397.5h7M432.5 394v7M429 398.5h7M432.5 395v7M429 398.5h7M432.5 395v7M429 387.5h7M432.5 384v7M429 377.5h7M432.5 374v7M429 385.5h7M432.5 382v7M429 383.5h7M432.5 380v7M429 390.5h7M432.5 387v7M429 393.5h7M432.5 390v7M429 373.5h7M432.5 370v7M430 383.5h7M433.5 380v7M430 388.5h7M433.5 385v7M430 391.5h7M433.5 388v7M430 396.5h7M433.5 393v7M430 400.5h7M433.5 397v7M430 379.5h7M433.5 376v7M430 401.5h7M433.5 398v7M430 387.5h7M433.5 384v7M430 376.5h7M433.5 373v7M430 371.5h7M433.5 368v7M431 376.5h7M434.5 373v7M432 368.5h7M435.5 365v7M431 395.5h7M434.5 392v7M431 380.5h7M434.5 377v7M431 398.5h7M434.5 395v7M431 383.5h7M434.5 380v7M431 379.5h7M434.5 376v7M431 400.5h7M434.5 397v7M431 392.5h7M434.5 389v7M431 399.5h7M434.5 396v7M431 398.5h7M434.5 395v7M432 388.5h7M435.5 385v7M432 386.5h7M435.5 383v7M432 390.5h7M435.5 387v7M432 391.5h7M435.5 388v7M432 382.5h7M435.5 379v7M432 377.5h7M435.5 374v7M432 392.5h7M435.5 389v7M432 382.5h7M435.5 379v7M432 380.5h7M435.5 377v7M432 384.5h7M435.5 381v7M432 381.5h7M435.5 378v7M432 401.5h7M435.5 398v7M430 368.5h7M433.5 365v7M432 370.5h7M435.5 367v7M434 367.5h7M437.5 364v7M433 391.5h7M436.5 388v7M433 378.5h7M436.5 375v7M433 397.5h7M436.5 394v7M433 382.5h7M436.5 379v7M433 385.5h7M436.5 382v7M433 384.5h7M436.5 381v7M433 398.5h7M436.5 395v7M433 389.5h7M436.5 386v7M433 406.5h7M436.5 403v7M433 400.5h7M436.5 397v7M433 404.5h7M436.5 401v7M433 397.5h7M436.5 394v7M433 384.5h7M436.5 381v7M433 372.5h7M436.5 369v7M434 369.5h7M437.5 366v7M435 359.5h7M438.5 356v7M432 360.5h7M435.5 357v7M434 377.5h7M437.5 374v7M434 395.5h7M437.5 392v7M434 394.5h7M437.5 391v7M434 399.5h7M437.5 396v7M434 383.5h7M437.5 380v7M434 393.5h7M437.5 390v7M434 384.5h7M437.5 381v7M434 398.5h7M437.5 395v7M434 379.5h7M437.5 376v7M434 381.5h7M437.5 378v7M434 403.5h7M437.5 400v7M434 373.5h7M437.5 370v7M437 351.5h7M440.5 348v7M430 360.5h7M433.5 357v7M431 358.5h7M434.5 355v7M435 381.5h7M438.5 378v7M435 402.5h7M438.5 399v7M435 400.5h7M438.5 397v7M435 400.5h7M438.5 397v7M435 392.5h7M438.5 389v7M435 390.5h7M438.5 387v7M435 380.5h7M438.5 377v7M435 383.5h7M438.5 380v7M435 380.5h7M438.5 377v7M435 391.5h7M438.5 388v7M435 371.5h7M438.5 368v7M432 356.5h7M435.5 353v7M435 355.5h7M438.5 352v7M439 351.5h7M442.5 348v7M436 399.5h7M439.5 396v7M436 378.5h7M439.5 375v7M436 391.5h7M439.5 388v7M436 384.5h7M439.5 381v7M436 387.5h7M439.5 384v7M436 400.5h7M439.5 397v7M436 374.5h7M439.5 371v7M434 366.5h7M437.5 363v7M434 372.5h7M437.5 369v7M433 371.5h7M436.5 368v7M437 375.5h7M440.5 372v7M435 378.5h7M438.5 375v7M438 375.5h7M441.5 372v7M437 392.5h7M440.5 389v7M437 399.5h7M440.5 396v7M437 400.5h7M440.5 397v7M437 400.5h7M440.5 397v7M437 399.5h7M440.5 396v7M437 381.5h7M440.5 378v7M437 390.5h7M440.5 387v7M437 395.5h7M440.5 392v7M437 393.5h7M440.5 390v7M437 386.5h7M440.5 383v7M437 378.5h7M440.5 375v7M437 372.5h7M440.5 369v7M437 376.5h7M440.5 373v7M437 375.5h7M440.5 372v7M437 357.5h7M440.5 354v7M440 364.5h7M443.5 361v7M435 355.5h7M438.5 352v7M438 384.5h7M441.5 381v7M438 391.5h7M441.5 388v7M438 388.5h7M441.5 385v7M438 393.5h7M441.5 390v7M438 380.5h7M441.5 377v7M438 387.5h7M441.5 384v7M438 391.5h7M441.5 388v7M438 401.5h7M441.5 398v7M438 399.5h7M441.5 396v7M438 371.5h7M441.5 368v7M440 371.5h7M443.5 368v7M439 363.5h7M442.5 360v7M437 365.5h7M440.5 362v7M439 388.5h7M442.5 385v7M439 390.5h7M442.5 387v7M439 388.5h7M442.5 385v7M439 378.5h7M442.5 375v7M439 400.5h7M442.5 397v7M439 385.5h7M442.5 382v7M439 377.5h7M442.5 374v7M439 374.5h7M442.5 371v7M439 375.5h7M442.5 372v7M440 389.5h7M443.5 386v7M440 398.5h7M443.5 395v7M440 380.5h7M443.5 377v7M440 384.5h7M443.5 381v7M440 378.5h7M443.5 375v7M440 379.5h7M443.5 376v7M440 386.5h7M443.5 383v7M440 370.5h7M443.5 367v7M441 376.5h7M444.5 373v7M442 375.5h7M445.5 372v7M438 371.5h7M441.5 368v7M441 381.5h7M444.5 378v7M441 396.5h7M444.5 393v7M441 389.5h7M444.5 386v7M441 384.5h7M444.5 381v7M441 380.5h7M444.5 377v7M441 381.5h7M444.5 378v7M441 382.5h7M444.5 379v7M441 387.5h7M444.5 384v7M441 377.5h7M444.5 374v7M441 382.5h7M444.5 379v7M441 386.5h7M444.5 383v7M441 371.5h7M444.5 368v7M441 376.5h7M444.5 373v7M441 376.5h7M444.5 373v7M442 383.5h7M445.5 380v7M442 381.5h7M445.5 378v7M442 383.5h7M445.5 380v7M442 392.5h7M445.5 389v7M442 392.5h7M445.5 389v7M442 378.5h7M445.5 375v7M442 396.5h7M445.5 393v7M442 376.5h7M445.5 373v7M442 375.5h7M445.5 372v7M444 374.5h7M447.5 371v7M441 374.5h7M444.5 371v7M442 371.5h7M445.5 368v7M443 370.5h7M446.5 367v7M440 370.5h7M443.5 367v7M446 369.5h7M449.5 366v7M443 391.5h7M446.5 388v7M443 392.5h7M446.5 389v7M443 392.5h7M446.5 389v7M443 385.5h7M446.5 382v7M443 396.5h7M446.5 393v7M443 390.5h7M446.5 387v7M443 385.5h7M446.5 382v7M443 382.5h7M446.5 379v7M443 378.5h7M446.5 375v7M443 393.5h7M446.5 390v7M443 384.5h7M446.5 381v7M443 373.5h7M446.5 370v7M446 379.5h7M449.5 376v7M441 378.5h7M444.5 375v7M443 377.5h7M446.5 374v7M444 381.5h7M447.5 378v7M444 392.5h7M447.5 389v7M444 393.5h7M447.5 390v7M444 394.5h7M447.5 391v7M444 397.5h7M447.5 394v7M444 384.5h7M447.5 381v7M444 378.5h7M447.5 375v7M444 385.5h7M447.5 382v7M444 384.5h7M447.5 381v7M444 379.5h7M447.5 376v7M444 392.5h7M447.5 389v7M444 376.5h7M447.5 373v7M445 366.5h7M448.5 363v7M445 365.5h7M448.5 362v7M447 365.5h7M450.5 362v7M448 352.5h7M451.5 349v7M442 358.5h7M445.5 355v7M446 357.5h7M449.5 354v7M445 392.5h7M448.5 389v7M445 377.5h7M448.5 374v7M445 399.5h7M448.5 396v7M445 387.5h7M448.5 384v7M445 383.5h7M448.5 380v7M445 378.5h7M448.5 375v7M445 380.5h7M448.5 377v7M445 378.5h7M448.5 375v7M445 389.5h7M448.5 386v7M445 385.5h7M448.5 382v7M445 383.5h7M448.5 380v7M445 395.5h7M448.5 392v7M445 379.5h7M448.5 376v7M445 386.5h7M448.5 383v7M445 372.5h7M448.5 369v7M445 374.5h7M448.5 371v7M445 376.5h7M448.5 373v7M449 369.5h7M452.5 366v7M445 368.5h7M448.5 365v7M446 366.5h7M449.5 363v7M444 372.5h7M447.5 369v7M445 360.5h7M448.5 357v7M447 372.5h7M450.5 369v7M446 385.5h7M449.5 382v7M446 395.5h7M449.5 392v7M446 387.5h7M449.5 384v7M446 386.5h7M449.5 383v7M446 394.5h7M449.5 391v7M446 390.5h7M449.5 387v7M446 355.5h7M449.5 352v7M447 395.5h7M450.5 392v7M447 388.5h7M450.5 385v7M447 378.5h7M450.5 375v7M447 391.5h7M450.5 388v7M447 388.5h7M450.5 385v7M447 399.5h7M450.5 396v7M447 398.5h7M450.5 395v7M447 373.5h7M450.5 370v7M447 376.5h7M450.5 373v7M447 373.5h7M450.5 370v7M448 383.5h7M451.5 380v7M448 393.5h7M451.5 390v7M448 388.5h7M451.5 385v7M448 386.5h7M451.5 383v7M448 395.5h7M451.5 392v7M448 377.5h7M451.5 374v7M448 398.5h7M451.5 395v7M448 383.5h7M451.5 380v7M448 396.5h7M451.5 393v7M448 395.5h7M451.5 392v7M448 374.5h7M451.5 371v7M448 375.5h7M451.5 372v7M448 373.5h7M451.5 370v7M444 374.5h7M447.5 371v7M445 368.5h7M448.5 365v7M447 372.5h7M450.5 369v7M449 386.5h7M452.5 383v7M449 392.5h7M452.5 389v7M449 387.5h7M452.5 384v7M449 393.5h7M452.5 390v7M449 379.5h7M452.5 376v7M449 385.5h7M452.5 382v7M449 379.5h7M452.5 376v7M449 393.5h7M452.5 390v7M449 376.5h7M452.5 373v7M450 377.5h7M453.5 374v7M450 393.5h7M453.5 390v7M450 386.5h7M453.5 383v7M450 381.5h7M453.5 378v7M450 392.5h7M453.5 389v7M450 393.5h7M453.5 390v7M450 391.5h7M453.5 388v7M451 382.5h7M454.5 379v7M451 387.5h7M454.5 384v7M451 391.5h7M454.5 388v7M451 379.5h7M454.5 376v7M451 380.5h7M454.5 377v7M451 347.5h7M454.5 344v7M452 383.5h7M455.5 380v7M452 400.5h7M455.5 397v7M452 393.5h7M455.5 390v7M452 398.5h7M455.5 395v7M452 385.5h7M455.5 382v7M452 401.5h7M455.5 398v7M452 387.5h7M455.5 384v7M452 396.5h7M455.5 393v7M452 399.5h7M455.5 396v7M452 389.5h7M455.5 386v7M452 387.5h7M455.5 384v7M452 389.5h7M455.5 386v7M452 380.5h7M455.5 377v7M454 366.5h7M457.5 363v7M451 368.5h7M454.5 365v7M451 363.5h7M454.5 360v7M453 372.5h7M456.5 369v7M451 372.5h7M454.5 369v7M453 369.5h7M456.5 366v7M453 386.5h7M456.5 383v7M453 398.5h7M456.5 395v7M453 381.5h7M456.5 378v7M453 378.5h7M456.5 375v7M453 383.5h7M456.5 380v7M453 397.5h7M456.5 394v7M453 400.5h7M456.5 397v7M453 384.5h7M456.5 381v7M453 402.5h7M456.5 399v7M453 389.5h7M456.5 386v7M453 395.5h7M456.5 392v7M453 394.5h7M456.5 391v7M453 389.5h7M456.5 386v7M453 399.5h7M456.5 396v7M453 400.5h7M456.5 397v7M453 389.5h7M456.5 386v7M453 358.5h7M456.5 355v7M455 361.5h7M458.5 358v7M453 358.5h7M456.5 355v7M452 367.5h7M455.5 364v7M454 370.5h7M457.5 367v7M457 367.5h7M460.5 364v7M453 405.5h7M456.5 402v7M454 386.5h7M457.5 383v7M454 393.5h7M457.5 390v7M454 386.5h7M457.5 383v7M454 396.5h7M457.5 393v7M454 383.5h7M457.5 380v7M454 393.5h7M457.5 390v7M454 381.5h7M457.5 378v7M454 381.5h7M457.5 378v7M454 398.5h7M457.5 395v7M454 375.5h7M457.5 372v7M454 377.5h7M457.5 374v7M455 399.5h7M458.5 396v7M455 380.5h7M458.5 377v7M455 387.5h7M458.5 384v7M455 398.5h7M458.5 395v7M455 402.5h7M458.5 399v7M455 396.5h7M458.5 393v7M455 380.5h7M458.5 377v7M455 402.5h7M458.5 399v7M455 378.5h7M458.5 375v7M455 378.5h7M458.5 375v7M455 396.5h7M458.5 393v7M455 401.5h7M458.5 398v7M455 375.5h7M458.5 372v7M455 376.5h7M458.5 373v7M455 374.5h7M458.5 371v7M459 360.5h7M462.5 357v7M453 357.5h7M456.5 354v7M453 358.5h7M456.5 355v7M456 380.5h7M459.5 377v7M456 399.5h7M459.5 396v7M456 398.5h7M459.5 395v7M456 403.5h7M459.5 400v7M456 375.5h7M459.5 372v7M456 375.5h7M459.5 372v7M457 371.5h7M460.5 368v7M456 370.5h7M459.5 367v7M452 374.5h7M455.5 371v7M456 405.5h7M459.5 402v7M457 402.5h7M460.5 399v7M457 397.5h7M460.5 394v7M457 383.5h7M460.5 380v7M457 400.5h7M460.5 397v7M457 381.5h7M460.5 378v7M457 387.5h7M460.5 384v7M457 394.5h7M460.5 391v7M457 386.5h7M460.5 383v7M457 377.5h7M460.5 374v7M459 360.5h7M462.5 357v7M458 361.5h7M461.5 358v7M458 362.5h7M461.5 359v7M458 387.5h7M461.5 384v7M458 381.5h7M461.5 378v7M458 402.5h7M461.5 399v7M458 388.5h7M461.5 385v7M458 377.5h7M461.5 374v7M458 373.5h7M461.5 370v7M458 376.5h7M461.5 373v7M458 375.5h7M461.5 372v7M459 361.5h7M462.5 358v7M456 362.5h7M459.5 359v7M456 366.5h7M459.5 363v7M457 375.5h7M460.5 372v7M456 374.5h7M459.5 371v7M458 374.5h7M461.5 371v7M460 360.5h7M463.5 357v7M456 358.5h7M459.5 355v7M459 357.5h7M462.5 354v7M459 402.5h7M462.5 399v7M459 383.5h7M462.5 380v7M459 395.5h7M462.5 392v7M459 399.5h7M462.5 396v7M459 404.5h7M462.5 401v7M459 387.5h7M462.5 384v7M459 401.5h7M462.5 398v7M459 394.5h7M462.5 391v7M459 395.5h7M462.5 392v7M459 384.5h7M462.5 381v7M459 401.5h7M462.5 398v7M459 379.5h7M462.5 376v7M459 404.5h7M462.5 401v7M459 393.5h7M462.5 390v7M459 375.5h7M462.5 372v7M460 396.5h7M463.5 393v7M460 397.5h7M463.5 394v7M460 392.5h7M463.5 389v7M460 397.5h7M463.5 394v7M460 400.5h7M463.5 397v7M460 403.5h7M463.5 400v7M460 401.5h7M463.5 398v7M460 380.5h7M463.5 377v7M460 402.5h7M463.5 399v7M460 405.5h7M463.5 402v7M460 391.5h7M463.5 388v7M460 404.5h7M463.5 401v7M460 408.5h7M463.5 405v7M461 378.5h7M464.5 375v7M461 380.5h7M464.5 377v7M461 404.5h7M464.5 401v7M461 398.5h7M464.5 395v7M461 394.5h7M464.5 391v7M461 405.5h7M464.5 402v7M461 397.5h7M464.5 394v7M461 386.5h7M464.5 383v7M461 404.5h7M464.5 401v7M461 400.5h7M464.5 397v7M461 379.5h7M464.5 376v7M461 403.5h7M464.5 400v7M461 376.5h7M464.5 373v7M460 373.5h7M463.5 370v7M463 370.5h7M466.5 367v7M463 371.5h7M466.5 368v7M462 402.5h7M465.5 399v7M462 387.5h7M465.5 384v7M462 389.5h7M465.5 386v7M462 403.5h7M465.5 400v7M462 381.5h7M465.5 378v7M462 381.5h7M465.5 378v7M462 397.5h7M465.5 394v7M462 398.5h7M465.5 395v7M462 384.5h7M465.5 381v7M462 397.5h7M465.5 394v7M462 387.5h7M465.5 384v7M462 378.5h7M465.5 375v7M462 385.5h7M465.5 382v7M462 382.5h7M465.5 379v7M462 390.5h7M465.5 387v7M462 390.5h7M465.5 387v7M462 372.5h7M465.5 369v7M462 377.5h7M465.5 374v7M465 370.5h7M468.5 367v7M463 364.5h7M466.5 361v7M461 366.5h7M464.5 363v7M462 364.5h7M465.5 361v7M461 369.5h7M464.5 366v7M464 364.5h7M467.5 361v7M463 381.5h7M466.5 378v7M463 395.5h7M466.5 392v7M463 398.5h7M466.5 395v7M463 402.5h7M466.5 399v7M463 386.5h7M466.5 383v7M463 380.5h7M466.5 377v7M463 394.5h7M466.5 391v7M463 373.5h7M466.5 370v7M463 376.5h7M466.5 373v7M464 373.5h7M467.5 370v7M463 370.5h7M466.5 367v7M462 370.5h7M465.5 367v7M464 400.5h7M467.5 397v7M464 401.5h7M467.5 398v7M464 398.5h7M467.5 395v7M464 377.5h7M467.5 374v7M464 400.5h7M467.5 397v7M464 398.5h7M467.5 395v7M464 399.5h7M467.5 396v7M464 393.5h7M467.5 390v7M464 382.5h7M467.5 379v7M461 350.5h7M464.5 347v7M461 353.5h7M464.5 350v7M467 351.5h7M470.5 348v7M465 397.5h7M468.5 394v7M465 397.5h7M468.5 394v7M465 392.5h7M468.5 389v7M465 385.5h7M468.5 382v7M465 372.5h7M468.5 369v7M465 375.5h7M468.5 372v7M472 366.5h7M475.5 363v7M467 369.5h7M470.5 366v7M467 365.5h7M470.5 362v7M466 385.5h7M469.5 382v7M466 403.5h7M469.5 400v7M466 395.5h7M469.5 392v7M466 392.5h7M469.5 389v7M466 386.5h7M469.5 383v7M466 381.5h7M469.5 378v7M466 377.5h7M469.5 374v7M466 380.5h7M469.5 377v7M466 381.5h7M469.5 378v7M466 377.5h7M469.5 374v7M465 359.5h7M468.5 356v7M466 356.5h7M469.5 353v7M464 357.5h7M467.5 354v7M466 363.5h7M469.5 360v7M464 355.5h7M467.5 352v7M467 359.5h7M470.5 356v7M467 379.5h7M470.5 376v7M467 381.5h7M470.5 378v7M467 392.5h7M470.5 389v7M467 384.5h7M470.5 381v7M467 384.5h7M470.5 381v7M467 387.5h7M470.5 384v7M467 400.5h7M470.5 397v7M467 383.5h7M470.5 380v7M468 387.5h7M471.5 384v7M468 394.5h7M471.5 391v7M468 387.5h7M471.5 384v7M468 399.5h7M471.5 396v7M468 381.5h7M471.5 378v7M468 399.5h7M471.5 396v7M468 391.5h7M471.5 388v7M468 391.5h7M471.5 388v7M468 393.5h7M471.5 390v7M468 383.5h7M471.5 380v7M468 387.5h7M471.5 384v7M468 382.5h7M471.5 379v7M468 395.5h7M471.5 392v7M468 376.5h7M471.5 373v7M468 342.5h7M471.5 339v7M469 379.5h7M472.5 376v7M469 385.5h7M472.5 382v7M469 381.5h7M472.5 378v7M469 387.5h7M472.5 384v7M469 387.5h7M472.5 384v7M469 398.5h7M472.5 395v7M469 386.5h7M472.5 383v7M469 397.5h7M472.5 394v7M469 377.5h7M472.5 374v7M469 385.5h7M472.5 382v7M469 393.5h7M472.5 390v7M469 373.5h7M472.5 370v7M469 347.5h7M472.5 344v7M470 352.5h7M473.5 349v7M467 352.5h7M470.5 349v7M470 372.5h7M473.5 369v7M469 377.5h7M472.5 374v7M469 371.5h7M472.5 368v7M470 390.5h7M473.5 387v7M470 388.5h7M473.5 385v7M470 382.5h7M473.5 379v7M470 396.5h7M473.5 393v7M470 387.5h7M473.5 384v7M470 379.5h7M473.5 376v7M470 379.5h7M473.5 376v7M470 388.5h7M473.5 385v7M470 390.5h7M473.5 387v7M470 383.5h7M473.5 380v7M471 376.5h7M474.5 373v7M469 368.5h7M472.5 365v7M466 371.5h7M469.5 368v7M470 356.5h7M473.5 353v7M469 352.5h7M472.5 349v7M472 354.5h7M475.5 351v7M471 397.5h7M474.5 394v7M471 385.5h7M474.5 382v7M471 387.5h7M474.5 384v7M471 377.5h7M474.5 374v7M471 389.5h7M474.5 386v7M471 383.5h7M474.5 380v7M471 389.5h7M474.5 386v7M471 390.5h7M474.5 387v7M471 380.5h7M474.5 377v7M471 378.5h7M474.5 375v7M471 369.5h7M474.5 366v7M471 370.5h7M474.5 367v7M471 376.5h7M474.5 373v7M472 359.5h7M475.5 356v7M473 364.5h7M476.5 361v7M471 361.5h7M474.5 358v7M471 343.5h7M474.5 340v7M472 386.5h7M475.5 383v7M472 381.5h7M475.5 378v7M472 395.5h7M475.5 392v7M472 386.5h7M475.5 383v7M472 395.5h7M475.5 392v7M472 378.5h7M475.5 375v7M472 384.5h7M475.5 381v7M472 392.5h7M475.5 389v7M472 398.5h7M475.5 395v7M472 381.5h7M475.5 378v7M472 400.5h7M475.5 397v7M472 392.5h7M475.5 389v7M472 381.5h7M475.5 378v7M475 352.5h7M478.5 349v7M473 357.5h7M476.5 354v7M471 353.5h7M474.5 350v7M472 361.5h7M475.5 358v7M474 360.5h7M477.5 357v7M472 357.5h7M475.5 354v7M471 356.5h7M474.5 353v7M473 363.5h7M476.5 360v7M472 359.5h7M475.5 356v7M472 344.5h7M475.5 341v7M473 389.5h7M476.5 386v7M473 384.5h7M476.5 381v7M473 384.5h7M476.5 381v7M473 380.5h7M476.5 377v7M473 378.5h7M476.5 375v7M473 360.5h7M476.5 357v7M469 363.5h7M472.5 360v7M470 366.5h7M473.5 363v7M473 374.5h7M476.5 371v7M473 374.5h7M476.5 371v7M473 375.5h7M476.5 372v7M472 366.5h7M475.5 363v7M475 367.5h7M478.5 364v7M476 367.5h7M479.5 364v7M474 388.5h7M477.5 385v7M474 395.5h7M477.5 392v7M474 386.5h7M477.5 383v7M474 386.5h7M477.5 383v7M474 399.5h7M477.5 396v7M474 389.5h7M477.5 386v7M474 395.5h7M477.5 392v7M474 392.5h7M477.5 389v7M474 374.5h7M477.5 371v7M472 356.5h7M475.5 353v7M472 360.5h7M475.5 357v7M474 354.5h7M477.5 351v7M475 382.5h7M478.5 379v7M475 395.5h7M478.5 392v7M475 380.5h7M478.5 377v7M475 386.5h7M478.5 383v7M475 380.5h7M478.5 377v7M475 386.5h7M478.5 383v7M475 376.5h7M478.5 373v7M475 387.5h7M478.5 384v7M475 373.5h7M478.5 370v7M475 370.5h7M478.5 367v7M476 393.5h7M479.5 390v7M476 394.5h7M479.5 391v7M476 392.5h7M479.5 389v7M476 380.5h7M479.5 377v7M476 398.5h7M479.5 395v7M476 381.5h7M479.5 378v7M476 384.5h7M479.5 381v7M476 396.5h7M479.5 393v7M476 398.5h7M479.5 395v7M476 382.5h7M479.5 379v7M476 371.5h7M479.5 368v7M476 372.5h7M479.5 369v7M476 358.5h7M479.5 355v7M474 356.5h7M477.5 353v7M476 355.5h7M479.5 352v7M473 369.5h7M476.5 366v7M478 364.5h7M481.5 361v7M476 371.5h7M479.5 368v7M476 405.5h7M479.5 402v7M477 382.5h7M480.5 379v7M477 397.5h7M480.5 394v7M477 377.5h7M480.5 374v7M477 388.5h7M480.5 385v7M477 387.5h7M480.5 384v7M477 378.5h7M480.5 375v7M477 378.5h7M480.5 375v7M477 386.5h7M480.5 383v7M477 384.5h7M480.5 381v7M477 382.5h7M480.5 379v7M477 382.5h7M480.5 379v7M477 381.5h7M480.5 378v7M477 372.5h7M480.5 369v7M477 374.5h7M480.5 371v7M478 398.5h7M481.5 395v7M478 391.5h7M481.5 388v7M478 397.5h7M481.5 394v7M478 390.5h7M481.5 387v7M478 369.5h7M481.5 366v7M478 373.5h7M481.5 370v7M481 357.5h7M484.5 354v7M476 360.5h7M479.5 357v7M479 360.5h7M482.5 357v7M478 340.5h7M481.5 337v7M479 385.5h7M482.5 382v7M479 380.5h7M482.5 377v7M479 381.5h7M482.5 378v7M479 390.5h7M482.5 387v7M479 389.5h7M482.5 386v7M479 386.5h7M482.5 383v7M479 400.5h7M482.5 397v7M479 386.5h7M482.5 383v7M479 381.5h7M482.5 378v7M479 391.5h7M482.5 388v7M479 391.5h7M482.5 388v7M479 373.5h7M482.5 370v7M479 370.5h7M482.5 367v7M480 387.5h7M483.5 384v7M480 399.5h7M483.5 396v7M480 399.5h7M483.5 396v7M480 377.5h7M483.5 374v7M480 383.5h7M483.5 380v7M480 392.5h7M483.5 389v7M480 381.5h7M483.5 378v7M480 376.5h7M483.5 373v7M480 381.5h7M483.5 378v7M480 390.5h7M483.5 387v7M480 395.5h7M483.5 392v7M480 396.5h7M483.5 393v7M480 391.5h7M483.5 388v7M480 392.5h7M483.5 389v7M480 390.5h7M483.5 387v7M480 369.5h7M483.5 366v7M480 368.5h7M483.5 365v7M480 373.5h7M483.5 370v7M482 363.5h7M485.5 360v7M480 369.5h7M483.5 366v7M477 365.5h7M480.5 362v7M479 361.5h7M482.5 358v7M483 360.5h7M486.5 357v7M478 357.5h7M481.5 354v7M481 384.5h7M484.5 381v7M481 394.5h7M484.5 391v7M481 391.5h7M484.5 388v7M481 386.5h7M484.5 383v7M481 398.5h7M484.5 395v7M481 399.5h7M484.5 396v7M481 390.5h7M484.5 387v7M481 382.5h7M484.5 379v7M481 401.5h7M484.5 398v7M481 388.5h7M484.5 385v7M481 384.5h7M484.5 381v7M481 379.5h7M484.5 376v7M481 400.5h7M484.5 397v7M481 394.5h7M484.5 391v7M481 322.5h7M484.5 319v7M482 396.5h7M485.5 393v7M482 385.5h7M485.5 382v7M482 381.5h7M485.5 378v7M482 379.5h7M485.5 376v7M482 397.5h7M485.5 394v7M482 393.5h7M485.5 390v7M482 382.5h7M485.5 379v7M482 380.5h7M485.5 377v7M482 395.5h7M485.5 392v7M482 379.5h7M485.5 376v7M482 388.5h7M485.5 385v7M482 391.5h7M485.5 388v7M482 373.5h7M485.5 370v7M482 375.5h7M485.5 372v7M482 403.5h7M485.5 400v7M483 395.5h7M486.5 392v7M483 388.5h7M486.5 385v7M483 387.5h7M486.5 384v7M483 392.5h7M486.5 389v7M483 376.5h7M486.5 373v7M483 387.5h7M486.5 384v7M483 383.5h7M486.5 380v7M483 388.5h7M486.5 385v7M483 370.5h7M486.5 367v7M484 369.5h7M487.5 366v7M484 379.5h7M487.5 376v7M484 377.5h7M487.5 374v7M484 366.5h7M487.5 363v7M484 393.5h7M487.5 390v7M484 391.5h7M487.5 388v7M484 383.5h7M487.5 380v7M484 370.5h7M487.5 367v7M484 382.5h7M487.5 379v7M484 373.5h7M487.5 370v7M484 384.5h7M487.5 381v7M484 363.5h7M487.5 360v7M484 383.5h7M487.5 380v7M484 381.5h7M487.5 378v7M484 393.5h7M487.5 390v7M484 381.5h7M487.5 378v7M484 389.5h7M487.5 386v7M482 359.5h7M485.5 356v7M487 360.5h7M490.5 357v7M485 357.5h7M488.5 354v7M485 382.5h7M488.5 379v7M485 389.5h7M488.5 386v7M485 391.5h7M488.5 388v7M485 384.5h7M488.5 381v7M485 374.5h7M488.5 371v7M485 382.5h7M488.5 379v7M485 389.5h7M488.5 386v7M485 390.5h7M488.5 387v7M485 383.5h7M488.5 380v7M485 377.5h7M488.5 374v7M485 364.5h7M488.5 361v7M485 365.5h7M488.5 362v7M485 384.5h7M488.5 381v7M485 359.5h7M488.5 356v7M486 365.5h7M489.5 362v7M486 371.5h7M489.5 368v7M486 367.5h7M489.5 364v7M486 376.5h7M489.5 373v7M486 363.5h7M489.5 360v7M486 364.5h7M489.5 361v7M486 356.5h7M489.5 353v7M486 358.5h7M489.5 355v7M487 366.5h7M490.5 363v7M487 365.5h7M490.5 362v7M487 376.5h7M490.5 373v7M487 356.5h7M490.5 353v7M488 375.5h7M491.5 372v7M488 362.5h7M491.5 359v7M488 376.5h7M491.5 373v7M488 374.5h7M491.5 371v7M488 370.5h7M491.5 367v7M488 372.5h7M491.5 369v7M488 339.5h7M491.5 336v7M489 361.5h7M492.5 358v7M489 367.5h7M492.5 364v7M489 360.5h7M492.5 357v7M489 368.5h7M492.5 365v7M489 371.5h7M492.5 368v7M489 364.5h7M492.5 361v7M489 353.5h7M492.5 350v7M490 373.5h7M493.5 370v7M490 371.5h7M493.5 368v7M490 365.5h7M493.5 362v7M490 367.5h7M493.5 364v7M490 361.5h7M493.5 358v7M490 364.5h7M493.5 361v7M490 372.5h7M493.5 369v7M490 369.5h7M493.5 366v7M490 376.5h7M493.5 373v7M490 363.5h7M493.5 360v7M490 363.5h7M493.5 360v7M490 355.5h7M493.5 352v7M490 352.5h7M493.5 349v7M490 340.5h7M493.5 337v7M490 330.5h7M493.5 327v7M491 361.5h7M494.5 358v7M491 373.5h7M494.5 370v7M491 367.5h7M494.5 364v7M491 369.5h7M494.5 366v7M491 370.5h7M494.5 367v7M491 364.5h7M494.5 361v7M491 371.5h7M494.5 368v7M491 356.5h7M494.5 353v7M492 359.5h7M495.5 356v7M492 365.5h7M495.5 362v7M492 375.5h7M495.5 372v7M492 361.5h7M495.5 358v7M492 368.5h7M495.5 365v7M492 370.5h7M495.5 367v7M492 360.5h7M495.5 357v7M492 362.5h7M495.5 359v7M492 364.5h7M495.5 361v7M492 357.5h7M495.5 354v7M493 340.5h7M496.5 337v7M495 346.5h7M498.5 343v7M491 341.5h7M494.5 338v7M493 359.5h7M496.5 356v7M493 364.5h7M496.5 361v7M493 359.5h7M496.5 356v7M493 370.5h7M496.5 367v7M493 367.5h7M496.5 364v7M493 365.5h7M496.5 362v7M493 374.5h7M496.5 371v7M493 364.5h7M496.5 361v7M493 362.5h7M496.5 359v7M494 366.5h7M497.5 363v7M494 363.5h7M497.5 360v7M494 366.5h7M497.5 363v7M494 358.5h7M497.5 355v7M494 357.5h7M497.5 354v7M494 356.5h7M497.5 353v7M494 348.5h7M497.5 345v7M496 343.5h7M499.5 340v7M494 349.5h7M497.5 346v7M495 361.5h7M498.5 358v7M495 368.5h7M498.5 365v7M495 357.5h7M498.5 354v7M495 357.5h7M498.5 354v7M495 372.5h7M498.5 369v7M495 360.5h7M498.5 357v7M496 371.5h7M499.5 368v7M496 393.5h7M499.5 390v7M496 386.5h7M499.5 383v7M496 360.5h7M499.5 357v7M496 364.5h7M499.5 361v7M496 359.5h7M499.5 356v7M496 384.5h7M499.5 381v7M496 362.5h7M499.5 359v7M496 373.5h7M499.5 370v7M496 358.5h7M499.5 355v7M496 391.5h7M499.5 388v7M496 385.5h7M499.5 382v7M496 382.5h7M499.5 379v7M496 383.5h7M499.5 380v7M496 369.5h7M499.5 366v7M497 366.5h7M500.5 363v7M497 386.5h7M500.5 383v7M497 363.5h7M500.5 360v7M497 367.5h7M500.5 364v7M497 366.5h7M500.5 363v7M497 363.5h7M500.5 360v7M497 388.5h7M500.5 385v7M497 394.5h7M500.5 391v7M497 379.5h7M500.5 376v7M497 365.5h7M500.5 362v7M497 364.5h7M500.5 361v7M497 383.5h7M500.5 380v7M497 384.5h7M500.5 381v7M497 349.5h7M500.5 346v7M498 359.5h7M501.5 356v7M498 388.5h7M501.5 385v7M498 384.5h7M501.5 381v7M498 388.5h7M501.5 385v7M498 367.5h7M501.5 364v7M498 376.5h7M501.5 373v7M498 391.5h7M501.5 388v7M498 346.5h7M501.5 343v7M497 350.5h7M500.5 347v7M497 347.5h7M500.5 344v7M498 333.5h7M501.5 330v7M499 359.5h7M502.5 356v7M499 389.5h7M502.5 386v7M499 373.5h7M502.5 370v7M499 377.5h7M502.5 374v7M499 374.5h7M502.5 371v7M499 391.5h7M502.5 388v7M499 378.5h7M502.5 375v7M499 384.5h7M502.5 381v7M499 386.5h7M502.5 383v7M499 354.5h7M502.5 351v7M499 378.5h7M502.5 375v7M499 379.5h7M502.5 376v7M499 358.5h7M502.5 355v7M499 361.5h7M502.5 358v7M499 357.5h7M502.5 354v7M499 371.5h7M502.5 368v7M499 387.5h7M502.5 384v7M499 364.5h7M502.5 361v7M499 391.5h7M502.5 388v7M500 372.5h7M503.5 369v7M500 360.5h7M503.5 357v7M500 381.5h7M503.5 378v7M500 383.5h7M503.5 380v7M500 373.5h7M503.5 370v7M500 389.5h7M503.5 386v7M500 388.5h7M503.5 385v7M500 384.5h7M503.5 381v7M500 387.5h7M503.5 384v7M500 373.5h7M503.5 370v7M500 361.5h7M503.5 358v7M500 377.5h7M503.5 374v7M500 374.5h7M503.5 371v7M500 361.5h7M503.5 358v7M500 352.5h7M503.5 349v7M500 403.5h7M503.5 400v7M501 356.5h7M504.5 353v7M501 369.5h7M504.5 366v7M501 390.5h7M504.5 387v7M501 395.5h7M504.5 392v7M501 362.5h7M504.5 359v7M501 397.5h7M504.5 394v7M501 363.5h7M504.5 360v7M501 356.5h7M504.5 353v7M501 360.5h7M504.5 357v7M501 355.5h7M504.5 352v7M501 365.5h7M504.5 362v7M501 389.5h7M504.5 386v7M501 376.5h7M504.5 373v7M501 390.5h7M504.5 387v7M501 358.5h7M504.5 355v7M501 388.5h7M504.5 385v7M501 335.5h7M504.5 332v7M502 374.5h7M505.5 371v7M502 390.5h7M505.5 387v7M502 385.5h7M505.5 382v7M502 395.5h7M505.5 392v7M502 392.5h7M505.5 389v7M502 393.5h7M505.5 390v7M502 358.5h7M505.5 355v7M502 355.5h7M505.5 352v7M502 372.5h7M505.5 369v7M502 397.5h7M505.5 394v7M502 382.5h7M505.5 379v7M502 381.5h7M505.5 378v7M502 392.5h7M505.5 389v7M502 351.5h7M505.5 348v7M502 355.5h7M505.5 352v7M500 356.5h7M503.5 353v7M502 356.5h7M505.5 353v7M499 351.5h7M502.5 348v7M504 346.5h7M507.5 343v7M500 349.5h7M503.5 346v7M503 361.5h7M506.5 358v7M503 377.5h7M506.5 374v7M503 392.5h7M506.5 389v7M503 365.5h7M506.5 362v7M503 387.5h7M506.5 384v7M503 370.5h7M506.5 367v7M503 360.5h7M506.5 357v7M503 391.5h7M506.5 388v7M503 370.5h7M506.5 367v7M503 383.5h7M506.5 380v7M503 398.5h7M506.5 395v7M503 352.5h7M506.5 349v7M506 353.5h7M509.5 350v7M504 358.5h7M507.5 355v7M504 349.5h7M507.5 346v7M504 360.5h7M507.5 357v7M504 392.5h7M507.5 389v7M504 364.5h7M507.5 361v7M504 377.5h7M507.5 374v7M504 385.5h7M507.5 382v7M504 375.5h7M507.5 372v7M504 367.5h7M507.5 364v7M504 380.5h7M507.5 377v7M504 383.5h7M507.5 380v7M504 360.5h7M507.5 357v7M504 364.5h7M507.5 361v7M504 361.5h7M507.5 358v7M504 322.5h7M507.5 319v7M505 365.5h7M508.5 362v7M505 383.5h7M508.5 380v7M505 385.5h7M508.5 382v7M505 381.5h7M508.5 378v7M505 378.5h7M508.5 375v7M505 365.5h7M508.5 362v7M505 388.5h7M508.5 385v7M505 374.5h7M508.5 371v7M505 382.5h7M508.5 379v7M505 368.5h7M508.5 365v7M505 386.5h7M508.5 383v7M505 376.5h7M508.5 373v7M505 378.5h7M508.5 375v7M505 360.5h7M508.5 357v7M505 369.5h7M508.5 366v7M506 359.5h7M509.5 356v7M506 381.5h7M509.5 378v7M506 372.5h7M509.5 369v7M506 381.5h7M509.5 378v7M506 381.5h7M509.5 378v7M506 381.5h7M509.5 378v7M506 368.5h7M509.5 365v7M507 363.5h7M510.5 360v7M507 367.5h7M510.5 364v7M507 358.5h7M510.5 355v7M507 385.5h7M510.5 382v7M507 385.5h7M510.5 382v7M507 368.5h7M510.5 365v7M507 385.5h7M510.5 382v7M507 364.5h7M510.5 361v7M507 364.5h7M510.5 361v7M507 374.5h7M510.5 371v7M507 363.5h7M510.5 360v7M507 385.5h7M510.5 382v7M507 353.5h7M510.5 350v7M507 333.5h7M510.5 330v7M507 343.5h7M510.5 340v7M508 379.5h7M511.5 376v7M508 362.5h7M511.5 359v7M508 358.5h7M511.5 355v7M508 384.5h7M511.5 381v7M508 357.5h7M511.5 354v7M508 385.5h7M511.5 382v7M508 375.5h7M511.5 372v7M508 369.5h7M511.5 366v7M508 366.5h7M511.5 363v7M508 355.5h7M511.5 352v7M509 371.5h7M512.5 368v7M509 360.5h7M512.5 357v7M509 379.5h7M512.5 376v7M509 360.5h7M512.5 357v7M509 386.5h7M512.5 383v7M509 372.5h7M512.5 369v7M509 374.5h7M512.5 371v7M509 368.5h7M512.5 365v7M509 356.5h7M512.5 353v7M510 373.5h7M513.5 370v7M510 377.5h7M513.5 374v7M510 385.5h7M513.5 382v7M510 379.5h7M513.5 376v7M510 376.5h7M513.5 373v7M510 378.5h7M513.5 375v7M510 373.5h7M513.5 370v7M510 352.5h7M513.5 349v7M510 354.5h7M513.5 351v7M509 351.5h7M512.5 348v7M511 349.5h7M514.5 346v7M512 349.5h7M515.5 346v7M511 362.5h7M514.5 359v7M511 379.5h7M514.5 376v7M511 384.5h7M514.5 381v7M511 386.5h7M514.5 383v7M511 376.5h7M514.5 373v7M511 366.5h7M514.5 363v7M511 359.5h7M514.5 356v7M511 380.5h7M514.5 377v7M511 377.5h7M514.5 374v7M514 347.5h7M517.5 344v7M509 344.5h7M512.5 341v7M510 349.5h7M513.5 346v7M512 389.5h7M515.5 386v7M512 378.5h7M515.5 375v7M512 378.5h7M515.5 375v7M512 359.5h7M515.5 356v7M512 386.5h7M515.5 383v7M512 383.5h7M515.5 380v7M512 379.5h7M515.5 376v7M512 387.5h7M515.5 384v7M512 375.5h7M515.5 372v7M512 355.5h7M515.5 352v7M513 400.5h7M516.5 397v7M513 399.5h7M516.5 396v7M513 382.5h7M516.5 379v7M513 391.5h7M516.5 388v7M513 364.5h7M516.5 361v7M513 373.5h7M516.5 370v7M513 398.5h7M516.5 395v7M513 371.5h7M516.5 368v7M513 366.5h7M516.5 363v7M513 359.5h7M516.5 356v7M514 382.5h7M517.5 379v7M514 378.5h7M517.5 375v7M514 378.5h7M517.5 375v7M514 388.5h7M517.5 385v7M514 367.5h7M517.5 364v7M514 393.5h7M517.5 390v7M514 389.5h7M517.5 386v7M514 369.5h7M517.5 366v7M514 374.5h7M517.5 371v7M514 394.5h7M517.5 391v7M514 377.5h7M517.5 374v7M514 361.5h7M517.5 358v7M514 351.5h7M517.5 348v7M515 392.5h7M518.5 389v7M515 381.5h7M518.5 378v7M515 395.5h7M518.5 392v7M515 386.5h7M518.5 383v7M515 398.5h7M518.5 395v7M515 382.5h7M518.5 379v7M515 371.5h7M518.5 368v7M515 397.5h7M518.5 394v7M515 396.5h7M518.5 393v7M515 394.5h7M518.5 391v7M515 385.5h7M518.5 382v7M515 372.5h7M518.5 369v7M515 363.5h7M518.5 360v7M515 393.5h7M518.5 390v7M515 387.5h7M518.5 384v7M516 390.5h7M519.5 387v7M516 384.5h7M519.5 381v7M516 382.5h7M519.5 379v7M516 363.5h7M519.5 360v7M516 385.5h7M519.5 382v7M516 387.5h7M519.5 384v7M516 396.5h7M519.5 393v7M516 396.5h7M519.5 393v7M516 395.5h7M519.5 392v7M516 365.5h7M519.5 362v7M516 398.5h7M519.5 395v7M516 384.5h7M519.5 381v7M516 397.5h7M519.5 394v7M516 399.5h7M519.5 396v7M516 366.5h7M519.5 363v7M516 379.5h7M519.5 376v7M516 383.5h7M519.5 380v7M516 387.5h7M519.5 384v7M516 400.5h7M519.5 397v7M516 364.5h7M519.5 361v7M516 387.5h7M519.5 384v7M516 382.5h7M519.5 379v7M516 368.5h7M519.5 365v7M516 390.5h7M519.5 387v7M516 392.5h7M519.5 389v7M517 380.5h7M520.5 377v7M517 403.5h7M520.5 400v7M517 383.5h7M520.5 380v7M517 369.5h7M520.5 366v7M517 388.5h7M520.5 385v7M517 367.5h7M520.5 364v7M517 400.5h7M520.5 397v7M517 384.5h7M520.5 381v7M517 394.5h7M520.5 391v7M517 399.5h7M520.5 396v7M517 396.5h7M520.5 393v7M517 397.5h7M520.5 394v7M517 396.5h7M520.5 393v7M517 380.5h7M520.5 377v7M517 365.5h7M520.5 362v7M517 374.5h7M520.5 371v7M517 391.5h7M520.5 388v7M513 357.5h7M516.5 354v7M518 360.5h7M521.5 357v7M516 359.5h7M519.5 356v7M517 353.5h7M520.5 350v7M517 409.5h7M520.5 406v7M518 390.5h7M521.5 387v7M518 379.5h7M521.5 376v7M518 389.5h7M521.5 386v7M518 397.5h7M521.5 394v7M518 373.5h7M521.5 370v7M518 377.5h7M521.5 374v7M518 369.5h7M521.5 366v7M518 382.5h7M521.5 379v7M518 368.5h7M521.5 365v7M518 365.5h7M521.5 362v7M518 396.5h7M521.5 393v7M518 395.5h7M521.5 392v7M518 365.5h7M521.5 362v7M518 393.5h7M521.5 390v7M518 394.5h7M521.5 391v7M518 379.5h7M521.5 376v7M518 377.5h7M521.5 374v7M519 395.5h7M522.5 392v7M519 373.5h7M522.5 370v7M519 377.5h7M522.5 374v7M519 384.5h7M522.5 381v7M519 377.5h7M522.5 374v7M519 392.5h7M522.5 389v7M519 370.5h7M522.5 367v7M519 402.5h7M522.5 399v7M519 403.5h7M522.5 400v7M519 369.5h7M522.5 366v7M519 384.5h7M522.5 381v7M519 378.5h7M522.5 375v7M520 393.5h7M523.5 390v7M520 388.5h7M523.5 385v7M520 398.5h7M523.5 395v7M520 387.5h7M523.5 384v7M520 395.5h7M523.5 392v7M520 401.5h7M523.5 398v7M520 397.5h7M523.5 394v7M520 386.5h7M523.5 383v7M520 375.5h7M523.5 372v7M520 363.5h7M523.5 360v7M521 384.5h7M524.5 381v7M521 365.5h7M524.5 362v7M521 398.5h7M524.5 395v7M521 377.5h7M524.5 374v7M521 386.5h7M524.5 383v7M521 369.5h7M524.5 366v7M521 369.5h7M524.5 366v7M521 385.5h7M524.5 382v7M521 388.5h7M524.5 385v7M521 399.5h7M524.5 396v7M521 389.5h7M524.5 386v7M521 386.5h7M524.5 383v7M521 386.5h7M524.5 383v7M521 374.5h7M524.5 371v7M521 377.5h7M524.5 374v7M521 387.5h7M524.5 384v7M521 369.5h7M524.5 366v7M522 365.5h7M525.5 362v7M522 388.5h7M525.5 385v7M522 375.5h7M525.5 372v7M522 393.5h7M525.5 390v7M522 374.5h7M525.5 371v7M522 376.5h7M525.5 373v7M522 363.5h7M525.5 360v7M522 359.5h7M525.5 356v7M522 362.5h7M525.5 359v7M523 365.5h7M526.5 362v7M523 376.5h7M526.5 373v7M523 382.5h7M526.5 379v7M523 374.5h7M526.5 371v7M523 374.5h7M526.5 371v7M523 365.5h7M526.5 362v7M523 379.5h7M526.5 376v7M523 388.5h7M526.5 385v7M523 379.5h7M526.5 376v7M523 370.5h7M526.5 367v7M523 380.5h7M526.5 377v7M523 373.5h7M526.5 370v7M523 373.5h7M526.5 370v7M523 365.5h7M526.5 362v7M523 382.5h7M526.5 379v7M526 357.5h7M529.5 354v7M519 365.5h7M522.5 362v7M524 359.5h7M527.5 356v7M523 357.5h7M526.5 354v7M524 372.5h7M527.5 369v7M524 385.5h7M527.5 382v7M524 371.5h7M527.5 368v7M524 377.5h7M527.5 374v7M524 384.5h7M527.5 381v7M524 365.5h7M527.5 362v7M524 372.5h7M527.5 369v7M524 372.5h7M527.5 369v7M524 381.5h7M527.5 378v7M524 386.5h7M527.5 383v7M525 381.5h7M528.5 378v7M525 361.5h7M528.5 358v7M525 389.5h7M528.5 386v7M525 364.5h7M528.5 361v7M525 383.5h7M528.5 380v7M525 368.5h7M528.5 365v7M525 362.5h7M528.5 359v7M525 383.5h7M528.5 380v7M525 357.5h7M528.5 354v7M528 357.5h7M531.5 354v7M524 352.5h7M527.5 349v7M524 354.5h7M527.5 351v7M526 381.5h7M529.5 378v7M526 372.5h7M529.5 369v7M526 375.5h7M529.5 372v7M526 362.5h7M529.5 359v7M526 375.5h7M529.5 372v7M526 374.5h7M529.5 371v7M526 386.5h7M529.5 383v7M526 369.5h7M529.5 366v7M526 363.5h7M529.5 360v7M526 371.5h7M529.5 368v7M526 382.5h7M529.5 379v7M526 343.5h7M529.5 340v7M527 366.5h7M530.5 363v7M527 374.5h7M530.5 371v7M527 365.5h7M530.5 362v7M527 391.5h7M530.5 388v7M527 372.5h7M530.5 369v7M527 383.5h7M530.5 380v7M527 364.5h7M530.5 361v7M527 380.5h7M530.5 377v7M527 398.5h7M530.5 395v7M528 357.5h7M531.5 354v7M528 374.5h7M531.5 371v7M528 400.5h7M531.5 397v7M528 371.5h7M531.5 368v7M528 358.5h7M531.5 355v7M528 392.5h7M531.5 389v7M528 360.5h7M531.5 357v7M528 388.5h7M531.5 385v7M528 379.5h7M531.5 376v7M528 395.5h7M531.5 392v7M528 379.5h7M531.5 376v7M528 386.5h7M531.5 383v7M528 367.5h7M531.5 364v7M528 400.5h7M531.5 397v7M528 365.5h7M531.5 362v7M528 352.5h7M531.5 349v7M528 349.5h7M531.5 346v7M528 353.5h7M531.5 350v7M530 353.5h7M533.5 350v7M526 355.5h7M529.5 352v7M529 360.5h7M532.5 357v7M529 400.5h7M532.5 397v7M529 390.5h7M532.5 387v7M529 372.5h7M532.5 369v7M529 370.5h7M532.5 367v7M529 400.5h7M532.5 397v7M529 365.5h7M532.5 362v7M529 393.5h7M532.5 390v7M529 375.5h7M532.5 372v7M529 388.5h7M532.5 385v7M529 393.5h7M532.5 390v7M529 359.5h7M532.5 356v7M529 367.5h7M532.5 364v7M529 360.5h7M532.5 357v7M529 373.5h7M532.5 370v7M529 361.5h7M532.5 358v7M529 398.5h7M532.5 395v7M529 392.5h7M532.5 389v7M529 382.5h7M532.5 379v7M529 363.5h7M532.5 360v7M529 349.5h7M532.5 346v7M531 346.5h7M534.5 343v7M530 348.5h7M533.5 345v7M525 331.5h7M528.5 328v7M530 336.5h7M533.5 333v7M527 334.5h7M530.5 331v7M528 337.5h7M531.5 334v7M533 335.5h7M536.5 332v7M529 335.5h7M532.5 332v7M527 343.5h7M530.5 340v7M528 344.5h7M531.5 341v7M529 341.5h7M532.5 338v7M529 329.5h7M532.5 326v7M530 371.5h7M533.5 368v7M530 379.5h7M533.5 376v7M530 381.5h7M533.5 378v7M530 393.5h7M533.5 390v7M530 395.5h7M533.5 392v7M530 367.5h7M533.5 364v7M530 394.5h7M533.5 391v7M530 357.5h7M533.5 354v7M530 363.5h7M533.5 360v7M530 373.5h7M533.5 370v7M530 357.5h7M533.5 354v7M530 370.5h7M533.5 367v7M530 354.5h7M533.5 351v7M530 392.5h7M533.5 389v7M530 385.5h7M533.5 382v7M530 365.5h7M533.5 362v7M530 378.5h7M533.5 375v7M530 372.5h7M533.5 369v7M530 392.5h7M533.5 389v7M530 367.5h7M533.5 364v7M530 364.5h7M533.5 361v7M530 390.5h7M533.5 387v7M530 389.5h7M533.5 386v7M530 346.5h7M533.5 343v7M531 340.5h7M534.5 337v7M529 338.5h7M532.5 335v7M529 340.5h7M532.5 337v7M532 331.5h7M535.5 328v7M534 330.5h7M537.5 327v7M530 330.5h7M533.5 327v7M531 376.5h7M534.5 373v7M531 354.5h7M534.5 351v7M531 392.5h7M534.5 389v7M531 388.5h7M534.5 385v7M531 390.5h7M534.5 387v7M531 384.5h7M534.5 381v7M531 366.5h7M534.5 363v7M531 386.5h7M534.5 383v7M531 352.5h7M534.5 349v7M531 322.5h7M534.5 319v7M532 384.5h7M535.5 381v7M532 397.5h7M535.5 394v7M532 378.5h7M535.5 375v7M532 378.5h7M535.5 375v7M532 353.5h7M535.5 350v7M532 360.5h7M535.5 357v7M532 390.5h7M535.5 387v7M532 364.5h7M535.5 361v7M532 352.5h7M535.5 349v7M532 351.5h7M535.5 348v7M533 357.5h7M536.5 354v7M533 392.5h7M536.5 389v7M533 364.5h7M536.5 361v7M533 395.5h7M536.5 392v7M533 398.5h7M536.5 395v7M533 388.5h7M536.5 385v7M533 382.5h7M536.5 379v7M533 373.5h7M536.5 370v7M533 395.5h7M536.5 392v7M533 382.5h7M536.5 379v7M533 357.5h7M536.5 354v7M533 386.5h7M536.5 383v7M533 368.5h7M536.5 365v7M533 359.5h7M536.5 356v7M533 370.5h7M536.5 367v7M533 392.5h7M536.5 389v7M533 387.5h7M536.5 384v7M533 370.5h7M536.5 367v7M533 391.5h7M536.5 388v7M533 347.5h7M536.5 344v7M536 339.5h7M539.5 336v7M534 338.5h7M537.5 335v7M533 345.5h7M536.5 342v7M534 396.5h7M537.5 393v7M534 361.5h7M537.5 358v7M534 388.5h7M537.5 385v7M534 358.5h7M537.5 355v7M534 391.5h7M537.5 388v7M534 358.5h7M537.5 355v7M534 370.5h7M537.5 367v7M534 370.5h7M537.5 367v7M534 383.5h7M537.5 380v7M534 367.5h7M537.5 364v7M534 389.5h7M537.5 386v7M534 397.5h7M537.5 394v7M534 385.5h7M537.5 382v7M535 384.5h7M538.5 381v7M535 376.5h7M538.5 373v7M535 366.5h7M538.5 363v7M535 357.5h7M538.5 354v7M535 358.5h7M538.5 355v7M535 355.5h7M538.5 352v7M535 371.5h7M538.5 368v7M535 395.5h7M538.5 392v7M535 358.5h7M538.5 355v7M535 376.5h7M538.5 373v7M535 380.5h7M538.5 377v7M535 394.5h7M538.5 391v7M535 397.5h7M538.5 394v7M535 382.5h7M538.5 379v7M535 352.5h7M538.5 349v7M535 352.5h7M538.5 349v7M536 380.5h7M539.5 377v7M536 376.5h7M539.5 373v7M536 370.5h7M539.5 367v7M536 377.5h7M539.5 374v7M536 375.5h7M539.5 372v7M536 354.5h7M539.5 351v7M536 383.5h7M539.5 380v7M536 388.5h7M539.5 385v7M536 373.5h7M539.5 370v7M536 352.5h7M539.5 349v7M535 345.5h7M538.5 342v7M538 346.5h7M541.5 343v7M536 343.5h7M539.5 340v7M536 321.5h7M539.5 318v7M537 358.5h7M540.5 355v7M537 395.5h7M540.5 392v7M537 369.5h7M540.5 366v7M537 394.5h7M540.5 391v7M537 364.5h7M540.5 361v7M537 369.5h7M540.5 366v7M537 364.5h7M540.5 361v7M537 379.5h7M540.5 376v7M537 364.5h7M540.5 361v7M537 383.5h7M540.5 380v7M537 383.5h7M540.5 380v7M537 387.5h7M540.5 384v7M537 349.5h7M540.5 346v7M540 331.5h7M543.5 328v7M538 330.5h7M541.5 327v7M537 331.5h7M540.5 328v7M538 385.5h7M541.5 382v7M538 381.5h7M541.5 378v7M538 385.5h7M541.5 382v7M538 389.5h7M541.5 386v7M538 368.5h7M541.5 365v7M538 369.5h7M541.5 366v7M538 361.5h7M541.5 358v7M538 367.5h7M541.5 364v7M538 351.5h7M541.5 348v7M538 346.5h7M541.5 343v7M534 332.5h7M537.5 329v7M537 334.5h7M540.5 331v7M538 333.5h7M541.5 330v7M539 351.5h7M542.5 348v7M540 351.5h7M543.5 348v7M539 350.5h7M542.5 347v7M538 341.5h7M541.5 338v7M536 339.5h7M539.5 336v7M536 339.5h7M539.5 336v7M539 375.5h7M542.5 372v7M539 390.5h7M542.5 387v7M539 387.5h7M542.5 384v7M539 389.5h7M542.5 386v7M539 371.5h7M542.5 368v7M539 366.5h7M542.5 363v7M539 379.5h7M542.5 376v7M539 395.5h7M542.5 392v7M539 384.5h7M542.5 381v7M539 363.5h7M542.5 360v7M539 388.5h7M542.5 385v7M539 392.5h7M542.5 389v7M539 385.5h7M542.5 382v7M539 385.5h7M542.5 382v7M539 352.5h7M542.5 349v7M539 350.5h7M542.5 347v7M539 323.5h7M542.5 320v7M540 368.5h7M543.5 365v7M540 359.5h7M543.5 356v7M540 373.5h7M543.5 370v7M540 362.5h7M543.5 359v7M540 383.5h7M543.5 380v7M540 395.5h7M543.5 392v7M540 366.5h7M543.5 363v7M540 364.5h7M543.5 361v7M540 376.5h7M543.5 373v7M540 358.5h7M543.5 355v7M540 359.5h7M543.5 356v7M540 361.5h7M543.5 358v7M540 389.5h7M543.5 386v7M540 375.5h7M543.5 372v7M540 388.5h7M543.5 385v7M540 348.5h7M543.5 345v7M541 360.5h7M544.5 357v7M541 374.5h7M544.5 371v7M541 371.5h7M544.5 368v7M541 358.5h7M544.5 355v7M541 359.5h7M544.5 356v7M541 384.5h7M544.5 381v7M541 382.5h7M544.5 379v7M541 371.5h7M544.5 368v7M541 358.5h7M544.5 355v7M541 364.5h7M544.5 361v7M541 372.5h7M544.5 369v7M541 386.5h7M544.5 383v7M541 371.5h7M544.5 368v7M541 386.5h7M544.5 383v7M541 369.5h7M544.5 366v7M541 380.5h7M544.5 377v7M541 386.5h7M544.5 383v7M541 371.5h7M544.5 368v7M541 347.5h7M544.5 344v7M537 330.5h7M540.5 327v7M538 328.5h7M541.5 325v7M540 328.5h7M543.5 325v7M542 385.5h7M545.5 382v7M542 364.5h7M545.5 361v7M542 364.5h7M545.5 361v7M542 396.5h7M545.5 393v7M542 368.5h7M545.5 365v7M542 392.5h7M545.5 389v7M542 371.5h7M545.5 368v7M542 393.5h7M545.5 390v7M542 389.5h7M545.5 386v7M542 366.5h7M545.5 363v7M542 355.5h7M545.5 352v7M542 349.5h7M545.5 346v7M547 331.5h7M550.5 328v7M544 334.5h7M547.5 331v7M546 332.5h7M549.5 329v7M543 394.5h7M546.5 391v7M543 357.5h7M546.5 354v7M543 355.5h7M546.5 352v7M543 392.5h7M546.5 389v7M543 364.5h7M546.5 361v7M543 368.5h7M546.5 365v7M543 359.5h7M546.5 356v7M543 375.5h7M546.5 372v7M543 362.5h7M546.5 359v7M543 356.5h7M546.5 353v7M543 395.5h7M546.5 392v7M543 359.5h7M546.5 356v7M543 369.5h7M546.5 366v7M543 362.5h7M546.5 359v7M543 389.5h7M546.5 386v7M543 387.5h7M546.5 384v7M543 393.5h7M546.5 390v7M543 352.5h7M546.5 349v7M543 348.5h7M546.5 345v7M542 333.5h7M545.5 330v7M543 334.5h7M546.5 331v7M544 337.5h7M547.5 334v7M544 389.5h7M547.5 386v7M544 364.5h7M547.5 361v7M544 379.5h7M547.5 376v7M544 393.5h7M547.5 390v7M544 373.5h7M547.5 370v7M544 363.5h7M547.5 360v7M544 367.5h7M547.5 364v7M544 386.5h7M547.5 383v7M544 382.5h7M547.5 379v7M544 381.5h7M547.5 378v7M544 362.5h7M547.5 359v7M544 386.5h7M547.5 383v7M544 390.5h7M547.5 387v7M544 373.5h7M547.5 370v7M544 365.5h7M547.5 362v7M544 380.5h7M547.5 377v7M544 388.5h7M547.5 385v7M544 373.5h7M547.5 370v7M544 378.5h7M547.5 375v7M544 386.5h7M547.5 383v7M544 393.5h7M547.5 390v7M544 357.5h7M547.5 354v7M544 349.5h7M547.5 346v7M545 345.5h7M548.5 342v7M542 345.5h7M545.5 342v7M544 341.5h7M547.5 338v7M545 369.5h7M548.5 366v7M545 395.5h7M548.5 392v7M545 368.5h7M548.5 365v7M545 361.5h7M548.5 358v7M545 377.5h7M548.5 374v7M545 363.5h7M548.5 360v7M545 381.5h7M548.5 378v7M545 366.5h7M548.5 363v7M545 369.5h7M548.5 366v7M545 383.5h7M548.5 380v7M545 383.5h7M548.5 380v7M545 355.5h7M548.5 352v7M545 378.5h7M548.5 375v7M545 378.5h7M548.5 375v7M546 339.5h7M549.5 336v7M544 347.5h7M547.5 344v7M548 345.5h7M551.5 342v7M546 370.5h7M549.5 367v7M546 395.5h7M549.5 392v7M546 391.5h7M549.5 388v7M546 389.5h7M549.5 386v7M546 385.5h7M549.5 382v7M546 361.5h7M549.5 358v7M547 335.5h7M550.5 332v7M544 338.5h7M547.5 335v7M547 337.5h7M550.5 334v7M548 350.5h7M551.5 347v7M544 351.5h7M547.5 348v7M547 352.5h7M550.5 349v7M547 359.5h7M550.5 356v7M547 395.5h7M550.5 392v7M547 371.5h7M550.5 368v7M547 369.5h7M550.5 366v7M547 393.5h7M550.5 390v7M547 390.5h7M550.5 387v7M547 364.5h7M550.5 361v7M547 358.5h7M550.5 355v7M547 392.5h7M550.5 389v7M547 370.5h7M550.5 367v7M547 373.5h7M550.5 370v7M547 343.5h7M550.5 340v7M547 342.5h7M550.5 339v7M549 344.5h7M552.5 341v7M547 335.5h7M550.5 332v7M549 335.5h7M552.5 332v7M547 333.5h7M550.5 330v7M547 346.5h7M550.5 343v7M549 341.5h7M552.5 338v7M545 343.5h7M548.5 340v7M548 376.5h7M551.5 373v7M548 392.5h7M551.5 389v7M548 354.5h7M551.5 351v7M548 376.5h7M551.5 373v7M548 354.5h7M551.5 351v7M548 397.5h7M551.5 394v7M548 373.5h7M551.5 370v7M548 383.5h7M551.5 380v7M548 364.5h7M551.5 361v7M548 348.5h7M551.5 345v7M548 349.5h7M551.5 346v7M546 335.5h7M549.5 332v7M552 337.5h7M555.5 334v7M548 334.5h7M551.5 331v7M548 329.5h7M551.5 326v7M546 326.5h7M549.5 323v7M552 330.5h7M555.5 327v7M547 331.5h7M550.5 328v7M551 326.5h7M554.5 323v7M549 329.5h7M552.5 326v7M549 355.5h7M552.5 352v7M549 386.5h7M552.5 383v7M549 392.5h7M552.5 389v7M549 363.5h7M552.5 360v7M549 356.5h7M552.5 353v7M549 370.5h7M552.5 367v7M549 358.5h7M552.5 355v7M549 372.5h7M552.5 369v7M549 364.5h7M552.5 361v7M549 378.5h7M552.5 375v7M549 348.5h7M552.5 345v7M549 348.5h7M552.5 345v7M549 350.5h7M552.5 347v7M549 351.5h7M552.5 348v7M549 352.5h7M552.5 349v7M549 400.5h7M552.5 397v7M550 383.5h7M553.5 380v7M550 381.5h7M553.5 378v7M550 382.5h7M553.5 379v7M550 361.5h7M553.5 358v7M550 375.5h7M553.5 372v7M550 355.5h7M553.5 352v7M550 371.5h7M553.5 368v7M550 355.5h7M553.5 352v7M550 395.5h7M553.5 392v7M550 368.5h7M553.5 365v7M550 364.5h7M553.5 361v7M550 393.5h7M553.5 390v7M550 372.5h7M553.5 369v7M550 376.5h7M553.5 373v7M550 391.5h7M553.5 388v7M550 376.5h7M553.5 373v7M550 370.5h7M553.5 367v7M550 385.5h7M553.5 382v7M551 354.5h7M554.5 351v7M551 368.5h7M554.5 365v7M551 390.5h7M554.5 387v7M551 374.5h7M554.5 371v7M551 380.5h7M554.5 377v7M551 369.5h7M554.5 366v7M551 368.5h7M554.5 365v7M551 368.5h7M554.5 365v7M551 365.5h7M554.5 362v7M551 355.5h7M554.5 352v7M551 383.5h7M554.5 380v7M551 367.5h7M554.5 364v7M551 393.5h7M554.5 390v7M551 379.5h7M554.5 376v7M551 360.5h7M554.5 357v7M551 366.5h7M554.5 363v7M551 361.5h7M554.5 358v7M551 386.5h7M554.5 383v7M551 364.5h7M554.5 361v7M551 349.5h7M554.5 346v7M550 331.5h7M553.5 328v7M550 324.5h7M553.5 321v7M549 331.5h7M552.5 328v7M553 349.5h7M556.5 346v7M551 347.5h7M554.5 344v7M550 345.5h7M553.5 342v7M552 386.5h7M555.5 383v7M552 377.5h7M555.5 374v7M552 365.5h7M555.5 362v7M552 358.5h7M555.5 355v7M552 394.5h7M555.5 391v7M552 357.5h7M555.5 354v7M552 362.5h7M555.5 359v7M552 389.5h7M555.5 386v7M552 355.5h7M555.5 352v7M552 360.5h7M555.5 357v7M552 370.5h7M555.5 367v7M552 360.5h7M555.5 357v7M553 350.5h7M556.5 347v7M553 354.5h7M556.5 351v7M551 345.5h7M554.5 342v7M553 364.5h7M556.5 361v7M553 385.5h7M556.5 382v7M553 374.5h7M556.5 371v7M553 391.5h7M556.5 388v7M553 379.5h7M556.5 376v7M553 395.5h7M556.5 392v7M553 361.5h7M556.5 358v7M553 366.5h7M556.5 363v7M553 380.5h7M556.5 377v7M553 384.5h7M556.5 381v7M553 372.5h7M556.5 369v7M553 392.5h7M556.5 389v7M553 372.5h7M556.5 369v7M553 399.5h7M556.5 396v7M553 351.5h7M556.5 348v7M556 345.5h7M559.5 342v7M554 341.5h7M557.5 338v7M551 345.5h7M554.5 342v7M554 373.5h7M557.5 370v7M554 392.5h7M557.5 389v7M554 384.5h7M557.5 381v7M554 389.5h7M557.5 386v7M554 395.5h7M557.5 392v7M554 368.5h7M557.5 365v7M554 370.5h7M557.5 367v7M554 396.5h7M557.5 393v7M554 372.5h7M557.5 369v7M554 379.5h7M557.5 376v7M554 395.5h7M557.5 392v7M554 385.5h7M557.5 382v7M554 399.5h7M557.5 396v7M554 354.5h7M557.5 351v7M554 350.5h7M557.5 347v7M555 389.5h7M558.5 386v7M555 395.5h7M558.5 392v7M555 374.5h7M558.5 371v7M555 360.5h7M558.5 357v7M555 391.5h7M558.5 388v7M555 389.5h7M558.5 386v7M555 389.5h7M558.5 386v7M555 354.5h7M558.5 351v7M555 359.5h7M558.5 356v7M555 403.5h7M558.5 400v7M555 382.5h7M558.5 379v7M555 366.5h7M558.5 363v7M555 356.5h7M558.5 353v7M555 378.5h7M558.5 375v7M555 370.5h7M558.5 367v7M555 361.5h7M558.5 358v7M555 353.5h7M558.5 350v7M555 322.5h7M558.5 319v7M556 398.5h7M559.5 395v7M556 382.5h7M559.5 379v7M556 383.5h7M559.5 380v7M556 373.5h7M559.5 370v7M556 397.5h7M559.5 394v7M556 386.5h7M559.5 383v7M556 357.5h7M559.5 354v7M556 400.5h7M559.5 397v7M556 383.5h7M559.5 380v7M556 367.5h7M559.5 364v7M556 355.5h7M559.5 352v7M556 355.5h7M559.5 352v7M556 359.5h7M559.5 356v7M556 367.5h7M559.5 364v7M556 381.5h7M559.5 378v7M556 365.5h7M559.5 362v7M556 350.5h7M559.5 347v7M556 348.5h7M559.5 345v7M556 333.5h7M559.5 330v7M556 335.5h7M559.5 332v7M554 332.5h7M557.5 329v7M557 359.5h7M560.5 356v7M557 370.5h7M560.5 367v7M557 363.5h7M560.5 360v7M557 388.5h7M560.5 385v7M557 393.5h7M560.5 390v7M557 394.5h7M560.5 391v7M557 400.5h7M560.5 397v7M557 373.5h7M560.5 370v7M557 386.5h7M560.5 383v7M557 402.5h7M560.5 399v7M557 379.5h7M560.5 376v7M557 380.5h7M560.5 377v7M557 387.5h7M560.5 384v7M557 355.5h7M560.5 352v7M557 352.5h7M560.5 349v7M558 385.5h7M561.5 382v7M558 400.5h7M561.5 397v7M558 367.5h7M561.5 364v7M558 376.5h7M561.5 373v7M558 397.5h7M561.5 394v7M558 376.5h7M561.5 373v7M558 383.5h7M561.5 380v7M558 379.5h7M561.5 376v7M558 402.5h7M561.5 399v7M558 387.5h7M561.5 384v7M558 392.5h7M561.5 389v7M558 355.5h7M561.5 352v7M558 373.5h7M561.5 370v7M558 391.5h7M561.5 388v7M558 362.5h7M561.5 359v7M558 392.5h7M561.5 389v7M558 399.5h7M561.5 396v7M558 391.5h7M561.5 388v7M558 390.5h7M561.5 387v7M558 324.5h7M561.5 321v7M559 391.5h7M562.5 388v7M559 388.5h7M562.5 385v7M559 380.5h7M562.5 377v7M559 362.5h7M562.5 359v7M559 364.5h7M562.5 361v7M559 397.5h7M562.5 394v7M559 372.5h7M562.5 369v7M559 389.5h7M562.5 386v7M559 399.5h7M562.5 396v7M559 365.5h7M562.5 362v7M559 357.5h7M562.5 354v7M559 356.5h7M562.5 353v7M559 374.5h7M562.5 371v7M559 392.5h7M562.5 389v7M559 391.5h7M562.5 388v7M559 381.5h7M562.5 378v7M559 354.5h7M562.5 351v7M559 365.5h7M562.5 362v7M559 361.5h7M562.5 358v7M559 361.5h7M562.5 358v7M559 360.5h7M562.5 357v7M560 336.5h7M563.5 333v7M560 336.5h7M563.5 333v7M559 340.5h7M562.5 337v7M560 362.5h7M563.5 359v7M560 394.5h7M563.5 391v7M560 393.5h7M563.5 390v7M560 376.5h7M563.5 373v7M560 386.5h7M563.5 383v7M560 364.5h7M563.5 361v7M560 367.5h7M563.5 364v7M560 394.5h7M563.5 391v7M560 375.5h7M563.5 372v7M560 387.5h7M563.5 384v7M560 351.5h7M563.5 348v7M560 348.5h7M563.5 345v7M561 349.5h7M564.5 346v7M560 350.5h7M563.5 347v7M560 348.5h7M563.5 345v7M556 352.5h7M559.5 349v7M559 356.5h7M562.5 353v7M561 351.5h7M564.5 348v7M560 400.5h7M563.5 397v7M561 361.5h7M564.5 358v7M561 376.5h7M564.5 373v7M561 384.5h7M564.5 381v7M561 369.5h7M564.5 366v7M561 390.5h7M564.5 387v7M561 394.5h7M564.5 391v7M561 365.5h7M564.5 362v7M561 372.5h7M564.5 369v7M561 391.5h7M564.5 388v7M561 377.5h7M564.5 374v7M561 387.5h7M564.5 384v7M561 369.5h7M564.5 366v7M561 390.5h7M564.5 387v7M561 391.5h7M564.5 388v7M561 388.5h7M564.5 385v7M561 393.5h7M564.5 390v7M561 372.5h7M564.5 369v7M561 377.5h7M564.5 374v7M561 348.5h7M564.5 345v7M561 351.5h7M564.5 348v7M560 353.5h7M563.5 350v7M559 353.5h7M562.5 350v7M558 351.5h7M561.5 348v7M562 392.5h7M565.5 389v7M562 378.5h7M565.5 375v7M562 375.5h7M565.5 372v7M562 370.5h7M565.5 367v7M562 382.5h7M565.5 379v7M562 380.5h7M565.5 377v7M562 377.5h7M565.5 374v7M562 385.5h7M565.5 382v7M562 377.5h7M565.5 374v7M562 385.5h7M565.5 382v7M562 377.5h7M565.5 374v7M562 389.5h7M565.5 386v7M562 365.5h7M565.5 362v7M562 371.5h7M565.5 368v7M562 369.5h7M565.5 366v7M562 393.5h7M565.5 390v7M562 356.5h7M565.5 353v7M562 355.5h7M565.5 352v7M561 352.5h7M564.5 349v7M560 359.5h7M563.5 356v7M564 355.5h7M567.5 352v7M563 358.5h7M566.5 355v7M563 357.5h7M566.5 354v7M563 380.5h7M566.5 377v7M563 388.5h7M566.5 385v7M563 394.5h7M566.5 391v7M563 376.5h7M566.5 373v7M563 387.5h7M566.5 384v7M563 366.5h7M566.5 363v7M563 358.5h7M566.5 355v7M563 380.5h7M566.5 377v7M563 370.5h7M566.5 367v7M563 373.5h7M566.5 370v7M563 361.5h7M566.5 358v7M563 385.5h7M566.5 382v7M563 352.5h7M566.5 349v7M563 351.5h7M566.5 348v7M562 339.5h7M565.5 336v7M561 333.5h7M564.5 330v7M562 338.5h7M565.5 335v7M564 370.5h7M567.5 367v7M564 367.5h7M567.5 364v7M564 383.5h7M567.5 380v7M564 374.5h7M567.5 371v7M564 367.5h7M567.5 364v7M564 396.5h7M567.5 393v7M564 365.5h7M567.5 362v7M564 373.5h7M567.5 370v7M564 368.5h7M567.5 365v7M564 390.5h7M567.5 387v7M564 384.5h7M567.5 381v7M564 394.5h7M567.5 391v7M564 367.5h7M567.5 364v7M564 391.5h7M567.5 388v7M564 352.5h7M567.5 349v7M564 338.5h7M567.5 335v7M565 337.5h7M568.5 334v7M563 335.5h7M566.5 332v7M565 386.5h7M568.5 383v7M565 371.5h7M568.5 368v7M565 388.5h7M568.5 385v7M565 385.5h7M568.5 382v7M565 361.5h7M568.5 358v7M565 356.5h7M568.5 353v7M565 384.5h7M568.5 381v7M565 376.5h7M568.5 373v7M565 382.5h7M568.5 379v7M565 384.5h7M568.5 381v7M565 376.5h7M568.5 373v7M565 362.5h7M568.5 359v7M565 380.5h7M568.5 377v7M565 368.5h7M568.5 365v7M565 356.5h7M568.5 353v7M565 331.5h7M568.5 328v7M566 377.5h7M569.5 374v7M566 359.5h7M569.5 356v7M566 363.5h7M569.5 360v7M566 359.5h7M569.5 356v7M566 379.5h7M569.5 376v7M566 384.5h7M569.5 381v7M566 396.5h7M569.5 393v7M566 366.5h7M569.5 363v7M566 391.5h7M569.5 388v7M566 381.5h7M569.5 378v7M566 328.5h7M569.5 325v7M567 362.5h7M570.5 359v7M567 358.5h7M570.5 355v7M567 380.5h7M570.5 377v7M567 363.5h7M570.5 360v7M567 395.5h7M570.5 392v7M567 397.5h7M570.5 394v7M567 380.5h7M570.5 377v7M567 382.5h7M570.5 379v7M567 361.5h7M570.5 358v7M567 390.5h7M570.5 387v7M567 374.5h7M570.5 371v7M567 388.5h7M570.5 385v7M567 374.5h7M570.5 371v7M567 390.5h7M570.5 387v7M567 361.5h7M570.5 358v7M567 397.5h7M570.5 394v7M567 385.5h7M570.5 382v7M567 370.5h7M570.5 367v7M567 373.5h7M570.5 370v7M567 365.5h7M570.5 362v7M567 377.5h7M570.5 374v7M567 394.5h7M570.5 391v7M567 353.5h7M570.5 350v7M568 357.5h7M571.5 354v7M568 395.5h7M571.5 392v7M568 371.5h7M571.5 368v7M568 374.5h7M571.5 371v7M568 378.5h7M571.5 375v7M568 394.5h7M571.5 391v7M568 358.5h7M571.5 355v7M568 391.5h7M571.5 388v7M568 384.5h7M571.5 381v7M568 379.5h7M571.5 376v7M568 373.5h7M571.5 370v7M568 379.5h7M571.5 376v7M568 385.5h7M571.5 382v7M568 375.5h7M571.5 372v7M568 395.5h7M571.5 392v7M568 356.5h7M571.5 353v7M568 332.5h7M571.5 329v7M569 379.5h7M572.5 376v7M569 397.5h7M572.5 394v7M569 385.5h7M572.5 382v7M569 375.5h7M572.5 372v7M569 383.5h7M572.5 380v7M569 384.5h7M572.5 381v7M569 362.5h7M572.5 359v7M569 372.5h7M572.5 369v7M569 363.5h7M572.5 360v7M569 361.5h7M572.5 358v7M570 361.5h7M573.5 358v7M570 398.5h7M573.5 395v7M570 388.5h7M573.5 385v7M570 385.5h7M573.5 382v7M570 383.5h7M573.5 380v7M570 387.5h7M573.5 384v7M570 364.5h7M573.5 361v7M570 387.5h7M573.5 384v7M570 371.5h7M573.5 368v7M570 365.5h7M573.5 362v7M570 368.5h7M573.5 365v7M570 391.5h7M573.5 388v7M570 373.5h7M573.5 370v7M570 354.5h7M573.5 351v7M570 350.5h7M573.5 347v7M570 355.5h7M573.5 352v7M570 355.5h7M573.5 352v7M571 393.5h7M574.5 390v7M571 359.5h7M574.5 356v7M571 379.5h7M574.5 376v7M571 369.5h7M574.5 366v7M571 392.5h7M574.5 389v7M571 364.5h7M574.5 361v7M571 360.5h7M574.5 357v7M571 372.5h7M574.5 369v7M571 388.5h7M574.5 385v7M571 387.5h7M574.5 384v7M571 370.5h7M574.5 367v7M571 387.5h7M574.5 384v7M571 362.5h7M574.5 359v7M571 375.5h7M574.5 372v7M571 393.5h7M574.5 390v7M571 363.5h7M574.5 360v7M571 366.5h7M574.5 363v7M571 371.5h7M574.5 368v7M571 365.5h7M574.5 362v7M571 378.5h7M574.5 375v7M571 374.5h7M574.5 371v7M571 381.5h7M574.5 378v7M569 333.5h7M572.5 330v7M573 335.5h7M576.5 332v7M573 333.5h7M576.5 330v7M572 367.5h7M575.5 364v7M572 371.5h7M575.5 368v7M572 380.5h7M575.5 377v7M572 368.5h7M575.5 365v7M572 381.5h7M575.5 378v7M572 394.5h7M575.5 391v7M572 362.5h7M575.5 359v7M572 367.5h7M575.5 364v7M572 396.5h7M575.5 393v7M572 392.5h7M575.5 389v7M572 357.5h7M575.5 354v7M572 360.5h7M575.5 357v7M572 383.5h7M575.5 380v7M572 391.5h7M575.5 388v7M572 397.5h7M575.5 394v7M572 361.5h7M575.5 358v7M572 376.5h7M575.5 373v7M572 378.5h7M575.5 375v7M572 392.5h7M575.5 389v7M572 376.5h7M575.5 373v7M572 358.5h7M575.5 355v7M573 345.5h7M576.5 342v7M571 345.5h7M574.5 342v7M574 346.5h7M577.5 343v7M573 391.5h7M576.5 388v7M573 393.5h7M576.5 390v7M573 385.5h7M576.5 382v7M573 378.5h7M576.5 375v7M573 390.5h7M576.5 387v7M573 359.5h7M576.5 356v7M573 357.5h7M576.5 354v7M573 393.5h7M576.5 390v7M573 386.5h7M576.5 383v7M573 374.5h7M576.5 371v7M573 367.5h7M576.5 364v7M573 397.5h7M576.5 394v7M573 328.5h7M576.5 325v7M574 366.5h7M577.5 363v7M574 380.5h7M577.5 377v7M574 372.5h7M577.5 369v7M574 370.5h7M577.5 367v7M574 380.5h7M577.5 377v7M574 394.5h7M577.5 391v7M574 379.5h7M577.5 376v7M574 370.5h7M577.5 367v7M574 364.5h7M577.5 361v7M574 391.5h7M577.5 388v7M574 383.5h7M577.5 380v7M574 365.5h7M577.5 362v7M574 390.5h7M577.5 387v7M574 359.5h7M577.5 356v7M574 360.5h7M577.5 357v7M574 368.5h7M577.5 365v7M574 389.5h7M577.5 386v7M574 378.5h7M577.5 375v7M574 385.5h7M577.5 382v7M574 394.5h7M577.5 391v7M574 397.5h7M577.5 394v7M574 391.5h7M577.5 388v7M574 347.5h7M577.5 344v7M575 396.5h7M578.5 393v7M575 376.5h7M578.5 373v7M575 363.5h7M578.5 360v7M575 383.5h7M578.5 380v7M575 380.5h7M578.5 377v7M575 386.5h7M578.5 383v7M575 398.5h7M578.5 395v7M575 374.5h7M578.5 371v7M575 356.5h7M578.5 353v7M575 364.5h7M578.5 361v7M575 373.5h7M578.5 370v7M575 367.5h7M578.5 364v7M575 376.5h7M578.5 373v7M575 349.5h7M578.5 346v7M576 373.5h7M579.5 370v7M576 385.5h7M579.5 382v7M576 398.5h7M579.5 395v7M576 382.5h7M579.5 379v7M576 365.5h7M579.5 362v7M576 386.5h7M579.5 383v7M576 365.5h7M579.5 362v7M576 385.5h7M579.5 382v7M576 380.5h7M579.5 377v7M576 356.5h7M579.5 353v7M576 364.5h7M579.5 361v7M576 366.5h7M579.5 363v7M576 355.5h7M579.5 352v7M580 333.5h7M583.5 330v7M576 334.5h7M579.5 331v7M577 335.5h7M580.5 332v7M577 367.5h7M580.5 364v7M577 367.5h7M580.5 364v7M577 368.5h7M580.5 365v7M577 376.5h7M580.5 373v7M577 375.5h7M580.5 372v7M577 357.5h7M580.5 354v7M577 373.5h7M580.5 370v7M577 390.5h7M580.5 387v7M577 388.5h7M580.5 385v7M577 361.5h7M580.5 358v7M577 365.5h7M580.5 362v7M577 352.5h7M580.5 349v7M577 353.5h7M580.5 350v7M577 348.5h7M580.5 345v7M580 350.5h7M583.5 347v7M575 348.5h7M578.5 345v7M578 359.5h7M581.5 356v7M578 394.5h7M581.5 391v7M578 375.5h7M581.5 372v7M578 376.5h7M581.5 373v7M578 394.5h7M581.5 391v7M578 369.5h7M581.5 366v7M578 379.5h7M581.5 376v7M578 360.5h7M581.5 357v7M577 337.5h7M580.5 334v7M579 333.5h7M582.5 330v7M581 336.5h7M584.5 333v7M579 342.5h7M582.5 339v7M576 347.5h7M579.5 344v7M581 340.5h7M584.5 337v7M579 362.5h7M582.5 359v7M579 365.5h7M582.5 362v7M579 382.5h7M582.5 379v7M579 388.5h7M582.5 385v7M579 359.5h7M582.5 356v7M579 388.5h7M582.5 385v7M579 375.5h7M582.5 372v7M579 382.5h7M582.5 379v7M579 389.5h7M582.5 386v7M579 360.5h7M582.5 357v7M579 387.5h7M582.5 384v7M579 387.5h7M582.5 384v7M579 376.5h7M582.5 373v7M579 367.5h7M582.5 364v7M579 353.5h7M582.5 350v7M580 348.5h7M583.5 345v7M578 352.5h7M581.5 349v7M579 347.5h7M582.5 344v7M580 394.5h7M583.5 391v7M580 378.5h7M583.5 375v7M580 377.5h7M583.5 374v7M580 392.5h7M583.5 389v7M580 381.5h7M583.5 378v7M580 391.5h7M583.5 388v7M580 381.5h7M583.5 378v7M580 378.5h7M583.5 375v7M580 352.5h7M583.5 349v7M580 350.5h7M583.5 347v7M582 353.5h7M585.5 350v7M581 355.5h7M584.5 352v7M580 354.5h7M583.5 351v7M580 401.5h7M583.5 398v7M581 374.5h7M584.5 371v7M581 377.5h7M584.5 374v7M581 389.5h7M584.5 386v7M581 364.5h7M584.5 361v7M581 391.5h7M584.5 388v7M581 386.5h7M584.5 383v7M581 373.5h7M584.5 370v7M581 397.5h7M584.5 394v7M581 380.5h7M584.5 377v7M581 377.5h7M584.5 374v7M581 378.5h7M584.5 375v7M581 370.5h7M584.5 367v7M581 378.5h7M584.5 375v7M581 360.5h7M584.5 357v7M581 381.5h7M584.5 378v7M578 356.5h7M581.5 353v7M583 352.5h7M586.5 349v7M581 353.5h7M584.5 350v7M582 368.5h7M585.5 365v7M582 372.5h7M585.5 369v7M582 396.5h7M585.5 393v7M582 359.5h7M585.5 356v7M582 365.5h7M585.5 362v7M582 377.5h7M585.5 374v7M582 352.5h7M585.5 349v7M582 355.5h7M585.5 352v7M582 355.5h7M585.5 352v7M582 355.5h7M585.5 352v7M582 355.5h7M585.5 352v7M579 332.5h7M582.5 329v7M582 332.5h7M585.5 329v7M582 343.5h7M585.5 340v7M582 348.5h7M585.5 345v7M583 358.5h7M586.5 355v7M583 376.5h7M586.5 373v7M583 378.5h7M586.5 375v7M583 379.5h7M586.5 376v7M583 361.5h7M586.5 358v7M583 396.5h7M586.5 393v7M583 377.5h7M586.5 374v7M583 384.5h7M586.5 381v7M583 388.5h7M586.5 385v7M583 367.5h7M586.5 364v7M583 357.5h7M586.5 354v7M583 382.5h7M586.5 379v7M583 394.5h7M586.5 391v7M583 393.5h7M586.5 390v7M583 393.5h7M586.5 390v7M583 365.5h7M586.5 362v7M583 393.5h7M586.5 390v7M583 402.5h7M586.5 399v7M149 356.5h7M152.5 353v7M149 348.5h7M152.5 345v7M148 353.5h7M151.5 350v7M147 351.5h7M150.5 348v7M148 355.5h7M151.5 352v7M150 353.5h7M153.5 350v7M152 352.5h7M155.5 349v7M151 354.5h7M154.5 351v7M196 332.5h7M199.5 329v7M198 335.5h7M201.5 332v7M198 330.5h7M201.5 327v7M201 338.5h7M204.5 335v7M198 334.5h7M201.5 331v7M200 338.5h7M203.5 335v7M201 334.5h7M204.5 331v7M200 340.5h7M203.5 337v7M191 335.5h7M194.5 332v7M208 361.5h7M211.5 358v7M203 356.5h7M206.5 353v7M208 361.5h7M211.5 358v7M206 345.5h7M209.5 342v7M200 345.5h7M203.5 342v7M193 344.5h7M196.5 341v7M189 334.5h7M192.5 331v7M205 350.5h7M208.5 347v7M207 346.5h7M210.5 343v7M206 349.5h7M209.5 346v7M200 348.5h7M203.5 345v7M207 365.5h7M210.5 362v7M202 345.5h7M205.5 342v7M196 341.5h7M199.5 338v7M192 340.5h7M195.5 337v7M209 357.5h7M212.5 354v7M192 331.5h7M195.5 328v7M197 329.5h7M200.5 326v7M200 340.5h7M203.5 337v7M208 348.5h7M211.5 345v7M194 332.5h7M197.5 329v7M203 343.5h7M206.5 340v7M200 341.5h7M203.5 338v7M205 345.5h7M208.5 342v7M209 341.5h7M212.5 338v7M189 333.5h7M192.5 330v7M200 342.5h7M203.5 339v7M205 356.5h7M208.5 353v7M195 345.5h7M198.5 342v7M204 343.5h7M207.5 340v7M206 362.5h7M209.5 359v7M208 357.5h7M211.5 354v7M195 347.5h7M198.5 344v7M196 340.5h7M199.5 337v7M205 349.5h7M208.5 346v7M190 339.5h7M193.5 336v7M193 342.5h7M196.5 339v7M203 350.5h7M206.5 347v7M196 346.5h7M199.5 343v7M275 343.5h7M278.5 340v7M266 340.5h7M269.5 337v7M260 326.5h7M263.5 323v7M276 344.5h7M279.5 341v7M273 344.5h7M276.5 341v7M273 348.5h7M276.5 345v7M278 351.5h7M281.5 348v7M262 325.5h7M265.5 322v7M276 349.5h7M279.5 346v7M273 348.5h7M276.5 345v7M277 346.5h7M280.5 343v7M257 322.5h7M260.5 319v7M272 330.5h7M275.5 327v7M261 327.5h7M264.5 324v7M266 339.5h7M269.5 336v7M277 345.5h7M280.5 342v7M279 340.5h7M282.5 337v7M272 332.5h7M275.5 329v7M275 344.5h7M278.5 341v7M258 327.5h7M261.5 324v7M273 346.5h7M276.5 343v7M266 331.5h7M269.5 328v7M278 358.5h7M281.5 355v7M273 347.5h7M276.5 344v7M271 338.5h7M274.5 335v7M270 331.5h7M273.5 328v7M269 343.5h7M272.5 340v7M280 365.5h7M283.5 362v7M260 335.5h7M263.5 332v7M276 346.5h7M279.5 343v7M262 328.5h7M265.5 325v7M267 336.5h7M270.5 333v7M264 327.5h7M267.5 324v7M265 329.5h7M268.5 326v7M279 352.5h7M282.5 349v7M274 346.5h7M277.5 343v7M279 350.5h7M282.5 347v7M278 354.5h7M281.5 351v7M278 351.5h7M281.5 348v7M267 343.5h7M270.5 340v7M267 343.5h7M270.5 340v7M281 352.5h7M284.5 349v7M274 338.5h7M277.5 335v7M278 355.5h7M281.5 352v7M280 352.5h7M283.5 349v7M355 313.5h7M358.5 310v7M364 309.5h7M367.5 306v7M374 331.5h7M377.5 328v7M351 306.5h7M354.5 303v7M368 363.5h7M371.5 360v7M366 350.5h7M369.5 347v7M376 347.5h7M379.5 344v7M369 326.5h7M372.5 323v7M361 323.5h7M364.5 320v7M362 349.5h7M365.5 346v7M361 306.5h7M364.5 303v7M369 359.5h7M372.5 356v7M367 362.5h7M370.5 359v7M366 348.5h7M369.5 345v7M374 348.5h7M377.5 345v7M359 330.5h7M362.5 327v7M370 331.5h7M373.5 328v7M362 316.5h7M365.5 313v7M368 341.5h7M371.5 338v7M364 354.5h7M367.5 351v7M367 314.5h7M370.5 311v7M358 315.5h7M361.5 312v7M364 333.5h7M367.5 330v7M371 356.5h7M374.5 353v7M360 304.5h7M363.5 301v7M356 307.5h7M359.5 304v7M365 345.5h7M368.5 342v7M364 318.5h7M367.5 315v7M371 326.5h7M374.5 323v7M364 348.5h7M367.5 345v7M364 308.5h7M367.5 305v7M363 327.5h7M366.5 324v7M370 353.5h7M373.5 350v7M360 313.5h7M363.5 310v7M355 299.5h7M358.5 296v7M364 308.5h7M367.5 305v7M361 329.5h7M364.5 326v7M361 331.5h7M364.5 328v7M361 308.5h7M364.5 305v7M372 342.5h7M375.5 339v7M369 342.5h7M372.5 339v7M374 355.5h7M377.5 352v7M361 316.5h7M364.5 313v7M364 335.5h7M367.5 332v7M364 340.5h7M367.5 337v7M370 303.5h7M373.5 300v7M364 354.5h7M367.5 351v7M370 359.5h7M373.5 356v7M362 305.5h7M365.5 302v7M370 356.5h7M373.5 353v7M371 347.5h7M374.5 344v7M361 335.5h7M364.5 332v7M362 317.5h7M365.5 314v7M359 323.5h7M362.5 320v7M362 299.5h7M365.5 296v7M382 368.5h7M385.5 365v7M374 314.5h7M377.5 311v7M383 330.5h7M386.5 327v7M384 333.5h7M387.5 330v7M383 368.5h7M386.5 365v7M378 306.5h7M381.5 303v7M380 328.5h7M383.5 325v7M380 355.5h7M383.5 352v7M381 347.5h7M384.5 344v7M386 332.5h7M389.5 329v7M384 295.5h7M387.5 292v7M386 316.5h7M389.5 313v7M387 337.5h7M390.5 334v7M377 313.5h7M380.5 310v7M389 361.5h7M392.5 358v7M386 336.5h7M389.5 333v7M381 335.5h7M384.5 332v7M381 322.5h7M384.5 319v7M386 356.5h7M389.5 353v7M389 361.5h7M392.5 358v7M387 310.5h7M390.5 307v7M388 365.5h7M391.5 362v7M383 317.5h7M386.5 314v7M379 341.5h7M382.5 338v7M385 331.5h7M388.5 328v7M389 369.5h7M392.5 366v7M390 364.5h7M393.5 361v7M378 337.5h7M381.5 334v7M381 328.5h7M384.5 325v7M388 372.5h7M391.5 369v7M384 360.5h7M387.5 357v7M377 312.5h7M380.5 309v7M381 308.5h7M384.5 305v7M375 316.5h7M378.5 313v7M384 358.5h7M387.5 355v7M382 307.5h7M385.5 304v7M390 349.5h7M393.5 346v7M372 302.5h7M375.5 299v7M371 317.5h7M374.5 314v7M380 339.5h7M383.5 336v7M384 340.5h7M387.5 337v7M389 337.5h7M392.5 334v7M379 310.5h7M382.5 307v7M378 353.5h7M381.5 350v7M391 360.5h7M394.5 357v7M384 322.5h7M387.5 319v7M379 301.5h7M382.5 298v7M379 315.5h7M382.5 312v7M386 327.5h7M389.5 324v7M380 328.5h7M383.5 325v7M388 350.5h7M391.5 347v7M386 308.5h7M389.5 305v7M383 358.5h7M386.5 355v7M384 344.5h7M387.5 341v7M382 326.5h7M385.5 323v7M382 301.5h7M385.5 298v7M374 303.5h7M377.5 300v7M382 314.5h7M385.5 311v7M387 372.5h7M390.5 369v7M381 332.5h7M384.5 329v7M382 337.5h7M385.5 334v7M376 321.5h7M379.5 318v7M392 343.5h7M395.5 340v7M387 326.5h7M390.5 323v7M374 324.5h7M377.5 321v7M387 337.5h7M390.5 334v7M379 322.5h7M382.5 319v7M399 330.5h7M402.5 327v7M388 335.5h7M391.5 332v7M393 326.5h7M396.5 323v7M361 312.5h7M364.5 309v7M393 343.5h7M396.5 340v7M374 295.5h7M377.5 292v7M378 316.5h7M381.5 313v7M376 314.5h7M379.5 311v7M380 324.5h7M383.5 321v7M380 307.5h7M383.5 304v7M367 327.5h7M370.5 324v7M380 330.5h7M383.5 327v7M380 314.5h7M383.5 311v7M383 289.5h7M386.5 286v7M389 329.5h7M392.5 326v7M383 324.5h7M386.5 321v7M368 315.5h7M371.5 312v7M376 308.5h7M379.5 305v7M383 320.5h7M386.5 317v7M365 312.5h7M368.5 309v7M374 316.5h7M377.5 313v7M372 301.5h7M375.5 298v7M389 328.5h7M392.5 325v7M383 334.5h7M386.5 331v7M368 304.5h7M371.5 301v7M375 339.5h7M378.5 336v7M375 335.5h7M378.5 332v7M385 335.5h7M388.5 332v7M371 308.5h7M374.5 305v7M387 346.5h7M390.5 343v7M386 349.5h7M389.5 346v7M394 338.5h7M397.5 335v7M361 298.5h7M364.5 295v7M393 323.5h7M396.5 320v7M385 331.5h7M388.5 328v7M394 359.5h7M397.5 356v7M387 324.5h7M390.5 321v7M389 328.5h7M392.5 325v7M389 314.5h7M392.5 311v7M390 339.5h7M393.5 336v7M390 326.5h7M393.5 323v7M392 368.5h7M395.5 365v7M391 359.5h7M394.5 356v7M388 310.5h7M391.5 307v7M388 335.5h7M391.5 332v7M389 321.5h7M392.5 318v7M387 308.5h7M390.5 305v7M388 331.5h7M391.5 328v7M391 353.5h7M394.5 350v7M490 244.5h7M493.5 241v7M488 274.5h7M491.5 271v7M489 245.5h7M492.5 242v7M490 262.5h7M493.5 259v7M489 252.5h7M492.5 249v7M489 247.5h7M492.5 244v7M491 244.5h7M494.5 241v7M489 238.5h7M492.5 235v7M488 240.5h7M491.5 237v7M490 237.5h7M493.5 234v7M489 267.5h7M492.5 264v7M490 268.5h7M493.5 265v7M490 247.5h7M493.5 244v7M491 253.5h7M494.5 250v7M490 259.5h7M493.5 256v7M491 264.5h7M494.5 261v7M488 256.5h7M491.5 253v7M489 240.5h7M492.5 237v7M490 252.5h7M493.5 249v7M490 254.5h7M493.5 251v7M488 267.5h7M491.5 264v7M490 258.5h7M493.5 255v7M490 286.5h7M493.5 283v7M492 279.5h7M495.5 276v7M486 302.5h7M489.5 299v7M492 281.5h7M495.5 278v7M488 291.5h7M491.5 288v7M491 281.5h7M494.5 278v7M489 290.5h7M492.5 287v7M488 290.5h7M491.5 287v7M490 294.5h7M493.5 291v7M489 274.5h7M492.5 271v7M489 279.5h7M492.5 276v7M490 295.5h7M493.5 292v7M489 292.5h7M492.5 289v7M490 286.5h7M493.5 283v7M488 283.5h7M491.5 280v7M490 295.5h7M493.5 292v7M490 287.5h7M493.5 284v7M489 293.5h7M492.5 290v7M488 277.5h7M491.5 274v7M489 299.5h7M492.5 296v7M488 285.5h7M491.5 282v7M489 285.5h7M492.5 282v7M489 285.5h7M492.5 282v7M490 298.5h7M493.5 295v7M491 282.5h7M494.5 279v7M488 291.5h7M491.5 288v7M488 293.5h7M491.5 290v7M488 299.5h7M491.5 296v7M489 281.5h7M492.5 278v7M489 279.5h7M492.5 276v7M489 287.5h7M492.5 284v7M492 276.5h7M495.5 273v7M489 293.5h7M492.5 290v7M489 292.5h7M492.5 289v7M489 294.5h7M492.5 291v7M489 292.5h7M492.5 289v7M491 278.5h7M494.5 275v7M488 286.5h7M491.5 283v7M492 351.5h7M495.5 348v7M497 357.5h7M500.5 354v7M490 318.5h7M493.5 315v7M488 307.5h7M491.5 304v7M488 319.5h7M491.5 316v7M492 308.5h7M495.5 305v7M490 366.5h7M493.5 363v7M489 311.5h7M492.5 308v7M487 360.5h7M490.5 357v7M486 343.5h7M489.5 340v7M493 332.5h7M496.5 329v7M495 371.5h7M498.5 368v7M489 340.5h7M492.5 337v7M489 341.5h7M492.5 338v7M489 301.5h7M492.5 298v7M491 312.5h7M494.5 309v7M494 374.5h7M497.5 371v7M492 373.5h7M495.5 370v7M487 365.5h7M490.5 362v7M490 325.5h7M493.5 322v7M492 358.5h7M495.5 355v7M491 367.5h7M494.5 364v7M490 341.5h7M493.5 338v7M490 342.5h7M493.5 339v7M492 379.5h7M495.5 376v7M489 366.5h7M492.5 363v7M494 359.5h7M497.5 356v7M487 304.5h7M490.5 301v7M492 348.5h7M495.5 345v7M495 355.5h7M498.5 352v7M490 346.5h7M493.5 343v7M491 320.5h7M494.5 317v7M492 368.5h7M495.5 365v7M495 359.5h7M498.5 356v7M493 336.5h7M496.5 333v7M493 378.5h7M496.5 375v7M494 371.5h7M497.5 368v7M490 334.5h7M493.5 331v7M493 309.5h7M496.5 306v7M495 342.5h7M498.5 339v7M492 363.5h7M495.5 360v7M490 315.5h7M493.5 312v7M490 314.5h7M493.5 311v7M485 306.5h7M488.5 303v7M491 313.5h7M494.5 310v7M493 338.5h7M496.5 335v7M493 358.5h7M496.5 355v7M490 318.5h7M493.5 315v7M490 311.5h7M493.5 308v7M485 341.5h7M488.5 338v7M493 378.5h7M496.5 375v7M493 363.5h7M496.5 360v7M489 319.5h7M492.5 316v7M492 349.5h7M495.5 346v7M492 357.5h7M495.5 354v7M485 331.5h7M488.5 328v7M493 377.5h7M496.5 374v7M496 363.5h7M499.5 360v7M489 312.5h7M492.5 309v7M489 325.5h7M492.5 322v7M489 345.5h7M492.5 342v7M489 303.5h7M492.5 300v7M489 330.5h7M492.5 327v7M485 354.5h7M488.5 351v7M488 330.5h7M491.5 327v7M493 358.5h7M496.5 355v7M491 309.5h7M494.5 306v7M492 359.5h7M495.5 356v7M493 368.5h7M496.5 365v7M493 337.5h7M496.5 334v7M518 349.5h7M521.5 346v7M522 350.5h7M525.5 347v7M517 350.5h7M520.5 347v7M526 356.5h7M529.5 353v7M521 351.5h7M524.5 348v7M516 356.5h7M519.5 353v7M517 350.5h7M520.5 347v7M517 352.5h7M520.5 349v7M523 348.5h7M526.5 345v7M517 351.5h7M520.5 348v7M536 332.5h7M539.5 329v7M534 334.5h7M537.5 331v7M536 331.5h7M539.5 328v7M535 324.5h7M538.5 321v7M536 335.5h7M539.5 332v7M534 335.5h7M537.5 332v7M534 322.5h7M537.5 319v7M528 327.5h7M531.5 324v7M539 320.5h7M542.5 317v7M532 331.5h7M535.5 328v7M537 330.5h7M540.5 327v7M540 319.5h7M543.5 316v7M533 328.5h7M536.5 325v7M537 330.5h7M540.5 327v7M535 317.5h7M538.5 314v7M537 321.5h7M540.5 318v7M548 336.5h7M551.5 333v7M553 328.5h7M556.5 325v7M547 341.5h7M550.5 338v7M544 336.5h7M547.5 333v7M546 339.5h7M549.5 336v7M546 328.5h7M549.5 325v7M543 323.5h7M546.5 320v7M540 323.5h7M543.5 320v7M547 320.5h7M550.5 317v7M542 330.5h7M545.5 327v7M542 345.5h7M545.5 342v7M545 327.5h7M548.5 324v7M547 324.5h7M550.5 321v7M549 337.5h7M552.5 334v7M554 346.5h7M557.5 343v7M548 341.5h7M551.5 338v7M546 338.5h7M549.5 335v7M546 347.5h7M549.5 344v7M539 324.5h7M542.5 321v7M551 343.5h7M554.5 340v7M555 321.5h7M558.5 318v7M555 324.5h7M558.5 321v7M560 322.5h7M563.5 319v7M556 321.5h7M559.5 318v7M555 323.5h7M558.5 320v7M554 328.5h7M557.5 325v7M552 318.5h7M555.5 315v7M556 323.5h7M559.5 320v7M551 319.5h7M554.5 316v7M560 322.5h7M563.5 319v7M92 307.5h7M95.5 304v7M93 310.5h7M96.5 307v7M92 321.5h7M95.5 318v7M99 332.5h7M102.5 329v7M100 333.5h7M103.5 330v7M93 336.5h7M96.5 333v7M94 339.5h7M97.5 336v7M95 342.5h7M98.5 339v7M126 316.5h7M129.5 313v7M127 319.5h7M130.5 316v7M126 322.5h7M129.5 319v7M125 325.5h7M128.5 322v7M124 328.5h7M127.5 325v7M124 330.5h7M127.5 327v7M122 336.5h7M125.5 333v7M122 358.5h7M125.5 355v7M131 337.5h7M134.5 334v7M128 340.5h7M131.5 337v7M133 340.5h7M136.5 337v7M137 341.5h7M140.5 338v7M129 344.5h7M132.5 341v7M134 345.5h7M137.5 342v7M138 345.5h7M141.5 342v7M131 348.5h7M134.5 345v7M135 348.5h7M138.5 345v7M139 349.5h7M142.5 346v7M130 353.5h7M133.5 350v7M135 353.5h7M138.5 350v7M137 355.5h7M140.5 352v7M150 335.5h7M153.5 332v7M149 339.5h7M152.5 336v7M150 341.5h7M153.5 338v7M152 344.5h7M155.5 341v7M149 346.5h7M152.5 343v7M153 347.5h7M156.5 344v7M147 350.5h7M150.5 347v7M171 319.5h7M174.5 316v7M176 320.5h7M179.5 317v7M170 323.5h7M173.5 320v7M173 323.5h7M176.5 320v7M175 325.5h7M178.5 322v7M176 327.5h7M179.5 324v7M173 328.5h7M176.5 325v7M178 329.5h7M181.5 326v7M174 331.5h7M177.5 328v7M175 333.5h7M178.5 330v7M171 336.5h7M174.5 333v7M174 338.5h7M177.5 335v7M191 331.5h7M194.5 328v7M190 336.5h7M193.5 333v7M192 338.5h7M195.5 335v7M225 92.5h7M228.5 89v7M224 182.5h7M227.5 179v7M93 222.5h7M96.5 219v7M320 177.5h7M323.5 174v7M356 150.5h7M359.5 147v7M356 158.5h7M359.5 155v7M356 182.5h7M359.5 179v7M357 219.5h7M360.5 216v7M470 109.5h7M473.5 106v7M488 139.5h7M491.5 136v7M487 149.5h7M490.5 146v7M479 155.5h7M482.5 152v7M479 158.5h7M482.5 155v7M480 173.5h7M483.5 170v7M487 173.5h7M490.5 170v7M479 178.5h7M482.5 175v7M479 180.5h7M482.5 177v7M479 193.5h7M482.5 190v7M564 316.5h7M567.5 313v7M567 312.5h7M570.5 309v7M582 323.5h7M585.5 320v7M583 330.5h7M586.5 327v7M224 246.5h7M227.5 243v7M221 252.5h7M224.5 249v7M220 257.5h7M223.5 254v7M219 263.5h7M222.5 260v7M222 268.5h7M225.5 265v7M219 270.5h7M222.5 267v7M217 274.5h7M220.5 271v7M217 276.5h7M220.5 273v7M194 257.5h7M197.5 254v7M194 260.5h7M197.5 257v7M195 262.5h7M198.5 259v7M194 264.5h7M197.5 261v7M193 268.5h7M196.5 265v7M192 270.5h7M195.5 267v7M191 280.5h7M194.5 277v7M195 289.5h7M198.5 286v7M191 297.5h7M194.5 294v7M221 294.5h7M224.5 291v7M218 297.5h7M221.5 294v7M223 297.5h7M226.5 294v7M374 236.5h7M377.5 233v7M375 242.5h7M378.5 239v7M375 253.5h7M378.5 250v7M374 256.5h7M377.5 253v7M358 256.5h7M361.5 253v7M365 260.5h7M368.5 257v7M370 261.5h7M373.5 258v7M369 266.5h7M372.5 263v7M359 267.5h7M362.5 264v7M367 269.5h7M370.5 266v7M357 272.5h7M360.5 269v7M368 272.5h7M371.5 269v7M359 275.5h7M362.5 272v7M364 276.5h7M367.5 273v7M373 276.5h7M376.5 273v7M362 281.5h7M365.5 278v7M358 284.5h7M361.5 281v7M377 282.5h7M380.5 279v7M381 284.5h7M384.5 281v7M384 283.5h7M387.5 280v7M382 287.5h7M385.5 284v7M384 287.5h7M387.5 284v7M371 289.5h7M374.5 286v7M369 292.5h7M372.5 289v7M379 295.5h7M382.5 292v7M384 295.5h7M387.5 292v7M361 297.5h7M364.5 294v7M399 289.5h7M402.5 286v7M403 262.5h7M406.5 259v7M404 267.5h7M407.5 264v7M404 270.5h7M407.5 267v7M404 276.5h7M407.5 273v7M404 281.5h7M407.5 278v7M398 299.5h7M401.5 296v7M270 291.5h7M273.5 288v7M270 294.5h7M273.5 291v7M270 297.5h7M273.5 294v7M282 294.5h7M285.5 291v7M282 297.5h7M285.5 294v7M486 204.5h7M489.5 201v7M486 215.5h7M489.5 212v7M485 219.5h7M488.5 216v7M482 221.5h7M485.5 218v7M486 221.5h7M489.5 218v7M487 228.5h7M490.5 225v7M484 229.5h7M487.5 226v7M489 230.5h7M492.5 227v7M488 233.5h7M491.5 230v7M523 198.5h7M526.5 195v7M524 202.5h7M527.5 199v7M473 237.5h7M476.5 234v7M473 240.5h7M476.5 237v7M480 241.5h7M483.5 238v7M481 243.5h7M484.5 240v7M492 238.5h7M495.5 235v7M490 241.5h7M493.5 238v7M489 244.5h7M492.5 241v7M472 247.5h7M475.5 244v7M474 249.5h7M477.5 246v7M474 253.5h7M477.5 250v7M477 265.5h7M480.5 262v7M475 268.5h7M478.5 265v7M472 278.5h7M475.5 275v7M482 277.5h7M485.5 274v7M477 291.5h7M480.5 288v7M407 268.5h7M410.5 265v7M515 273.5h7M518.5 270v7M516 287.5h7M519.5 284v7M515 291.5h7M518.5 288v7M514 296.5h7M517.5 293v7M549 246.5h7M552.5 243v7M540 255.5h7M543.5 252v7M539 261.5h7M542.5 258v7M540 260.5h7M543.5 257v7M550 266.5h7M553.5 263v7M543 273.5h7M546.5 270v7M545 274.5h7M548.5 271v7M544 277.5h7M547.5 274v7M550 278.5h7M553.5 275v7M543 281.5h7M546.5 278v7M542 284.5h7M545.5 281v7M540 286.5h7M543.5 283v7M539 288.5h7M542.5 285v7M546 292.5h7M549.5 289v7M551 293.5h7M554.5 290v7M538 296.5h7M541.5 293v7M565 282.5h7M568.5 279v7M565 286.5h7M568.5 283v7M565 288.5h7M568.5 285v7M469 302.5h7M472.5 299v7M509 316.5h7M512.5 313v7M320 343.5h7M323.5 340v7M322 344.5h7M325.5 341v7M324 343.5h7M327.5 340v7M321 346.5h7M324.5 343v7M323 347.5h7M326.5 344v7M325 346.5h7M328.5 343v7M322 349.5h7M325.5 346v7M320 348.5h7M323.5 345v7M322 354.5h7M325.5 351v7M324 361.5h7M327.5 358v7M326 368.5h7M329.5 365v7M327 374.5h7M330.5 371v7M197 310.5h7M200.5 307v7M196 315.5h7M199.5 312v7M197 317.5h7M200.5 314v7M194 319.5h7M197.5 316v7M199 321.5h7M202.5 318v7M196 323.5h7M199.5 320v7M198 326.5h7M201.5 323v7M195 328.5h7M198.5 325v7M199 328.5h7M202.5 325v7M204 327.5h7M207.5 324v7M216 309.5h7M219.5 306v7M216 312.5h7M219.5 309v7M216 315.5h7M219.5 312v7M225 313.5h7M228.5 310v7M223 301.5h7M226.5 298v7M216 325.5h7M219.5 322v7M214 331.5h7M217.5 328v7M225 328.5h7M228.5 325v7M225 331.5h7M228.5 328v7M234 326.5h7M237.5 323v7M213 340.5h7M216.5 337v7M230 332.5h7M233.5 329v7M236 332.5h7M239.5 329v7M231 335.5h7M234.5 332v7M237 335.5h7M240.5 332v7M232 338.5h7M235.5 335v7M235 340.5h7M238.5 337v7M234 343.5h7M237.5 340v7M232 344.5h7M235.5 341v7M237 345.5h7M240.5 342v7M227 348.5h7M230.5 345v7M232 348.5h7M235.5 345v7M237 348.5h7M240.5 345v7M225 350.5h7M228.5 347v7M239 351.5h7M242.5 348v7M236 353.5h7M239.5 350v7M250 325.5h7M253.5 322v7M250 328.5h7M253.5 325v7M248 333.5h7M251.5 330v7M250 335.5h7M253.5 332v7M251 338.5h7M254.5 335v7M248 343.5h7M251.5 340v7M249 346.5h7M252.5 343v7M247 348.5h7M250.5 345v7M253 351.5h7M256.5 348v7M246 356.5h7M249.5 353v7M261 310.5h7M264.5 307v7M261 312.5h7M264.5 309v7M260 315.5h7M263.5 312v7M261 317.5h7M264.5 314v7M261 319.5h7M264.5 316v7M262 321.5h7M265.5 318v7M272 302.5h7M275.5 299v7M279 302.5h7M282.5 299v7M283 302.5h7M286.5 299v7M274 306.5h7M277.5 303v7M278 307.5h7M281.5 304v7M282 307.5h7M285.5 304v7M270 309.5h7M273.5 306v7M281 310.5h7M284.5 307v7M279 312.5h7M282.5 309v7M274 316.5h7M277.5 313v7M281 317.5h7M284.5 314v7M278 319.5h7M281.5 316v7M281 320.5h7M284.5 317v7M281 328.5h7M284.5 325v7M286 353.5h7M289.5 350v7M286 356.5h7M289.5 353v7M281 348.5h7M284.5 345v7M512 317.5h7M515.5 314v7M510 320.5h7M513.5 317v7M509 323.5h7M512.5 320v7M512 323.5h7M515.5 320v7M510 327.5h7M513.5 324v7M511 333.5h7M514.5 330v7M513 333.5h7M516.5 330v7M509 340.5h7M512.5 337v7M511 343.5h7M514.5 340v7M512 348.5h7M515.5 345v7M510 337.5h7M513.5 334v7M399 305.5h7M402.5 302v7M406 307.5h7M409.5 304v7M398 313.5h7M401.5 310v7M401 317.5h7M404.5 314v7M406 313.5h7M409.5 310v7M402 327.5h7M405.5 324v7M397 331.5h7M400.5 328v7M399 334.5h7M402.5 331v7M405 331.5h7M408.5 328v7M409 333.5h7M412.5 330v7M408 338.5h7M411.5 335v7M407 340.5h7M410.5 337v7M435 317.5h7M438.5 314v7M435 319.5h7M438.5 316v7M435 322.5h7M438.5 319v7M432 326.5h7M435.5 323v7M435 326.5h7M438.5 323v7M432 343.5h7M435.5 340v7M439 349.5h7M442.5 346v7M448 343.5h7M451.5 340v7M448 347.5h7M451.5 344v7M448 353.5h7M451.5 350v7M453 358.5h7M456.5 355v7M470 305.5h7M473.5 302v7M469 311.5h7M472.5 308v7M467 314.5h7M470.5 311v7M470 316.5h7M473.5 313v7M474 313.5h7M477.5 310v7M476 312.5h7M479.5 309v7M482 309.5h7M485.5 306v7M468 328.5h7M471.5 325v7M476 335.5h7M479.5 332v7M484 343.5h7M487.5 340v7M471 350.5h7M474.5 347v7" stroke="#f00" stroke-width="1"/>
</g>
<text x="349" y="33" text-anchor="middle">Day 297 of 2014, Rate Of TEC Index for receiver dyng</text>
<text x="349" y="471" text-anchor="middle">GPS time / hours</text>
<text transform="translate(19,239) rotate(-90)" text-anchor="middle">ROTI / TECUs</text>
<text x="94.5" y="443" text-anchor="middle">0</text><text x="146.5" y="443" text-anchor="middle">1</text><text x="197.5" y="443" text-anchor="middle">2</text><text x="249.5" y="443" text-anchor="middle">3</text><text x="300.5" y="443" text-anchor="middle">4</text><text x="352.5" y="443" text-anchor="middle">5</text><text x="403.5" y="443" text-anchor="middle">6</text><text x="455.5" y="443" text-anchor="middle">7</text><text x="506.5" y="443" text-anchor="middle">8</text><text x="558.5" y="443" text-anchor="middle">9</text><text x="609.5" y="443" text-anchor="middle">10</text>
<text x="80.5" y="424" text-anchor="end">0</text><text x="80.5" y="364" text-anchor="end">0.02</text><text x="80.5" y="303" text-anchor="end">0.04</text><text x="80.5" y="243" text-anchor="end">0.06</text><text x="80.5" y="183" text-anchor="end">0.08</text><text x="80.5" y="122" text-anchor="end">0.1</text><text x="80.5" y="62" text-anchor="end">0.12</text>
</svg>
</body></html>
